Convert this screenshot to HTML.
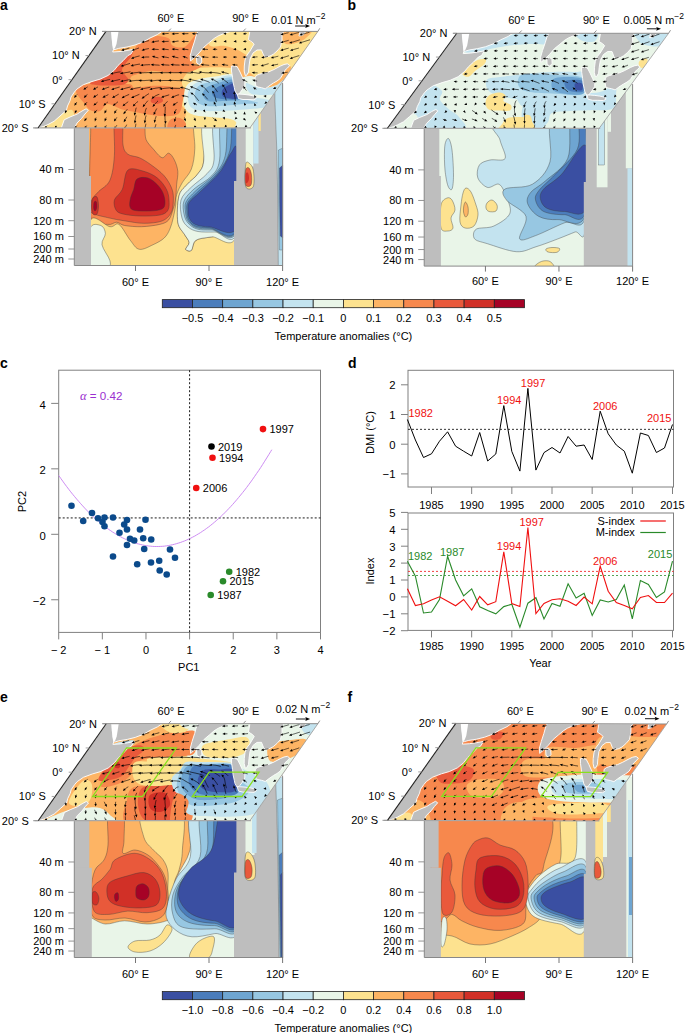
<!DOCTYPE html>
<html><head><meta charset="utf-8"><style>
html,body{margin:0;padding:0;background:#fff;}
svg{display:block;font-family:"Liberation Sans",sans-serif;}
</style></head><body>
<svg width="685" height="1033" viewBox="0 0 685 1033">
<rect width="685" height="1033" fill="#fff"/>
<text x="0.0" y="10.2" font-size="14" text-anchor="start" fill="#000" font-weight="bold" >a</text>
<text x="347.5" y="10.2" font-size="14" text-anchor="start" fill="#000" font-weight="bold" >b</text>
<text x="0.0" y="368.0" font-size="14" text-anchor="start" fill="#000" font-weight="bold" >c</text>
<text x="348.0" y="368.0" font-size="14" text-anchor="start" fill="#000" font-weight="bold" >d</text>
<text x="0.0" y="702.0" font-size="14" text-anchor="start" fill="#000" font-weight="bold" >e</text>
<text x="347.5" y="702.0" font-size="14" text-anchor="start" fill="#000" font-weight="bold" >f</text>
<rect x="162.30" y="299.60" width="30.18" height="8.1" fill="#3a4fa2" stroke="#222" stroke-width="0.8"/>
<rect x="192.48" y="299.60" width="30.18" height="8.1" fill="#4b7dbc" stroke="#222" stroke-width="0.8"/>
<rect x="222.67" y="299.60" width="30.18" height="8.1" fill="#6ea5d1" stroke="#222" stroke-width="0.8"/>
<rect x="252.85" y="299.60" width="30.18" height="8.1" fill="#97c7e2" stroke="#222" stroke-width="0.8"/>
<rect x="283.03" y="299.60" width="30.18" height="8.1" fill="#c3e3ef" stroke="#222" stroke-width="0.8"/>
<rect x="313.22" y="299.60" width="30.18" height="8.1" fill="#e9f5e8" stroke="#222" stroke-width="0.8"/>
<rect x="343.40" y="299.60" width="30.18" height="8.1" fill="#fde28f" stroke="#222" stroke-width="0.8"/>
<rect x="373.58" y="299.60" width="30.18" height="8.1" fill="#fdb464" stroke="#222" stroke-width="0.8"/>
<rect x="403.77" y="299.60" width="30.18" height="8.1" fill="#f7884d" stroke="#222" stroke-width="0.8"/>
<rect x="433.95" y="299.60" width="30.18" height="8.1" fill="#e9593b" stroke="#222" stroke-width="0.8"/>
<rect x="464.13" y="299.60" width="30.18" height="8.1" fill="#d13027" stroke="#222" stroke-width="0.8"/>
<rect x="494.32" y="299.60" width="30.18" height="8.1" fill="#a60226" stroke="#222" stroke-width="0.8"/>
<text x="192.5" y="321.9" font-size="11" text-anchor="middle" fill="#000" font-weight="normal" >−0.5</text>
<text x="222.7" y="321.9" font-size="11" text-anchor="middle" fill="#000" font-weight="normal" >−0.4</text>
<text x="252.9" y="321.9" font-size="11" text-anchor="middle" fill="#000" font-weight="normal" >−0.3</text>
<text x="283.0" y="321.9" font-size="11" text-anchor="middle" fill="#000" font-weight="normal" >−0.2</text>
<text x="313.2" y="321.9" font-size="11" text-anchor="middle" fill="#000" font-weight="normal" >−0.1</text>
<text x="343.4" y="321.9" font-size="11" text-anchor="middle" fill="#000" font-weight="normal" >0</text>
<text x="373.6" y="321.9" font-size="11" text-anchor="middle" fill="#000" font-weight="normal" >0.1</text>
<text x="403.8" y="321.9" font-size="11" text-anchor="middle" fill="#000" font-weight="normal" >0.2</text>
<text x="433.9" y="321.9" font-size="11" text-anchor="middle" fill="#000" font-weight="normal" >0.3</text>
<text x="464.1" y="321.9" font-size="11" text-anchor="middle" fill="#000" font-weight="normal" >0.4</text>
<text x="494.3" y="321.9" font-size="11" text-anchor="middle" fill="#000" font-weight="normal" >0.5</text>
<text x="343.4" y="339.7" font-size="11" text-anchor="middle" fill="#000" font-weight="normal" >Temperature anomalies (°C)</text>
<rect x="162.30" y="991.60" width="30.18" height="8.1" fill="#3a4fa2" stroke="#222" stroke-width="0.8"/>
<rect x="192.48" y="991.60" width="30.18" height="8.1" fill="#4b7dbc" stroke="#222" stroke-width="0.8"/>
<rect x="222.67" y="991.60" width="30.18" height="8.1" fill="#6ea5d1" stroke="#222" stroke-width="0.8"/>
<rect x="252.85" y="991.60" width="30.18" height="8.1" fill="#97c7e2" stroke="#222" stroke-width="0.8"/>
<rect x="283.03" y="991.60" width="30.18" height="8.1" fill="#c3e3ef" stroke="#222" stroke-width="0.8"/>
<rect x="313.22" y="991.60" width="30.18" height="8.1" fill="#e9f5e8" stroke="#222" stroke-width="0.8"/>
<rect x="343.40" y="991.60" width="30.18" height="8.1" fill="#fde28f" stroke="#222" stroke-width="0.8"/>
<rect x="373.58" y="991.60" width="30.18" height="8.1" fill="#fdb464" stroke="#222" stroke-width="0.8"/>
<rect x="403.77" y="991.60" width="30.18" height="8.1" fill="#f7884d" stroke="#222" stroke-width="0.8"/>
<rect x="433.95" y="991.60" width="30.18" height="8.1" fill="#e9593b" stroke="#222" stroke-width="0.8"/>
<rect x="464.13" y="991.60" width="30.18" height="8.1" fill="#d13027" stroke="#222" stroke-width="0.8"/>
<rect x="494.32" y="991.60" width="30.18" height="8.1" fill="#a60226" stroke="#222" stroke-width="0.8"/>
<text x="192.5" y="1013.9" font-size="11" text-anchor="middle" fill="#000" font-weight="normal" >−1.0</text>
<text x="222.7" y="1013.9" font-size="11" text-anchor="middle" fill="#000" font-weight="normal" >−0.8</text>
<text x="252.9" y="1013.9" font-size="11" text-anchor="middle" fill="#000" font-weight="normal" >−0.6</text>
<text x="283.0" y="1013.9" font-size="11" text-anchor="middle" fill="#000" font-weight="normal" >−0.4</text>
<text x="313.2" y="1013.9" font-size="11" text-anchor="middle" fill="#000" font-weight="normal" >−0.2</text>
<text x="343.4" y="1013.9" font-size="11" text-anchor="middle" fill="#000" font-weight="normal" >0</text>
<text x="373.6" y="1013.9" font-size="11" text-anchor="middle" fill="#000" font-weight="normal" >0.2</text>
<text x="403.8" y="1013.9" font-size="11" text-anchor="middle" fill="#000" font-weight="normal" >0.4</text>
<text x="433.9" y="1013.9" font-size="11" text-anchor="middle" fill="#000" font-weight="normal" >0.6</text>
<text x="464.1" y="1013.9" font-size="11" text-anchor="middle" fill="#000" font-weight="normal" >0.8</text>
<text x="494.3" y="1013.9" font-size="11" text-anchor="middle" fill="#000" font-weight="normal" >1.0</text>
<text x="343.4" y="1031.7" font-size="11" text-anchor="middle" fill="#000" font-weight="normal" >Temperature anomalies (°C)</text>
<rect x="58.7" y="370.2" width="261.8" height="262.2" fill="none" stroke="#808080" stroke-width="1"/>
<line x1="51.20" y1="403.38" x2="58.70" y2="403.38" stroke="#808080" stroke-width="1" />
<text x="45.7" y="408.7" font-size="11.3" text-anchor="end" fill="#000" font-weight="normal" >4</text>
<line x1="51.20" y1="468.84" x2="58.70" y2="468.84" stroke="#808080" stroke-width="1" />
<text x="45.7" y="474.1" font-size="11.3" text-anchor="end" fill="#000" font-weight="normal" >2</text>
<line x1="51.20" y1="534.30" x2="58.70" y2="534.30" stroke="#808080" stroke-width="1" />
<text x="45.7" y="539.6" font-size="11.3" text-anchor="end" fill="#000" font-weight="normal" >0</text>
<line x1="51.20" y1="599.76" x2="58.70" y2="599.76" stroke="#808080" stroke-width="1" />
<text x="45.7" y="605.1" font-size="11.3" text-anchor="end" fill="#000" font-weight="normal" >−2</text>
<line x1="58.70" y1="632.40" x2="58.70" y2="639.40" stroke="#808080" stroke-width="1" />
<text x="58.7" y="653.8" font-size="11" text-anchor="middle" fill="#000" font-weight="normal" >− 2</text>
<line x1="102.33" y1="632.40" x2="102.33" y2="639.40" stroke="#808080" stroke-width="1" />
<text x="102.3" y="653.8" font-size="11" text-anchor="middle" fill="#000" font-weight="normal" >− 1</text>
<line x1="145.97" y1="632.40" x2="145.97" y2="639.40" stroke="#808080" stroke-width="1" />
<text x="146.0" y="653.8" font-size="11" text-anchor="middle" fill="#000" font-weight="normal" >0</text>
<line x1="189.60" y1="632.40" x2="189.60" y2="639.40" stroke="#808080" stroke-width="1" />
<text x="189.6" y="653.8" font-size="11" text-anchor="middle" fill="#000" font-weight="normal" >1</text>
<line x1="233.23" y1="632.40" x2="233.23" y2="639.40" stroke="#808080" stroke-width="1" />
<text x="233.2" y="653.8" font-size="11" text-anchor="middle" fill="#000" font-weight="normal" >2</text>
<line x1="276.87" y1="632.40" x2="276.87" y2="639.40" stroke="#808080" stroke-width="1" />
<text x="276.9" y="653.8" font-size="11" text-anchor="middle" fill="#000" font-weight="normal" >3</text>
<line x1="320.50" y1="632.40" x2="320.50" y2="639.40" stroke="#808080" stroke-width="1" />
<text x="320.5" y="653.8" font-size="11" text-anchor="middle" fill="#000" font-weight="normal" >4</text>
<text x="188.8" y="670.5" font-size="11" text-anchor="middle" fill="#000" font-weight="normal" >PC1</text>
<text x="26.0" y="501.6" font-size="11" text-anchor="middle" fill="#000" font-weight="normal" transform="rotate(-90 26 501.6)">PC2</text>
<line x1="189.60" y1="370.20" x2="189.60" y2="632.40" stroke="#000" stroke-width="0.9" stroke-dasharray="2,2"/>
<line x1="58.70" y1="517.93" x2="320.50" y2="517.93" stroke="#000" stroke-width="0.9" stroke-dasharray="2,2"/>
<path d="M58.7,475.5 L60.7,478.3 L62.7,481.1 L64.7,483.9 L66.7,486.6 L68.7,489.2 L70.7,491.8 L72.7,494.3 L74.7,496.7 L76.7,499.1 L78.7,501.4 L80.7,503.7 L82.7,505.9 L84.7,508.1 L86.7,510.2 L88.7,512.2 L90.7,514.2 L92.7,516.1 L94.7,518.0 L96.7,519.8 L98.7,521.5 L100.7,523.2 L102.7,524.8 L104.7,526.4 L106.7,527.9 L108.7,529.4 L110.7,530.7 L112.7,532.1 L114.7,533.3 L116.7,534.6 L118.7,535.7 L120.7,536.8 L122.7,537.9 L124.7,538.8 L126.7,539.8 L128.7,540.6 L130.7,541.4 L132.7,542.2 L134.7,542.8 L136.7,543.5 L138.7,544.0 L140.7,544.5 L142.7,545.0 L144.7,545.4 L146.7,545.7 L148.7,546.0 L150.7,546.2 L152.7,546.4 L154.7,546.5 L156.7,546.5 L158.7,546.5 L160.7,546.4 L162.7,546.3 L164.7,546.1 L166.7,545.8 L168.7,545.5 L170.7,545.1 L172.7,544.7 L174.7,544.2 L176.7,543.6 L178.7,543.0 L180.7,542.4 L182.7,541.6 L184.7,540.9 L186.7,540.0 L188.7,539.1 L190.7,538.2 L192.7,537.1 L194.7,536.1 L196.7,534.9 L198.7,533.7 L200.7,532.5 L202.7,531.1 L204.7,529.8 L206.7,528.3 L208.7,526.9 L210.7,525.3 L212.7,523.7 L214.7,522.0 L216.7,520.3 L218.7,518.5 L220.7,516.7 L222.7,514.8 L224.7,512.8 L226.7,510.8 L228.7,508.7 L230.7,506.6 L232.7,504.4 L234.7,502.1 L236.7,499.8 L238.7,497.4 L240.7,495.0 L242.7,492.5 L244.7,490.0 L246.7,487.4 L248.7,484.7 L250.7,482.0 L252.7,479.2 L254.7,476.3 L256.7,473.4 L258.7,470.5 L260.7,467.5 L262.7,464.4 L264.7,461.2 L266.7,458.0 L268.7,454.8 L270.7,451.5 L271.8,449.7" fill="none" stroke="#c780f0" stroke-width="0.9" />
<text x="80" y="399.6" font-size="11.6" fill="#9a2fd0"><tspan font-style="italic" font-family="Liberation Serif" font-size="12.5">α</tspan> = 0.42</text>
<circle cx="71.5" cy="505.8" r="3.3" fill="#0b4a8b"/>
<circle cx="83.2" cy="521" r="3.3" fill="#0b4a8b"/>
<circle cx="92" cy="513" r="3.3" fill="#0b4a8b"/>
<circle cx="98" cy="518.2" r="3.3" fill="#0b4a8b"/>
<circle cx="104.5" cy="517.5" r="3.3" fill="#0b4a8b"/>
<circle cx="102.5" cy="522" r="3.3" fill="#0b4a8b"/>
<circle cx="104.5" cy="526.2" r="3.3" fill="#0b4a8b"/>
<circle cx="113" cy="517.5" r="3.3" fill="#0b4a8b"/>
<circle cx="113" cy="556.5" r="3.3" fill="#0b4a8b"/>
<circle cx="119.5" cy="532.7" r="3.3" fill="#0b4a8b"/>
<circle cx="124.2" cy="524.5" r="3.3" fill="#0b4a8b"/>
<circle cx="127" cy="520" r="3.3" fill="#0b4a8b"/>
<circle cx="127" cy="529.5" r="3.3" fill="#0b4a8b"/>
<circle cx="127" cy="545" r="3.3" fill="#0b4a8b"/>
<circle cx="130" cy="538.7" r="3.3" fill="#0b4a8b"/>
<circle cx="134.2" cy="540.5" r="3.3" fill="#0b4a8b"/>
<circle cx="137.2" cy="564.2" r="3.3" fill="#0b4a8b"/>
<circle cx="140" cy="529.5" r="3.3" fill="#0b4a8b"/>
<circle cx="143.2" cy="538.2" r="3.3" fill="#0b4a8b"/>
<circle cx="144.2" cy="549" r="3.3" fill="#0b4a8b"/>
<circle cx="145.5" cy="519.7" r="3.3" fill="#0b4a8b"/>
<circle cx="151.2" cy="539.5" r="3.3" fill="#0b4a8b"/>
<circle cx="151" cy="562.5" r="3.3" fill="#0b4a8b"/>
<circle cx="159.2" cy="560.7" r="3.3" fill="#0b4a8b"/>
<circle cx="159.7" cy="570.5" r="3.3" fill="#0b4a8b"/>
<circle cx="166.7" cy="574.5" r="3.3" fill="#0b4a8b"/>
<circle cx="170" cy="549.5" r="3.3" fill="#0b4a8b"/>
<circle cx="175" cy="557.7" r="3.3" fill="#0b4a8b"/>
<circle cx="263" cy="429.1" r="3.3" fill="#f01010"/>
<text x="269.5" y="433.1" font-size="11" text-anchor="start" fill="#000" font-weight="normal" >1997</text>
<circle cx="211.5" cy="446.5" r="3.3" fill="#000"/>
<text x="218.0" y="450.5" font-size="11" text-anchor="start" fill="#000" font-weight="normal" >2019</text>
<circle cx="212.5" cy="457.75" r="3.3" fill="#f01010"/>
<text x="219.0" y="461.8" font-size="11" text-anchor="start" fill="#000" font-weight="normal" >1994</text>
<circle cx="196.25" cy="488" r="3.3" fill="#f01010"/>
<text x="202.8" y="492.0" font-size="11" text-anchor="start" fill="#000" font-weight="normal" >2006</text>
<circle cx="229.2" cy="571.7" r="3.3" fill="#2a8a2a"/>
<text x="235.7" y="575.7" font-size="11" text-anchor="start" fill="#000" font-weight="normal" >1982</text>
<circle cx="223" cy="581.2" r="3.3" fill="#2a8a2a"/>
<text x="229.5" y="585.2" font-size="11" text-anchor="start" fill="#000" font-weight="normal" >2015</text>
<circle cx="210.7" cy="595" r="3.3" fill="#2a8a2a"/>
<text x="217.2" y="599.0" font-size="11" text-anchor="start" fill="#000" font-weight="normal" >1987</text>
<rect x="408" y="370.3" width="265.5" height="116.7" fill="none" stroke="#808080" stroke-width="1"/>
<line x1="401.00" y1="384.80" x2="408.00" y2="384.80" stroke="#808080" stroke-width="1" />
<text x="395.5" y="389.1" font-size="11.3" text-anchor="end" fill="#000" font-weight="normal" >2</text>
<line x1="401.00" y1="414.50" x2="408.00" y2="414.50" stroke="#808080" stroke-width="1" />
<text x="395.5" y="418.8" font-size="11.3" text-anchor="end" fill="#000" font-weight="normal" >1</text>
<line x1="401.00" y1="444.20" x2="408.00" y2="444.20" stroke="#808080" stroke-width="1" />
<text x="395.5" y="448.5" font-size="11.3" text-anchor="end" fill="#000" font-weight="normal" >0</text>
<line x1="401.00" y1="473.90" x2="408.00" y2="473.90" stroke="#808080" stroke-width="1" />
<text x="395.5" y="478.2" font-size="11.3" text-anchor="end" fill="#000" font-weight="normal" >−1</text>
<line x1="431.50" y1="487.00" x2="431.50" y2="494.00" stroke="#808080" stroke-width="1" />
<text x="431.5" y="508.8" font-size="11" text-anchor="middle" fill="#000" font-weight="normal" >1985</text>
<line x1="471.67" y1="487.00" x2="471.67" y2="494.00" stroke="#808080" stroke-width="1" />
<text x="471.7" y="508.8" font-size="11" text-anchor="middle" fill="#000" font-weight="normal" >1990</text>
<line x1="511.83" y1="487.00" x2="511.83" y2="494.00" stroke="#808080" stroke-width="1" />
<text x="511.8" y="508.8" font-size="11" text-anchor="middle" fill="#000" font-weight="normal" >1995</text>
<line x1="552.00" y1="487.00" x2="552.00" y2="494.00" stroke="#808080" stroke-width="1" />
<text x="552.0" y="508.8" font-size="11" text-anchor="middle" fill="#000" font-weight="normal" >2000</text>
<line x1="592.16" y1="487.00" x2="592.16" y2="494.00" stroke="#808080" stroke-width="1" />
<text x="592.2" y="508.8" font-size="11" text-anchor="middle" fill="#000" font-weight="normal" >2005</text>
<line x1="632.33" y1="487.00" x2="632.33" y2="494.00" stroke="#808080" stroke-width="1" />
<text x="632.3" y="508.8" font-size="11" text-anchor="middle" fill="#000" font-weight="normal" >2010</text>
<line x1="672.50" y1="487.00" x2="672.50" y2="494.00" stroke="#808080" stroke-width="1" />
<text x="672.5" y="508.8" font-size="11" text-anchor="middle" fill="#000" font-weight="normal" >2015</text>
<text x="373.5" y="432.5" font-size="11" text-anchor="middle" fill="#000" font-weight="normal" transform="rotate(-90 373.5 432.5)">DMI (°C)</text>
<line x1="408.00" y1="429.35" x2="673.50" y2="429.35" stroke="#000" stroke-width="0.8" stroke-dasharray="2,2"/>
<path d="M407.4,419.5 L415.4,440.0 L423.5,457.5 L431.5,453.8 L439.5,441.2 L447.6,431.8 L455.6,446.2 L463.6,451.2 L471.7,456.0 L479.7,432.5 L487.7,461.0 L495.8,454.0 L503.8,405.6 L511.8,451.4 L519.9,471.1 L527.9,388.4 L535.9,470.1 L544.0,452.6 L552.0,447.5 L560.0,453.0 L568.1,436.5 L576.1,446.2 L584.1,445.0 L592.2,459.5 L600.2,411.2 L608.2,433.8 L616.3,445.0 L624.3,451.2 L632.3,473.2 L640.4,433.0 L648.4,435.5 L656.4,452.5 L664.5,448.0 L672.5,424.5" fill="none" stroke="#000" stroke-width="1" />
<text x="408.5" y="417.3" font-size="11" text-anchor="start" fill="#f01010" font-weight="normal" >1982</text>
<text x="497.0" y="403.8" font-size="11" text-anchor="start" fill="#f01010" font-weight="normal" >1994</text>
<text x="520.8" y="387.3" font-size="11" text-anchor="start" fill="#f01010" font-weight="normal" >1997</text>
<text x="593.0" y="409.8" font-size="11" text-anchor="start" fill="#f01010" font-weight="normal" >2006</text>
<text x="647.0" y="421.5" font-size="11" text-anchor="start" fill="#f01010" font-weight="normal" >2015</text>
<rect x="408" y="513" width="265.5" height="117.4" fill="none" stroke="#808080" stroke-width="1"/>
<line x1="401.00" y1="512.40" x2="408.00" y2="512.40" stroke="#808080" stroke-width="1" />
<text x="395.5" y="516.7" font-size="11.3" text-anchor="end" fill="#000" font-weight="normal" >5</text>
<line x1="401.00" y1="529.30" x2="408.00" y2="529.30" stroke="#808080" stroke-width="1" />
<text x="395.5" y="533.6" font-size="11.3" text-anchor="end" fill="#000" font-weight="normal" >4</text>
<line x1="401.00" y1="546.20" x2="408.00" y2="546.20" stroke="#808080" stroke-width="1" />
<text x="395.5" y="550.5" font-size="11.3" text-anchor="end" fill="#000" font-weight="normal" >3</text>
<line x1="401.00" y1="563.10" x2="408.00" y2="563.10" stroke="#808080" stroke-width="1" />
<text x="395.5" y="567.4" font-size="11.3" text-anchor="end" fill="#000" font-weight="normal" >2</text>
<line x1="401.00" y1="580.00" x2="408.00" y2="580.00" stroke="#808080" stroke-width="1" />
<text x="395.5" y="584.3" font-size="11.3" text-anchor="end" fill="#000" font-weight="normal" >1</text>
<line x1="401.00" y1="596.90" x2="408.00" y2="596.90" stroke="#808080" stroke-width="1" />
<text x="395.5" y="601.2" font-size="11.3" text-anchor="end" fill="#000" font-weight="normal" >0</text>
<line x1="401.00" y1="613.80" x2="408.00" y2="613.80" stroke="#808080" stroke-width="1" />
<text x="395.5" y="618.1" font-size="11.3" text-anchor="end" fill="#000" font-weight="normal" >−1</text>
<line x1="401.00" y1="630.70" x2="408.00" y2="630.70" stroke="#808080" stroke-width="1" />
<text x="395.5" y="635.0" font-size="11.3" text-anchor="end" fill="#000" font-weight="normal" >−2</text>
<line x1="431.50" y1="630.40" x2="431.50" y2="637.40" stroke="#808080" stroke-width="1" />
<text x="431.5" y="650.3" font-size="11" text-anchor="middle" fill="#000" font-weight="normal" >1985</text>
<line x1="471.67" y1="630.40" x2="471.67" y2="637.40" stroke="#808080" stroke-width="1" />
<text x="471.7" y="650.3" font-size="11" text-anchor="middle" fill="#000" font-weight="normal" >1990</text>
<line x1="511.83" y1="630.40" x2="511.83" y2="637.40" stroke="#808080" stroke-width="1" />
<text x="511.8" y="650.3" font-size="11" text-anchor="middle" fill="#000" font-weight="normal" >1995</text>
<line x1="552.00" y1="630.40" x2="552.00" y2="637.40" stroke="#808080" stroke-width="1" />
<text x="552.0" y="650.3" font-size="11" text-anchor="middle" fill="#000" font-weight="normal" >2000</text>
<line x1="592.16" y1="630.40" x2="592.16" y2="637.40" stroke="#808080" stroke-width="1" />
<text x="592.2" y="650.3" font-size="11" text-anchor="middle" fill="#000" font-weight="normal" >2005</text>
<line x1="632.33" y1="630.40" x2="632.33" y2="637.40" stroke="#808080" stroke-width="1" />
<text x="632.3" y="650.3" font-size="11" text-anchor="middle" fill="#000" font-weight="normal" >2010</text>
<line x1="672.50" y1="630.40" x2="672.50" y2="637.40" stroke="#808080" stroke-width="1" />
<text x="672.5" y="650.3" font-size="11" text-anchor="middle" fill="#000" font-weight="normal" >2015</text>
<text x="540.3" y="666.8" font-size="11" text-anchor="middle" fill="#000" font-weight="normal" >Year</text>
<text x="374.0" y="571.0" font-size="11" text-anchor="middle" fill="#000" font-weight="normal" transform="rotate(-90 374 571)">Index</text>
<line x1="408.00" y1="571.40" x2="673.50" y2="571.40" stroke="#f01010" stroke-width="0.8" stroke-dasharray="2,2"/>
<line x1="408.00" y1="575.50" x2="673.50" y2="575.50" stroke="#2a8a2a" stroke-width="0.8" stroke-dasharray="2,2"/>
<path d="M407.4,561.2 L415.4,576.2 L423.5,613.0 L431.5,612.0 L439.5,599.5 L447.6,556.2 L455.6,580.0 L463.6,595.8 L471.7,588.8 L479.7,606.8 L487.7,610.5 L495.8,613.8 L503.8,606.6 L511.8,604.2 L519.9,627.2 L527.9,603.2 L535.9,597.7 L544.0,618.9 L552.0,603.4 L560.0,606.2 L568.1,583.8 L576.1,598.0 L584.1,593.2 L592.2,615.5 L600.2,600.0 L608.2,602.0 L616.3,599.5 L624.3,585.0 L632.3,618.8 L640.4,580.5 L648.4,584.5 L656.4,597.5 L664.5,592.0 L672.5,561.2" fill="none" stroke="#2a8a2a" stroke-width="1.1" />
<path d="M407.4,588.8 L415.4,605.5 L423.5,603.8 L431.5,600.0 L439.5,596.8 L447.6,601.2 L455.6,605.8 L463.6,599.5 L471.7,610.0 L479.7,596.5 L487.7,604.8 L495.8,601.7 L503.8,551.8 L511.8,603.5 L519.9,606.5 L527.9,527.5 L535.9,613.5 L544.0,603.4 L552.0,599.8 L560.0,598.8 L568.1,601.2 L576.1,605.5 L584.1,597.0 L592.2,603.8 L600.2,566.2 L608.2,591.2 L616.3,602.5 L624.3,605.5 L632.3,608.8 L640.4,597.5 L648.4,595.5 L656.4,602.5 L664.5,602.5 L672.5,593.2" fill="none" stroke="#f01010" stroke-width="1.1" />
<text x="408.0" y="560.0" font-size="11" text-anchor="start" fill="#2a8a2a" font-weight="normal" >1982</text>
<text x="440.0" y="556.3" font-size="11" text-anchor="start" fill="#2a8a2a" font-weight="normal" >1987</text>
<text x="496.8" y="550.0" font-size="11" text-anchor="start" fill="#f01010" font-weight="normal" >1994</text>
<text x="519.5" y="525.8" font-size="11" text-anchor="start" fill="#f01010" font-weight="normal" >1997</text>
<text x="593.0" y="565.0" font-size="11" text-anchor="start" fill="#f01010" font-weight="normal" >2006</text>
<text x="647.8" y="557.5" font-size="11" text-anchor="start" fill="#2a8a2a" font-weight="normal" >2015</text>
<text x="634.8" y="525.0" font-size="11" text-anchor="end" fill="#000" font-weight="normal" >S-index</text>
<text x="634.8" y="536.3" font-size="11" text-anchor="end" fill="#000" font-weight="normal" >M-index</text>
<line x1="640.30" y1="521.00" x2="665.80" y2="521.00" stroke="#f01010" stroke-width="1.2" />
<line x1="640.30" y1="532.50" x2="665.80" y2="532.50" stroke="#2a8a2a" stroke-width="1.2" />
<clipPath id="pga"><path d="M106,31.4 L317.9,31.4 L249.89999999999998,127.94999999999999 L38,127.95Z"/></clipPath>
<clipPath id="sca"><rect x="74.3" y="84.5" width="208.9" height="181.0"/></clipPath>
<g clip-path="url(#sca)">
<rect x="74.3" y="68.5" width="208.3" height="197.0" fill="#bebebe"/>
<rect x="89" y="68.5" width="148" height="197.0" fill="#fdb464"/>
<path d="M91.8,120.0 C100.8,118.3 136.1,118.5 145.0,120.0 C153.9,121.5 144.8,125.4 145.0,128.7 C145.2,132.0 144.8,136.3 146.1,139.6 C147.4,142.9 150.2,145.6 152.9,148.6 C155.6,151.6 159.4,156.9 162.0,157.7 C164.6,158.5 166.6,152.8 168.7,153.2 C170.8,153.6 172.9,157.0 174.4,160.0 C175.9,163.0 177.4,167.2 177.8,171.3 C178.2,175.4 177.0,180.0 176.6,184.8 C176.2,189.6 176.1,196.0 175.5,200.0 C174.9,204.0 174.4,205.3 173.3,208.6 C172.2,211.9 171.0,217.3 168.7,219.9 C166.4,222.5 164.2,223.3 159.7,224.4 C155.2,225.5 147.4,226.5 141.6,226.7 C135.8,226.9 128.8,226.2 124.6,225.5 C120.4,224.8 119.5,222.4 116.7,222.2 C113.9,222.0 111.9,225.3 107.6,224.4 C103.3,223.5 93.5,232.2 90.7,216.5 C87.9,200.8 90.5,146.1 90.7,130.0 C90.9,113.9 82.8,121.7 91.8,120.0Z" fill="#f7884d" stroke="#3a3a3a" stroke-width="0.4"/>
<path d="M193.6,120.0 C195.1,115.2 202.1,113.3 203.8,120.0 C205.5,126.7 204.8,151.1 203.8,160.0 C202.9,168.9 200.9,169.4 198.1,173.5 C195.3,177.6 190.0,181.0 186.8,184.8 C183.6,188.6 180.4,190.0 178.9,196.2 C177.4,202.4 176.9,215.8 177.8,222.2 C178.8,228.6 182.7,231.2 184.6,234.6 C186.5,238.0 188.9,240.1 189.1,242.5 C189.3,244.9 185.3,248.0 185.7,249.3 C186.1,250.6 189.7,251.9 191.4,250.4 C193.1,248.9 192.5,242.6 195.9,240.3 C199.3,238.1 204.8,238.0 211.7,236.9 C218.5,235.8 233.3,228.5 237.0,233.5 C240.7,238.5 258.5,261.4 234.0,267.0 C209.5,272.6 113.9,274.9 90.0,267.0 C66.1,259.1 87.4,226.6 90.7,219.9 C94.0,213.2 105.2,225.9 109.9,226.7 C114.6,227.4 115.6,222.1 119.0,224.4 C122.4,226.7 126.9,236.2 130.3,240.3 C133.7,244.5 135.5,248.6 139.3,249.3 C143.1,250.1 148.8,246.7 152.9,244.8 C157.1,242.9 161.4,240.6 164.2,238.0 C167.0,235.4 168.4,232.4 169.9,229.0 C171.4,225.6 172.4,221.4 173.3,217.6 C174.2,213.8 174.9,210.1 175.5,206.3 C176.1,202.5 175.5,198.9 176.6,195.0 C177.7,191.1 179.8,186.9 182.3,182.6 C184.8,178.3 189.3,174.7 191.4,169.0 C193.5,163.3 194.4,156.8 194.8,148.6 C195.2,140.4 192.1,124.8 193.6,120.0Z" fill="#fde28f" stroke="#3a3a3a" stroke-width="0.4"/>
<path d="M90.0,229.0 C91.8,222.1 98.2,224.8 100.8,225.5 C103.4,226.2 105.2,230.3 105.4,233.5 C105.6,236.7 101.2,240.3 102.0,244.8 C102.8,249.3 109.0,256.9 109.9,260.6 C110.8,264.3 110.9,265.9 107.6,267.0 C104.3,268.1 92.9,273.3 90.0,267.0 C87.1,260.7 88.2,235.9 90.0,229.0Z" fill="#e9f5e8" stroke="#3a3a3a" stroke-width="0.4"/>
<path d="M114.4,120.0 C115.7,114.1 120.9,115.8 122.3,120.0 C123.7,124.2 122.0,139.3 123.0,145.0 C124.0,150.7 125.3,152.2 128.0,154.3 C130.7,156.4 135.5,156.0 139.3,157.7 C143.1,159.4 146.4,161.5 150.6,164.5 C154.8,167.5 160.6,171.7 164.2,175.8 C167.8,180.0 170.6,185.1 172.1,189.4 C173.6,193.7 173.5,197.9 173.3,201.8 C173.1,205.8 172.9,209.9 171.0,213.1 C169.1,216.3 166.5,219.3 162.0,221.0 C157.5,222.7 149.9,223.3 143.8,223.3 C137.8,223.3 131.7,221.9 125.7,221.0 C119.7,220.1 113.4,219.1 107.6,217.6 C101.8,216.1 93.3,214.9 90.7,212.0 C88.1,209.1 90.5,203.4 91.8,200.0 C93.1,196.6 95.6,194.9 98.6,191.6 C101.6,188.3 107.3,186.3 109.9,180.3 C112.5,174.3 113.7,165.5 114.4,155.4 C115.2,145.3 113.1,125.9 114.4,120.0Z" fill="#e9593b" stroke="#3a3a3a" stroke-width="0.4"/>
<path d="M128.0,170.0 C131.6,167.0 138.9,170.0 143.8,171.3 C148.7,172.6 153.6,175.0 157.4,178.0 C161.2,181.0 164.6,185.7 166.5,189.4 C168.4,193.1 168.8,196.6 169.0,200.0 C169.2,203.4 169.5,207.5 168.0,210.0 C166.5,212.5 164.7,214.0 160.0,215.0 C155.3,216.0 146.2,216.2 140.0,216.0 C133.8,215.8 127.0,215.0 123.0,214.0 C119.0,213.0 117.4,212.3 116.0,210.0 C114.6,207.7 113.4,203.4 114.4,200.0 C115.5,196.6 120.0,194.4 122.3,189.4 C124.6,184.4 124.4,173.0 128.0,170.0Z" fill="#d13027" stroke="#3a3a3a" stroke-width="0.4"/>
<path d="M137.0,179.0 C139.4,177.1 144.6,177.0 148.0,178.0 C151.4,179.0 154.9,182.3 157.4,184.8 C159.9,187.3 161.7,190.0 163.0,193.0 C164.3,196.0 165.2,200.3 165.0,203.0 C164.8,205.7 164.5,207.7 162.0,209.0 C159.5,210.3 154.5,210.8 150.0,211.0 C145.5,211.2 138.3,211.2 135.0,210.5 C131.7,209.8 130.8,209.1 130.0,207.0 C129.2,204.9 129.9,200.9 130.5,198.0 C131.1,195.1 132.6,192.6 133.7,189.4 C134.8,186.2 134.6,180.9 137.0,179.0Z" fill="#a60226" stroke="#3a3a3a" stroke-width="0.4"/>
<path d="M93.0,198.0 C93.9,196.5 96.1,195.7 97.0,197.0 C97.9,198.3 98.5,203.2 98.5,206.0 C98.5,208.8 97.9,212.7 97.0,214.0 C96.1,215.3 93.9,215.3 93.0,214.0 C92.1,212.7 91.5,208.7 91.5,206.0 C91.5,203.3 92.1,199.5 93.0,198.0Z" fill="#d13027" stroke="#3a3a3a" stroke-width="0.4"/>
<path d="M94.2,202.0 C94.7,201.0 96.1,201.0 96.5,202.0 C96.9,203.0 97.0,206.5 96.8,208.0 C96.5,209.5 95.5,211.0 95.0,211.0 C94.5,211.0 93.7,209.5 93.6,208.0 C93.5,206.5 93.7,203.0 94.2,202.0Z" fill="#a60226" stroke="#3a3a3a" stroke-width="0.4"/>
<path d="M203.8,120.0 C209.3,113.3 231.5,101.1 237.0,120.0 C242.5,138.9 241.2,214.0 237.0,233.5 C232.8,253.0 218.5,235.8 211.7,236.9 C204.8,238.0 199.3,238.1 195.9,240.3 C192.5,242.6 193.1,248.9 191.4,250.4 C189.7,251.9 186.1,250.6 185.7,249.3 C185.3,248.0 189.3,244.9 189.1,242.5 C188.9,240.1 186.5,238.0 184.6,234.6 C182.7,231.2 178.8,228.6 177.8,222.2 C176.9,215.8 177.4,202.4 178.9,196.2 C180.4,190.0 183.6,188.6 186.8,184.8 C190.0,181.0 195.3,177.6 198.1,173.5 C200.9,169.4 202.9,168.9 203.8,160.0 C204.8,151.1 198.3,126.7 203.8,120.0Z" fill="#e9f5e8" stroke="#3a3a3a" stroke-width="0.4"/>
<path d="M214.0,120.0 C217.8,113.3 233.2,101.5 237.0,120.0 C240.8,138.5 240.7,212.3 237.0,231.0 C233.3,249.7 221.5,231.9 215.0,232.0 C208.5,232.1 202.5,232.3 198.0,231.5 C193.5,230.7 190.7,229.2 188.0,227.0 C185.3,224.8 183.2,222.5 182.0,218.0 C180.8,213.5 179.4,205.2 181.0,200.0 C182.6,194.8 187.0,191.5 191.4,187.1 C195.8,182.7 203.4,178.0 207.2,173.5 C211.0,169.0 212.9,168.9 214.0,160.0 C215.1,151.1 210.2,126.7 214.0,120.0Z" fill="#c3e3ef" stroke="#3a3a3a" stroke-width="0.4"/>
<path d="M220.8,120.0 C223.7,113.3 234.3,101.8 237.0,120.0 C239.7,138.2 241.2,211.2 237.0,229.5 C232.8,247.8 218.7,230.1 212.0,230.0 C205.3,229.9 201.0,230.2 197.0,229.0 C193.0,227.8 190.2,225.5 188.0,223.0 C185.8,220.5 184.7,217.7 184.0,214.0 C183.3,210.3 182.3,205.2 184.0,201.0 C185.7,196.8 189.4,193.2 194.0,189.0 C198.6,184.8 207.4,180.6 211.7,175.8 C216.0,171.0 218.1,169.3 219.6,160.0 C221.1,150.7 217.9,126.7 220.8,120.0Z" fill="#97c7e2" stroke="#3a3a3a" stroke-width="0.4"/>
<path d="M228.0,120.0 C229.9,114.1 235.5,101.9 237.0,120.0 C238.5,138.1 241.3,210.3 237.0,228.5 C232.7,246.7 217.8,229.2 211.0,229.0 C204.2,228.8 199.8,228.8 196.0,227.5 C192.2,226.2 189.8,223.6 188.0,221.0 C186.2,218.4 185.8,215.2 185.5,212.0 C185.2,208.8 184.2,205.6 186.0,202.0 C187.8,198.4 191.2,195.2 196.0,190.5 C200.8,185.8 210.1,179.8 215.0,174.0 C219.9,168.2 223.1,164.4 225.3,155.4 C227.5,146.4 226.1,125.9 228.0,120.0Z" fill="#6ea5d1" stroke="#3a3a3a" stroke-width="0.4"/>
<path d="M232.3,120.0 C233.5,114.8 236.2,102.0 237.0,120.0 C237.8,138.0 241.5,209.8 237.0,227.8 C232.5,245.8 217.0,228.3 210.0,228.0 C203.0,227.7 198.6,227.4 195.0,226.0 C191.4,224.6 189.9,222.0 188.5,219.5 C187.1,217.0 186.9,213.9 186.8,211.0 C186.7,208.1 186.1,205.2 188.0,202.0 C189.9,198.8 193.0,196.4 198.0,191.5 C203.0,186.6 212.7,179.3 218.0,172.5 C223.3,165.7 227.4,159.7 229.8,150.9 C232.2,142.2 231.1,125.2 232.3,120.0Z" fill="#4b7dbc" stroke="#3a3a3a" stroke-width="0.4"/>
<path d="M237.0,152.0 C238.0,164.3 241.5,214.5 237.0,227.0 C232.5,239.5 216.9,227.4 210.0,227.0 C203.1,226.6 198.9,225.9 195.5,224.5 C192.1,223.1 190.8,220.9 189.5,218.5 C188.2,216.1 188.0,212.8 188.0,210.0 C188.0,207.2 187.5,205.0 189.5,202.0 C191.5,199.0 194.9,197.0 200.0,192.0 C205.1,187.0 214.8,178.5 220.0,172.0 C225.2,165.5 228.2,156.3 231.0,153.0 C233.8,149.7 236.0,139.7 237.0,152.0Z" fill="#3a4fa2" stroke="#3a3a3a" stroke-width="0.4"/>
<rect x="74.3" y="68.5" width="14.700000000000003" height="107.5" fill="#bebebe"/>
<rect x="74.3" y="176" width="16.700000000000003" height="90.5" fill="#bebebe"/>
<rect x="236.3" y="68.5" width="46.30000000000001" height="198.0" fill="#bebebe"/>
<rect x="234" y="181" width="48.60000000000002" height="85.5" fill="#bebebe"/>
<rect x="245.7" y="68.5" width="7.6" height="98" fill="#e9f5e8"/>
<path d="M245.7,164.5 C246.2,160.6 247.7,162.1 249.0,163.0 C250.3,163.9 252.6,166.1 253.3,170.0 C254.0,173.9 254.6,183.8 253.3,186.6 C252.0,189.4 247.0,190.3 245.7,186.6 C244.4,182.9 245.1,168.4 245.7,164.5Z" fill="#fde28f" stroke="#3a3a3a" stroke-width="0.4"/>
<path d="M245.7,170.0 C246.2,167.2 248.0,167.2 249.0,168.0 C250.0,168.8 251.2,172.2 251.5,175.0 C251.8,177.8 252.0,183.3 251.0,185.0 C250.0,186.7 246.6,187.5 245.7,185.0 C244.8,182.5 245.1,172.8 245.7,170.0Z" fill="#e9593b" stroke="#3a3a3a" stroke-width="0.4"/>
<path d="M245.7,174.0 C246.1,172.5 247.4,172.2 248.0,173.0 C248.6,173.8 249.2,177.3 249.0,179.0 C248.8,180.7 247.6,182.5 247.0,183.0 C246.4,183.5 245.9,183.5 245.7,182.0 C245.5,180.5 245.3,175.5 245.7,174.0Z" fill="#d13027"/>
<rect x="253.3" y="68.5" width="5.2" height="95" fill="#c3e3ef"/>
<rect x="258.5" y="68.5" width="2.3" height="62.5" fill="#fde28f"/>
<path d="M274.9,80.0 L283.0,80.0 L283.0,266.0 L278.3,266.0 L277.8,200.0 L276.8,150.0 L274.9,100.0Z" fill="#c3e3ef" stroke="#3a3a3a" stroke-width="0.3"/>
<path d="M278.5,150.0 L283.0,148.0 L283.0,250.0 L279.5,250.0 L278.6,200.0Z" fill="#97c7e2" stroke="#3a3a3a" stroke-width="0.3"/>
<path d="M279.5,168.0 L283.0,165.0 L283.0,238.0 L280.3,236.0 L279.6,200.0Z" fill="#3a4fa2" stroke="#3a3a3a" stroke-width="0.3"/>
</g>
<g clip-path="url(#pga)">
<path d="M106.0,31.4 L317.9,31.4 L249.9,127.9 L38.0,128.0Z" fill="#fdb464" />
<path d="M231.0,28.0 C236.3,26.7 247.1,26.1 250.0,28.0 C252.9,29.9 247.7,37.0 248.4,39.7 C249.1,42.4 253.8,42.0 254.0,44.0 C254.2,46.0 251.0,49.6 249.8,51.4 C248.6,53.2 249.0,55.2 247.0,55.0 C245.0,54.8 241.7,51.5 238.0,50.0 C234.3,48.5 229.3,46.6 225.0,46.0 C220.7,45.4 214.6,47.1 212.0,46.5 C209.4,45.9 208.2,44.4 209.2,42.6 C210.2,40.9 214.4,38.4 218.0,36.0 C221.6,33.6 225.7,29.3 231.0,28.0Z" fill="#fde28f"/>
<path d="M282.0,28.0 C288.3,27.0 317.0,19.3 320.0,28.0 C323.0,36.7 305.1,73.8 300.0,80.0 C294.9,86.2 293.0,67.8 289.7,65.5 C286.4,63.2 283.9,65.0 280.4,66.1 C276.9,67.2 272.2,70.5 268.7,71.9 C265.2,73.3 261.6,73.5 259.4,74.3 C257.2,75.1 256.9,76.8 255.3,76.6 C253.7,76.4 251.4,73.4 250.0,73.0 C248.6,72.6 247.3,75.2 247.0,74.0 C246.7,72.8 247.5,68.7 248.0,66.0 C248.5,63.3 249.0,60.3 250.0,58.0 C251.0,55.7 252.7,53.4 254.0,52.0 C255.3,50.6 256.8,49.9 258.0,49.5 C259.2,49.1 260.4,48.6 261.5,49.9 C262.6,51.2 262.4,56.5 264.4,57.2 C266.3,57.9 270.5,56.0 273.2,54.3 C275.9,52.6 279.0,50.4 280.5,47.0 C282.0,43.6 281.8,37.0 282.0,33.8 C282.2,30.6 275.7,29.0 282.0,28.0Z" fill="#fde28f"/>
<path d="M285.0,28.0 C290.0,26.3 308.5,26.3 312.0,28.0 C315.5,29.7 308.7,35.5 306.0,38.0 C303.3,40.5 299.3,42.0 296.0,43.0 C292.7,44.0 288.3,44.8 286.0,44.0 C283.7,43.2 282.2,40.7 282.0,38.0 C281.8,35.3 280.0,29.7 285.0,28.0Z" fill="#fdb464"/>
<path d="M40.0,128.0 C37.0,126.7 45.3,123.8 48.0,122.0 C50.7,120.2 53.3,118.7 56.0,117.0 C58.7,115.3 61.3,113.2 64.0,112.0 C66.7,110.8 70.3,109.3 72.0,110.0 C73.7,110.7 74.3,114.0 74.0,116.0 C73.7,118.0 71.3,119.7 70.0,122.0 C68.7,124.3 71.0,129.0 66.0,130.0 C61.0,131.0 43.0,129.3 40.0,128.0Z" fill="#fde28f"/>
<path d="M195.0,68.0 C202.2,67.3 224.7,66.5 231.0,68.0 C237.3,69.5 235.7,75.1 233.0,77.0 C230.3,78.9 220.8,78.7 215.0,79.5 C209.2,80.3 202.8,80.6 198.0,82.0 C193.2,83.4 188.7,88.0 186.0,88.0 C183.3,88.0 181.7,84.7 182.0,82.0 C182.3,79.3 185.8,74.3 188.0,72.0 C190.2,69.7 187.8,68.7 195.0,68.0Z" fill="#fde28f"/>
<path d="M186.0,86.0 C185.3,86.0 183.7,91.8 183.0,95.0 C182.3,98.2 181.5,102.2 182.0,105.0 C182.5,107.8 185.2,107.8 186.0,112.0 C186.8,116.2 179.3,127.0 187.0,130.0 C194.7,133.0 224.2,133.0 232.0,130.0 C239.8,127.0 236.8,115.3 234.0,112.0 C231.2,108.7 221.5,110.7 215.0,110.0 C208.5,109.3 199.5,109.0 195.0,108.0 C190.5,107.0 189.3,106.2 188.0,104.0 C186.7,101.8 187.3,98.0 187.0,95.0 C186.7,92.0 186.7,86.0 186.0,86.0Z" fill="#fde28f"/>
<path d="M93.0,81.0 C88.7,80.9 97.5,80.3 100.0,79.5 C102.5,78.7 105.7,77.5 108.0,76.0 C110.3,74.5 112.3,72.0 114.0,70.3 C115.7,68.5 116.5,67.1 118.0,65.5 C119.5,63.9 121.3,62.5 123.0,60.8 C124.7,59.0 126.2,56.8 128.0,55.0 C129.8,53.2 132.5,51.7 134.0,50.0 C135.5,48.3 136.0,46.3 137.0,45.0 C138.0,43.7 137.8,43.1 140.0,42.0 C142.2,40.9 147.1,39.5 150.0,38.5 C152.9,37.5 154.3,35.9 157.5,35.9 C160.7,35.9 166.6,37.0 168.9,38.5 C171.2,40.0 170.2,43.1 171.5,44.6 C172.8,46.1 174.5,47.0 176.8,47.3 C179.1,47.6 182.9,47.9 185.5,46.4 C188.1,44.9 190.6,40.7 192.5,38.5 C194.4,36.3 196.7,32.6 197.0,33.0 C197.3,33.4 195.7,37.3 194.6,41.1 C193.5,44.9 190.8,52.4 190.2,55.7 C189.6,59.0 190.0,59.3 191.0,61.0 C192.0,62.7 194.2,65.2 196.0,66.0 C197.8,66.8 202.1,65.3 201.9,66.0 C201.7,66.7 197.4,69.0 194.9,70.1 C192.4,71.2 191.0,72.0 186.7,72.4 C182.4,72.8 175.0,72.7 169.2,72.4 C163.4,72.1 156.6,70.5 151.7,70.7 C146.8,70.9 143.3,72.7 140.0,73.6 C136.7,74.5 134.3,74.9 132.0,76.0 C129.7,77.1 132.5,79.2 126.0,80.0 C119.5,80.8 97.3,81.1 93.0,81.0Z" fill="#f7884d"/>
<path d="M79.0,86.0 C81.8,84.7 84.8,84.3 93.0,84.0 C101.2,83.7 121.1,83.4 128.0,84.0 C134.9,84.6 130.7,87.4 134.4,87.7 C138.1,88.0 144.9,86.3 150.0,86.0 C155.1,85.7 160.3,85.7 165.0,86.0 C169.7,86.3 174.8,87.4 178.0,88.0 C181.2,88.6 183.6,87.4 184.4,89.4 C185.2,91.4 184.0,95.9 183.0,100.0 C182.0,104.1 182.0,111.3 178.2,114.0 C174.4,116.7 166.4,116.2 160.0,116.0 C153.6,115.8 146.2,114.1 140.0,113.0 C133.8,111.9 127.9,111.1 122.6,109.6 C117.3,108.1 111.8,103.8 108.0,104.0 C104.2,104.2 102.9,110.0 100.0,111.0 C97.1,112.0 93.2,111.6 90.5,110.3 C87.8,109.0 86.4,106.0 84.0,103.0 C81.6,100.0 76.8,94.8 76.0,92.0 C75.2,89.2 76.2,87.3 79.0,86.0Z" fill="#f7884d"/>
<path d="M170.0,120.0 C172.0,118.0 177.3,117.3 180.0,118.0 C182.7,118.7 185.7,122.0 186.0,124.0 C186.3,126.0 185.0,129.0 182.0,130.0 C179.0,131.0 170.0,131.7 168.0,130.0 C166.0,128.3 168.0,122.0 170.0,120.0Z" fill="#f7884d"/>
<path d="M90.0,83.0 C90.7,81.9 97.0,79.8 100.0,78.5 C103.0,77.2 105.7,76.4 108.0,75.0 C110.3,73.6 112.3,71.6 114.0,70.0 C115.7,68.4 116.0,67.7 118.0,65.5 C120.0,63.3 123.5,59.4 126.0,57.0 C128.5,54.6 132.2,51.0 133.0,51.0 C133.8,51.0 132.2,55.0 131.0,57.0 C129.8,59.0 127.5,60.8 126.0,63.0 C124.5,65.2 122.0,67.8 122.0,70.0 C122.0,72.2 124.9,74.3 126.0,76.0 C127.1,77.7 128.7,78.6 128.4,80.0 C128.1,81.4 127.1,83.6 124.0,84.5 C120.9,85.4 114.7,85.4 110.0,85.5 C105.3,85.6 99.3,85.4 96.0,85.0 C92.7,84.6 89.3,84.1 90.0,83.0Z" fill="#e9593b"/>
<path d="M152.0,98.0 C153.5,97.2 158.2,96.5 160.0,97.0 C161.8,97.5 163.5,99.8 163.0,101.0 C162.5,102.2 159.0,103.8 157.0,104.0 C155.0,104.2 151.8,103.0 151.0,102.0 C150.2,101.0 150.5,98.8 152.0,98.0Z" fill="#e9593b"/>
<path d="M232.0,74.0 C227.8,73.4 220.3,75.7 215.0,76.5 C209.7,77.3 204.5,77.8 200.0,79.0 C195.5,80.2 190.7,81.3 188.0,84.0 C185.3,86.7 184.5,91.0 184.0,95.0 C183.5,99.0 183.3,104.7 185.0,108.0 C186.7,111.3 189.0,113.4 194.0,115.0 C199.0,116.6 209.3,116.9 215.0,117.5 C220.7,118.1 224.5,117.8 228.0,118.5 C231.5,119.2 234.0,119.8 236.0,122.0 C238.0,124.2 229.3,130.3 240.0,132.0 C250.7,133.7 290.0,138.2 300.0,132.0 C310.0,125.8 306.3,101.7 300.0,95.0 C293.7,88.3 271.2,92.8 262.0,92.0 C252.8,91.2 248.7,92.0 245.0,90.0 C241.3,88.0 242.2,82.7 240.0,80.0 C237.8,77.3 236.2,74.6 232.0,74.0Z" fill="#e9f5e8"/>
<path d="M232.0,76.0 C228.2,73.2 220.7,78.0 215.0,79.0 C209.3,80.0 202.3,80.2 198.0,82.0 C193.7,83.8 190.7,87.0 189.0,90.0 C187.3,93.0 187.5,97.0 188.0,100.0 C188.5,103.0 189.2,106.2 192.0,108.0 C194.8,109.8 198.7,110.6 205.0,111.0 C211.3,111.4 222.5,110.8 230.0,110.5 C237.5,110.2 244.0,109.6 250.0,109.0 C256.0,108.4 262.3,108.3 266.0,107.0 C269.7,105.7 274.7,102.7 272.0,101.0 C269.3,99.3 255.7,97.8 250.0,97.0 C244.3,96.2 241.0,99.5 238.0,96.0 C235.0,92.5 235.8,78.8 232.0,76.0Z" fill="#c3e3ef"/>
<path d="M233.0,78.0 C229.7,75.3 221.5,79.8 216.0,81.0 C210.5,82.2 203.5,83.0 200.0,85.0 C196.5,87.0 195.5,90.2 195.0,93.0 C194.5,95.8 195.0,99.8 197.0,102.0 C199.0,104.2 202.3,105.4 207.0,106.0 C211.7,106.6 218.7,105.8 225.0,105.5 C231.3,105.2 239.5,104.4 245.0,104.0 C250.5,103.6 258.0,103.8 258.0,103.0 C258.0,102.2 248.7,100.5 245.0,99.5 C241.3,98.5 238.0,100.6 236.0,97.0 C234.0,93.4 236.3,80.7 233.0,78.0Z" fill="#97c7e2"/>
<path d="M234.0,80.0 C231.0,78.0 222.7,81.7 218.0,83.0 C213.3,84.3 208.5,86.0 206.0,88.0 C203.5,90.0 202.7,92.8 203.0,95.0 C203.3,97.2 204.8,100.0 208.0,101.0 C211.2,102.0 216.7,101.2 222.0,101.0 C227.3,100.8 237.7,101.0 240.0,100.0 C242.3,99.0 237.0,98.3 236.0,95.0 C235.0,91.7 237.0,82.0 234.0,80.0Z" fill="#6ea5d1"/>
<path d="M235.0,82.0 C232.7,80.8 225.5,83.7 222.0,85.0 C218.5,86.3 215.5,88.2 214.0,90.0 C212.5,91.8 211.7,94.5 213.0,96.0 C214.3,97.5 217.8,98.5 222.0,99.0 C226.2,99.5 235.7,100.2 238.0,99.0 C240.3,97.8 236.5,94.8 236.0,92.0 C235.5,89.2 237.3,83.2 235.0,82.0Z" fill="#4b7dbc"/>
<path d="M236.0,83.0 C234.5,82.3 229.3,84.7 227.0,86.0 C224.7,87.3 222.5,89.2 222.0,91.0 C221.5,92.8 221.5,95.8 224.0,97.0 C226.5,98.2 235.0,99.7 237.0,98.5 C239.0,97.3 236.2,92.6 236.0,90.0 C235.8,87.4 237.5,83.7 236.0,83.0Z" fill="#3a4fa2"/>
<path d="M242.0,78.0 C244.5,75.5 251.7,75.3 255.0,77.0 C258.3,78.7 257.8,86.8 262.0,88.0 C266.2,89.2 275.7,85.3 280.0,84.0 C284.3,82.7 286.0,82.3 288.0,80.0 C290.0,77.7 290.3,72.3 292.0,70.0 C293.7,67.7 296.7,64.3 298.0,66.0 C299.3,67.7 301.0,75.2 300.0,80.0 C299.0,84.8 297.0,92.3 292.0,95.0 C287.0,97.7 276.2,96.2 270.0,96.0 C263.8,95.8 260.0,94.7 255.0,94.0 C250.0,93.3 242.2,94.7 240.0,92.0 C237.8,89.3 239.5,80.5 242.0,78.0Z" fill="#e9f5e8"/>
<path d="M246.0,83.0 C247.7,82.2 255.2,87.5 260.0,88.0 C264.8,88.5 271.0,87.3 275.0,86.0 C279.0,84.7 281.5,80.2 284.0,80.0 C286.5,79.8 290.3,82.8 290.0,85.0 C289.7,87.2 286.7,91.3 282.0,93.0 C277.3,94.7 267.3,95.0 262.0,95.0 C256.7,95.0 252.7,95.0 250.0,93.0 C247.3,91.0 244.3,83.8 246.0,83.0Z" fill="#c3e3ef"/>
<path d="M106.0,31.4 L112.5,31.4 L113.0,38.0 L113.0,45.0 L113.5,49.5 L112.7,52.0 L120.0,51.5 L127.0,50.5 L133.9,49.2 L131.0,54.0 L128.0,55.5 L123.0,60.8 L118.0,65.5 L114.2,70.3 L108.0,75.5 L100.0,79.2 L92.0,81.5 L83.2,84.8 L77.0,89.0 L74.4,92.0 L71.0,97.0 L70.0,100.8 L67.5,106.0 L66.4,110.3 L60.0,116.0 L54.0,121.3 L48.0,124.5 L43.8,126.4 L38.0,128.0Z" fill="#bebebe" stroke="#ffffff" stroke-width="0.9" stroke-linejoin="round"/>
<path d="M112.5,31.4 L161.9,31.4 L157.5,34.5 L150.0,38.0 L143.4,41.9 L135.0,45.0 L127.0,47.0 L118.6,48.4 L115.0,49.5 L113.5,49.5 L113.0,45.0 L113.0,38.0Z" fill="#bebebe" stroke="#ffffff" stroke-width="0.9" stroke-linejoin="round"/>
<path d="M61.3,128.0 L64.2,119.8 L70.0,117.0 L77.3,114.0 L82.0,111.0 L86.1,108.8 L88.3,110.3 L85.0,114.0 L81.7,118.3 L77.0,123.0 L74.4,128.0Z" fill="#bebebe" stroke="#ffffff" stroke-width="0.9" stroke-linejoin="round"/>
<path d="M197.8,31.4 L196.0,36.0 L194.6,41.1 L192.0,49.0 L190.2,55.7 L190.5,61.0 L191.5,60.2 L195.0,57.0 L199.0,53.0 L204.0,47.0 L209.2,42.6 L214.0,38.5 L218.0,36.0 L225.0,33.0 L231.0,31.4Z" fill="#bebebe" stroke="#ffffff" stroke-width="0.9" stroke-linejoin="round"/>
<path d="M196.5,57.0 L199.0,55.5 L201.5,58.0 L201.8,62.0 L199.5,64.8 L196.8,63.0Z" fill="#bebebe" stroke="#ffffff" stroke-width="0.9" stroke-linejoin="round"/>
<path d="M249.8,31.4 L248.4,39.7 L252.0,42.0 L254.2,44.0 L249.8,51.4 L247.0,55.0 L245.0,60.0 L244.3,66.0 L244.2,71.0 L245.2,75.4 L246.5,75.4 L248.5,72.0 L249.0,66.0 L250.0,59.0 L253.0,53.0 L257.0,50.0 L261.5,49.9 L263.5,55.0 L265.0,57.2 L270.0,56.0 L273.2,54.3 L277.0,51.0 L280.5,47.0 L282.0,40.0 L282.0,33.8 L284.0,31.4Z" fill="#bebebe" stroke="#ffffff" stroke-width="0.9" stroke-linejoin="round"/>
<path d="M231.4,66.1 L234.5,66.0 L237.2,66.7 L240.0,72.0 L242.4,77.2 L244.8,82.0 L244.8,85.4 L242.0,90.0 L239.0,94.0 L237.2,94.7 L235.0,91.0 L234.3,87.7 L233.0,82.0 L232.5,77.2 L231.5,71.0Z" fill="#bebebe" stroke="#ffffff" stroke-width="0.9" stroke-linejoin="round"/>
<path d="M237.2,94.1 L241.0,94.2 L245.0,94.5 L250.0,95.2 L253.5,96.0 L256.5,98.0 L254.0,99.8 L248.0,99.5 L243.0,99.5 L238.5,98.5Z" fill="#bebebe" stroke="#ffffff" stroke-width="0.9" stroke-linejoin="round"/>
<path d="M255.3,76.6 L257.5,75.0 L259.4,74.3 L264.0,73.0 L268.7,71.9 L274.0,69.5 L280.4,66.1 L284.0,64.5 L287.4,63.8 L289.7,65.5 L287.5,68.0 L285.0,70.2 L283.0,74.0 L280.4,78.4 L277.0,81.0 L273.4,83.0 L269.0,86.0 L265.2,88.9 L261.7,87.7 L258.0,87.0 L255.9,86.0 L255.0,81.0Z" fill="#bebebe" stroke="#ffffff" stroke-width="0.9" stroke-linejoin="round"/>
<path d="M300.0,31.4 L306.0,31.4 L303.0,35.0 L299.0,36.0Z" fill="#bebebe" stroke="#ffffff" stroke-width="0.9" stroke-linejoin="round"/>
<path d="M111.0,31.4 L118.5,31.4 L117.5,38.0 L116.5,44.0 L114.8,48.5 L113.5,48.8 L112.3,44.0 L111.5,38.0Z" fill="#ffffff" />
<path d="M47.1,125.8L46.4,126.6L45.7,127.3M56.5,125.8L56.2,126.4L55.8,127.1M76.9,125.7L76.9,125.8L76.2,126.5L75.5,127.3L75.5,127.4M86.8,125.6L86.7,125.7L86.1,126.5L85.5,127.3L85.4,127.5M96.2,125.4L96.2,125.5L95.9,126.4L95.4,127.3L95.4,127.4M106.3,125.4L106.3,125.5L105.8,126.4L105.4,127.3L105.3,127.5M116.9,125.2L116.5,125.7L115.9,126.5L115.3,127.3L115.0,127.8M126.7,124.7L126.3,125.6L125.8,126.4L125.3,127.3L124.8,128.2M135.9,123.7L135.8,124.4L135.7,125.3L135.5,126.3L135.2,127.3L135.0,128.3L134.8,128.9M145.9,123.7L145.8,124.4L145.6,125.3L145.4,126.3L145.2,127.3L145.0,128.3L144.8,128.9M156.0,124.2L155.9,124.4L155.7,125.4L155.4,126.3L155.2,127.3L154.9,128.3L154.8,128.5M165.0,123.7L165.1,124.3L165.1,125.3L165.2,126.3L165.1,127.3L165.0,128.3L164.9,128.9M175.7,124.9L175.6,125.4L175.3,126.3L175.0,127.3L174.9,127.8M185.3,125.6L185.2,126.3L185.0,127.1M195.1,126.0L195.0,126.7M86.8,117.8L86.7,117.9L86.1,118.7L85.5,119.5L85.4,119.7M96.1,117.6L96.1,117.6L95.7,118.5L95.4,119.5L95.4,119.5M106.2,117.6L106.2,117.6L105.8,118.6L105.4,119.5L105.4,119.6M116.8,117.4L116.5,117.9L115.9,118.7L115.3,119.5L115.0,120.0M126.8,116.8L126.8,116.9L126.3,117.8L125.8,118.6L125.3,119.5L124.8,120.4L124.7,120.5M136.0,115.5L136.0,115.6L135.8,116.5L135.6,117.5L135.4,118.5L135.2,119.5L135.1,120.5L135.0,121.5L135.0,121.6M146.0,115.5L146.0,115.6L145.8,116.6L145.5,117.5L145.4,118.5L145.2,119.5L145.0,120.5L144.9,121.5L144.9,121.6M156.2,116.2L156.0,116.6L155.7,117.6L155.4,118.5L155.1,119.5L154.9,120.5L154.7,121.0M165.3,115.0L165.2,115.5L165.0,116.5L165.0,117.5L165.0,118.5L165.1,119.5L165.2,120.5L165.4,121.5L165.5,122.0M175.8,116.9L175.6,117.6L175.3,118.5L175.0,119.5L174.9,120.2M184.4,117.4L184.5,117.6L184.7,118.5L185.0,119.5L185.1,119.7M194.2,117.7L194.5,118.6L194.9,119.5M212.7,117.7L213.3,118.3L214.1,118.9L214.9,119.5L215.5,120.0M243.3,118.4L243.9,118.9L244.6,119.4M66.3,110.0L66.0,110.8L65.6,111.6M76.5,110.0L76.0,110.8L75.6,111.7M97.0,109.9L96.8,110.2L96.1,110.9L95.4,111.7L95.2,112.0M106.4,109.8L106.3,109.9L105.8,110.8L105.4,111.7L105.3,111.9M116.7,109.7L116.4,110.0L115.9,110.8L115.3,111.7L115.2,112.1M127.3,109.2L127.2,109.4L126.6,110.1L125.9,110.9L125.3,111.7L124.7,112.5L124.5,112.7M136.3,107.7L136.3,107.8L135.9,108.8L135.7,109.7L135.5,110.7L135.2,111.7L135.0,112.7L134.8,113.7L134.8,113.8M146.5,107.9L146.5,107.9L146.1,108.8L145.7,109.8L145.4,110.7L145.2,111.7L145.0,112.7L144.8,113.7L144.7,113.8M156.8,108.5L156.5,109.0L156.0,109.9L155.6,110.8L155.1,111.7L154.7,112.6L154.5,113.2M165.3,106.7L165.3,106.7L165.2,107.7L165.2,108.7L165.2,109.7L165.1,110.7L165.1,111.7L165.1,112.7L164.9,113.7L164.8,114.7L164.8,114.8M176.3,109.2L175.9,109.9L175.5,110.8L175.0,111.7L174.7,112.5M184.9,109.1L185.0,109.7L185.0,110.7L185.0,111.7L184.9,112.3M76.8,102.1L76.7,102.3L76.1,103.1L75.5,103.9L75.4,104.1M87.0,102.1L86.8,102.4L86.2,103.1L85.5,103.9L85.2,104.2M97.5,102.2L97.0,102.6L96.2,103.3L95.4,103.9L94.9,104.4M107.6,102.1L106.9,102.6L106.2,103.3L105.4,103.9L104.7,104.5M118.0,101.8L117.7,102.0L116.9,102.7L116.1,103.3L115.3,103.9L114.6,104.5L114.3,104.8M128.2,101.7L127.7,102.1L126.9,102.7L126.1,103.3L125.3,103.9L124.5,104.5L124.0,104.9M138.0,101.4L137.4,101.8L136.7,102.5L136.0,103.2L135.2,103.9L134.5,104.6L134.1,105.2M147.9,100.7L147.8,100.8L147.1,101.6L146.5,102.4L145.8,103.1L145.2,103.9L144.6,104.7L143.9,105.4L143.8,105.6M158.0,101.0L157.9,101.0L157.2,101.7L156.5,102.4L155.8,103.2L155.1,103.9L154.5,104.6L153.8,105.4L153.8,105.5M167.6,101.5L167.2,101.8L166.4,102.4L165.7,103.1L165.1,103.9L164.5,104.7L164.2,105.2M177.6,102.3L177.6,102.3L176.7,102.8L175.9,103.3L175.0,103.9L174.2,104.5L174.2,104.5M186.4,102.5L186.4,102.5L185.5,103.1L185.0,103.9L185.0,103.9M197.0,105.0L196.7,104.8L195.8,104.4L194.9,103.9L194.6,103.7M216.0,106.3L215.7,105.7L215.3,104.8L214.9,103.9L214.6,103.3M235.5,106.4L235.3,105.8L235.0,104.9L234.8,103.9L234.6,103.3M245.1,105.3L244.8,104.4M77.1,94.4L76.9,94.6L76.2,95.3L75.5,96.1L75.3,96.4M87.4,94.5L87.0,94.8L86.2,95.4L85.5,96.1L85.2,96.5M97.9,94.6L97.1,95.0L96.3,95.6L95.4,96.1L94.7,96.6M108.4,94.5L108.1,94.7L107.2,95.2L106.3,95.6L105.4,96.1L104.5,96.6L104.1,96.8M118.7,94.2L117.9,94.6L117.1,95.1L116.2,95.6L115.3,96.1L114.5,96.6L113.8,97.1M129.2,94.4L129.0,94.5L128.0,94.9L127.1,95.3L126.2,95.7L125.3,96.1L124.4,96.5L123.5,97.0L123.3,97.2M139.4,94.3L138.9,94.5L138.0,94.9L137.1,95.3L136.2,95.7L135.2,96.1L134.3,96.5L133.4,96.9L132.9,97.1M149.0,93.7L148.5,93.9L147.7,94.4L146.8,95.0L146.0,95.5L145.2,96.1L144.4,96.7L143.6,97.3L143.2,97.6M159.3,94.3L158.8,94.4L157.8,94.8L156.9,95.2L156.0,95.6L155.1,96.1L154.3,96.6L153.5,97.2L153.1,97.6M169.2,94.8L168.9,94.9L168.0,95.2L167.0,95.5L166.0,95.8L165.1,96.1L164.2,96.4L163.2,96.7L162.9,96.9M179.1,94.7L178.8,94.8L177.9,95.0L176.9,95.3L176.0,95.7L175.0,96.1L174.1,96.5L173.2,96.9L172.9,97.0M188.5,97.1L187.9,96.9L187.0,96.5L186.0,96.3L185.0,96.1L184.0,95.9L183.3,95.9M198.7,100.7L198.1,100.0L197.4,99.2L196.8,98.4L196.2,97.7L195.6,96.9L194.9,96.1L194.3,95.3L193.6,94.6L192.8,94.0L192.0,93.5M207.6,99.3L207.5,99.2L206.9,98.4L206.2,97.6L205.6,96.8L204.9,96.1L204.2,95.4L203.5,94.7L203.4,94.5M216.4,102.1L216.4,101.9L216.1,101.0L215.8,100.0L215.6,99.0L215.4,98.0L215.1,97.1L214.8,96.1L214.6,95.1L214.2,94.2L213.8,93.3L213.3,92.4L213.2,92.3M226.2,100.4L226.0,99.9L225.8,98.9L225.5,98.0L225.1,97.0L224.8,96.1L224.5,95.2L224.1,94.2L223.9,93.7M235.5,101.1L235.5,101.0L235.3,100.1L235.2,99.1L235.1,98.1L234.9,97.1L234.7,96.1L234.6,95.1L234.4,94.1L234.3,93.1L234.3,93.1M87.7,86.8L87.2,87.2L86.3,87.7L85.5,88.3L84.9,88.7M98.0,86.9L97.2,87.3L96.3,87.8L95.4,88.3L94.6,88.8M109.2,87.0L108.2,87.3L107.3,87.6L106.3,88.0L105.4,88.3L104.5,88.6L103.5,89.0M119.6,87.0L119.2,87.1L118.2,87.4L117.3,87.7L116.3,88.0L115.3,88.3L114.4,88.6L113.4,88.9L113.0,89.1M130.5,87.0L130.1,87.0L129.2,87.3L128.2,87.5L127.2,87.8L126.3,88.0L125.3,88.3L124.3,88.6L123.4,88.8L122.4,89.1L122.0,89.2M140.7,87.2L140.1,87.3L139.2,87.5L138.2,87.7L137.2,87.9L136.2,88.1L135.2,88.3L134.3,88.5L133.3,88.8L132.3,89.0L131.7,89.2M150.4,87.2L150.1,87.3L149.1,87.5L148.1,87.7L147.2,87.9L146.2,88.1L145.2,88.3L144.2,88.5L143.2,88.7L142.3,88.9L141.9,89.0M161.0,87.4L160.1,87.5L159.1,87.7L158.1,87.8L157.1,88.0L156.1,88.1L155.1,88.3L154.2,88.5L153.2,88.6L152.2,88.8L151.2,89.1M171.0,87.7L170.1,87.8L169.1,87.9L168.1,88.0L167.1,88.1L166.1,88.2L165.1,88.3L164.1,88.4L163.1,88.6L162.1,88.7L161.1,88.8M180.1,88.4L180.0,88.4L179.0,88.3L178.0,88.3L177.0,88.3L176.0,88.3L175.0,88.3L174.1,88.3L173.1,88.3L172.1,88.4L172.0,88.4M190.0,90.1L189.7,89.9L188.8,89.6L187.9,89.2L186.9,88.9L186.0,88.6L185.0,88.3L184.0,88.0L183.1,87.8L182.1,87.6L181.7,87.5M199.8,90.7L199.5,90.5L198.6,90.0L197.7,89.5L196.8,89.1L195.9,88.7L194.9,88.3L194.0,87.9L193.1,87.6L192.2,87.2L191.7,87.0M208.5,92.6L208.1,92.1L207.5,91.3L206.9,90.6L206.2,89.8L205.6,89.0L204.9,88.3L204.2,87.6L203.5,86.9L202.7,86.3L202.1,86.0M217.5,92.1L217.2,91.5L216.7,90.7L216.1,89.9L215.5,89.1L214.9,88.3L214.2,87.5L213.5,86.8L213.0,86.4M226.7,92.8L226.4,92.0L226.0,91.0L225.7,90.1L225.3,89.2L224.8,88.3L224.3,87.4L223.8,86.5L223.2,85.8M246.4,90.5L245.9,89.9L245.3,89.1L244.7,88.3L244.2,87.7M256.4,89.2L255.5,88.8L254.7,88.3M276.2,87.7L275.5,87.9L274.7,88.2M110.1,79.5L109.3,79.6L108.3,79.8L107.3,80.0L106.4,80.3L105.4,80.5L104.4,80.7L103.5,81.0L102.7,81.2M120.2,79.4L119.3,79.6L118.3,79.8L117.3,80.1L116.3,80.3L115.3,80.5L114.4,80.7L113.4,80.9L112.5,81.1M130.4,79.6L130.2,79.6L129.2,79.8L128.2,79.9L127.3,80.1L126.3,80.3L125.3,80.5L124.3,80.7L123.3,80.9L122.4,81.1L122.1,81.2M142.1,80.3L141.2,80.3L140.2,80.3L139.2,80.3L138.2,80.4L137.2,80.4L136.2,80.4L135.3,80.5L134.3,80.6L133.3,80.7L132.3,80.8L131.3,80.9L130.4,81.0M152.0,80.0L151.2,80.1L150.2,80.2L149.2,80.2L148.2,80.3L147.2,80.4L146.2,80.4L145.2,80.5L144.2,80.6L143.2,80.6L142.2,80.6L141.2,80.6L140.3,80.6M160.9,80.1L160.1,80.1L159.1,80.2L158.1,80.3L157.1,80.3L156.1,80.4L155.1,80.5L154.2,80.6L153.2,80.7L152.2,80.7L151.4,80.8M172.1,80.6L172.1,80.6L171.1,80.6L170.1,80.6L169.1,80.5L168.1,80.5L167.1,80.5L166.1,80.5L165.1,80.5L164.1,80.5L163.1,80.5L162.1,80.6L161.1,80.6L160.1,80.6L160.1,80.6M182.0,80.9L181.0,80.8L180.0,80.7L179.0,80.6L178.0,80.6L177.0,80.6L176.0,80.5L175.0,80.5L174.1,80.5L173.1,80.4L172.1,80.4L171.1,80.4L170.1,80.4M190.5,81.5L189.9,81.4L188.9,81.2L188.0,81.0L187.0,80.8L186.0,80.6L185.0,80.5L184.0,80.4L183.0,80.2L182.0,80.1L181.4,80.1M201.5,82.1L200.8,81.9L199.8,81.6L198.9,81.4L197.9,81.2L196.9,80.9L195.9,80.7L194.9,80.5L194.0,80.3L193.0,80.1L192.0,79.9L191.0,79.6L190.2,79.5M209.6,82.4L209.5,82.4L208.6,81.9L207.7,81.5L206.8,81.2L205.8,80.8L204.9,80.5L204.0,80.2L203.0,79.9L202.0,79.6L202.0,79.6M218.7,83.1L218.2,82.7L217.4,82.1L216.6,81.5L215.7,81.0L214.9,80.5L214.0,80.0L213.1,79.6L212.4,79.3M228.2,83.1L228.0,82.9L227.2,82.3L226.4,81.7L225.6,81.1L224.8,80.5L224.0,79.9L223.2,79.4L222.9,79.2M247.3,81.8L246.5,81.4L245.6,80.9L244.7,80.5L243.8,80.1M257.1,81.2L256.6,81.0L255.6,80.8L254.7,80.5L254.1,80.3M120.6,71.9L120.3,71.9L119.3,72.0L118.3,72.1L117.3,72.3L116.3,72.5L115.3,72.7L114.4,72.9L113.4,73.2L112.4,73.4L112.1,73.5M130.6,71.8L130.2,71.9L129.2,72.0L128.3,72.2L127.3,72.4L126.3,72.5L125.3,72.7L124.3,72.9L123.3,73.0L122.3,73.1L121.9,73.2M140.7,72.1L140.2,72.2L139.2,72.2L138.2,72.3L137.2,72.5L136.2,72.6L135.2,72.7L134.3,72.8L133.3,73.0L132.3,73.1L131.7,73.2M151.9,72.6L151.2,72.6L150.2,72.6L149.2,72.6L148.2,72.6L147.2,72.6L146.2,72.7L145.2,72.7L144.2,72.7L143.2,72.8L142.2,72.8L141.2,72.9L140.5,72.9M161.5,72.6L161.1,72.6L160.1,72.6L159.1,72.6L158.1,72.7L157.1,72.7L156.1,72.7L155.1,72.7L154.2,72.7L153.2,72.7L152.2,72.7L151.2,72.7L150.8,72.7M170.5,72.8L170.1,72.8L169.1,72.7L168.1,72.7L167.1,72.7L166.1,72.7L165.1,72.7L164.1,72.7L163.1,72.7L162.1,72.7L161.7,72.7M181.8,72.7L181.0,72.7L180.0,72.7L179.0,72.7L178.0,72.7L177.0,72.7L176.0,72.7L175.0,72.7L174.1,72.7L173.1,72.7L172.1,72.6L171.1,72.6L170.2,72.6M191.5,73.2L191.0,73.1L190.0,73.0L189.0,72.9L188.0,72.9L187.0,72.8L186.0,72.7L185.0,72.7L184.0,72.7L183.0,72.6L182.0,72.6L181.0,72.6L180.5,72.6M199.9,73.5L199.9,73.5L198.9,73.3L197.9,73.2L196.9,73.0L195.9,72.8L194.9,72.7L194.0,72.6L193.0,72.4L192.0,72.3L191.9,72.3M211.3,72.9L210.9,72.9L209.9,72.9L208.9,72.9L207.9,72.9L206.9,72.8L205.9,72.8L204.9,72.7L203.9,72.6L202.9,72.5L201.9,72.4L200.9,72.3L200.5,72.2M220.9,73.8L220.7,73.8L219.8,73.5L218.8,73.3L217.8,73.1L216.8,72.9L215.8,72.8L214.9,72.7L213.9,72.6L212.9,72.5L211.9,72.5L210.9,72.5L210.6,72.5M228.6,73.7L227.7,73.5L226.7,73.2L225.8,73.0L224.8,72.7L223.8,72.4L222.9,72.2M257.6,72.9L256.6,72.8L255.6,72.8L254.6,72.7L253.7,72.6M267.7,72.4L267.6,72.4L266.6,72.5L265.6,72.6L264.6,72.7L263.6,72.8L263.4,72.8M287.7,72.2L287.5,72.2L286.5,72.4L285.5,72.5L284.5,72.7L283.5,72.9L283.2,72.9M130.0,63.4L129.1,63.7L128.2,64.0L127.2,64.3L126.3,64.6L125.3,64.9L124.3,65.2L123.4,65.5L122.5,65.8M140.0,64.1L139.2,64.2L138.2,64.3L137.2,64.5L136.2,64.7L135.2,64.9L134.3,65.1L133.3,65.3L132.5,65.5M150.1,64.7L149.2,64.7L148.2,64.7L147.2,64.8L146.2,64.8L145.2,64.9L144.2,65.0L143.2,65.0L142.2,65.1M159.6,65.3L159.1,65.2L158.1,65.1L157.1,65.0L156.1,65.0L155.1,64.9L154.2,64.8L153.2,64.8L152.7,64.8M169.4,65.2L169.1,65.2L168.1,65.1L167.1,65.0L166.1,65.0L165.1,64.9L164.1,64.8L163.1,64.7L162.8,64.7M179.6,65.1L179.0,65.1L178.0,65.0L177.0,65.0L176.0,65.0L175.0,64.9L174.1,64.8L173.1,64.8L172.5,64.8M189.2,65.1L189.0,65.1L188.0,65.1L187.0,65.0L186.0,64.9L185.0,64.9L184.0,64.9L183.0,64.8L182.8,64.8M199.2,65.4L198.9,65.4L197.9,65.3L196.9,65.1L195.9,65.0L194.9,64.9L194.0,64.8L193.0,64.7L192.7,64.6M209.2,65.3L208.9,65.3L207.9,65.2L206.9,65.1L205.9,65.0L204.9,64.9L203.9,64.8L202.9,64.7L202.6,64.6M217.9,65.0L217.8,65.0L216.8,64.9L215.8,64.9L214.9,64.9L213.9,64.9L213.8,64.9M228.1,65.3L227.8,65.3L226.8,65.2L225.8,65.0L224.8,64.9L223.8,64.8L223.5,64.7M237.5,65.1L236.7,65.0L235.7,65.0L234.8,64.9L234.0,64.8M257.8,64.6L257.6,64.6L256.6,64.7L255.6,64.8L254.6,64.9L253.7,65.0L253.5,65.0M268.6,63.7L268.4,63.7L267.5,64.0L266.5,64.3L265.6,64.6L264.6,64.9L263.6,65.2L262.7,65.5L262.5,65.5M278.1,64.1L277.5,64.3L276.5,64.5L275.5,64.7L274.5,64.9L273.6,65.1L272.9,65.3M139.6,55.9L139.1,56.0L138.1,56.3L137.2,56.5L136.2,56.8L135.2,57.1L134.3,57.4L133.4,57.7L132.8,57.9M149.2,57.0L149.2,57.0L148.2,57.0L147.2,57.0L146.2,57.0L145.2,57.1L144.2,57.2L143.2,57.3L143.1,57.3M158.4,57.9L158.1,57.8L157.1,57.6L156.1,57.4L155.1,57.1L154.2,56.8L153.8,56.7M168.8,57.7L168.1,57.6L167.1,57.4L166.1,57.2L165.1,57.1L164.1,57.0L163.3,56.8M178.4,57.8L178.0,57.7L177.0,57.6L176.0,57.3L175.0,57.1L174.1,56.9L173.6,56.7M187.6,58.1L186.9,57.8L185.9,57.5L185.0,57.1L184.3,56.8M198.5,57.6L197.9,57.5L196.9,57.4L195.9,57.2L194.9,57.1L194.0,57.0L193.4,56.9M208.4,57.4L207.9,57.4L206.9,57.3L205.9,57.2L204.9,57.1L203.9,57.0L203.4,56.9M217.8,57.3L216.8,57.2L215.8,57.2L214.9,57.1L213.8,57.0M227.0,57.2L226.8,57.2L225.8,57.1L224.8,57.1L224.6,57.1M236.9,57.2L236.7,57.2L235.7,57.1L234.8,57.1L234.5,57.1M247.0,57.1L246.7,57.1L245.7,57.1L244.7,57.1L244.4,57.1M257.5,56.9L256.6,56.9L255.6,57.0L254.6,57.1L253.7,57.2M268.0,56.5L267.5,56.5L266.6,56.7L265.6,56.9L264.6,57.1L263.6,57.3L263.1,57.4M278.3,56.1L277.5,56.4L276.5,56.6L275.5,56.9L274.5,57.1L273.6,57.3L272.7,57.5M288.9,55.7L288.3,55.9L287.4,56.2L286.4,56.5L285.5,56.8L284.5,57.1L283.5,57.4L282.6,57.7L281.9,57.9M299.2,55.5L299.2,55.6L298.3,55.9L297.3,56.2L296.3,56.5L295.4,56.8L294.4,57.1L293.5,57.4L292.6,57.7L291.6,58.0L291.5,58.1M129.4,48.1L129.1,48.1L128.2,48.4L127.2,48.7L126.3,49.0L125.3,49.3L124.3,49.6L123.4,49.9L123.1,50.0M139.0,47.9L138.1,48.3L137.1,48.7L136.2,49.0L135.2,49.3L134.3,49.6L133.4,49.9M148.9,48.6L148.1,48.7L147.2,48.9L146.2,49.1L145.2,49.3L144.2,49.5L143.4,49.8M158.7,49.5L158.1,49.5L157.1,49.4L156.1,49.4L155.1,49.3L154.2,49.2L153.5,49.2M168.7,49.7L168.1,49.6L167.1,49.5L166.1,49.4L165.1,49.3L164.1,49.2L163.4,49.2M178.5,49.7L178.0,49.7L177.0,49.5L176.0,49.4L175.0,49.3L174.1,49.2L173.5,49.1M188.4,49.7L188.0,49.7L187.0,49.5L186.0,49.4L185.0,49.3L184.0,49.2L183.6,49.1M207.9,49.5L207.9,49.5L206.9,49.4L205.9,49.4L204.9,49.3L203.9,49.2L203.8,49.2M217.2,49.4L216.8,49.4L215.8,49.3L214.9,49.3L214.5,49.3M226.2,49.1L225.4,49.2M236.3,49.3L235.2,49.3M246.3,49.3L245.1,49.3M288.7,48.1L288.3,48.2L287.4,48.5L286.4,48.7L285.5,49.0L284.5,49.3L283.5,49.6L282.6,49.9L282.1,50.0M298.9,48.0L298.3,48.2L297.3,48.5L296.4,48.7L295.4,49.0L294.4,49.3L293.5,49.6L292.5,49.9L291.9,50.1M149.1,40.6L148.1,40.8L147.2,41.1L146.2,41.3L145.2,41.5L144.2,41.7L143.2,42.0M159.0,40.9L158.1,41.0L157.1,41.2L156.1,41.3L155.1,41.5L154.2,41.7L153.2,41.9M168.7,41.3L168.1,41.3L167.1,41.4L166.1,41.4L165.1,41.5L164.1,41.6L163.4,41.6M178.6,41.1L178.0,41.1L177.0,41.2L176.0,41.4L175.1,41.5L174.1,41.6L173.5,41.7M188.5,41.5L188.0,41.5L187.0,41.5L186.0,41.5L185.0,41.5L184.0,41.5L183.5,41.5M216.3,41.4L215.3,41.5M226.1,41.3L225.4,41.4M246.6,41.4L245.7,41.4L244.8,41.5M288.7,40.3L288.4,40.4L287.4,40.7L286.4,41.0L285.5,41.2L284.5,41.5L283.5,41.8L282.6,42.0L282.2,42.1M299.8,39.8L299.2,40.0L298.3,40.3L297.3,40.6L296.4,40.9L295.4,41.2L294.4,41.5L293.5,41.8L292.5,42.1L291.6,42.4L291.0,42.6M310.0,39.8L309.2,40.0L308.2,40.3L307.3,40.6L306.3,40.9L305.4,41.2L304.4,41.5L303.4,41.8L302.5,42.1L301.5,42.4L300.7,42.7M168.7,33.4L168.1,33.5L167.1,33.5L166.1,33.6L165.1,33.7L164.1,33.8L163.4,33.8M178.6,33.5L178.0,33.5L177.0,33.6L176.0,33.6L175.0,33.7L174.1,33.8L173.5,33.8M188.4,33.6L188.0,33.6L187.0,33.7L186.0,33.7L185.0,33.7L184.0,33.7L183.6,33.7M198.1,33.7L197.9,33.7L196.9,33.7L195.9,33.7L194.9,33.7L194.0,33.7L193.8,33.7M226.4,33.6L225.1,33.7M236.1,33.5L235.4,33.6M246.7,33.5L246.7,33.5L245.7,33.6L244.7,33.7L244.6,33.7M288.6,32.7L288.4,32.7L287.4,33.0L286.4,33.2L285.5,33.5L284.5,33.7L283.5,33.9L282.6,34.2L282.3,34.3M299.3,32.3L299.3,32.3L298.3,32.6L297.3,32.9L296.4,33.1L295.4,33.4L294.4,33.7L293.5,34.0L292.5,34.2L291.6,34.5L291.5,34.5M309.5,32.3L309.2,32.3L308.2,32.6L307.3,32.9L306.3,33.1L305.4,33.4L304.4,33.7L303.4,34.0L302.5,34.3L301.5,34.6L301.2,34.6" fill="none" stroke="#000" stroke-width="0.65"/>
<path d="M44.3,128.7L45.4,125.9L47.1,127.6ZM54.7,128.8L55.2,125.8L57.2,127.0ZM74.2,128.9L75.1,126.0L76.9,127.5ZM84.1,129.0L85.0,126.1L86.8,127.6ZM94.6,129.1L94.7,126.1L96.9,127.1ZM104.4,129.2L104.6,126.2L106.8,127.3ZM113.8,129.4L114.5,126.4L116.5,127.8ZM123.7,129.8L124.2,126.8L126.2,128.1ZM134.2,130.8L133.9,127.7L136.2,128.5ZM144.2,130.8L143.9,127.8L146.2,128.5ZM154.1,130.4L153.9,127.3L156.2,128.1ZM164.6,130.9L163.9,127.9L166.3,128.3ZM174.3,129.7L174.0,126.7L176.3,127.4ZM184.6,129.0L184.0,126.0L186.4,126.5ZM194.8,128.6L194.0,125.7L196.4,126.0ZM204.6,128.1L204.5,125.0L206.7,125.9ZM215.1,128.0L213.1,125.7L215.4,125.0ZM224.5,127.6L225.4,124.7L227.2,126.2ZM234.3,127.4L236.8,125.6L237.3,127.9ZM244.5,127.5L245.8,124.8L247.4,126.6ZM84.2,121.2L84.9,118.3L86.8,119.7ZM94.9,121.4L94.5,118.4L96.8,119.1ZM104.7,121.5L104.5,118.4L106.8,119.2ZM113.9,121.6L114.5,118.6L116.5,120.0ZM123.7,122.2L124.1,119.1L126.2,120.4ZM134.8,123.6L133.9,120.6L136.3,120.9ZM144.7,123.5L143.8,120.6L146.2,120.8ZM154.3,122.9L153.8,119.9L156.1,120.5ZM165.8,123.9L164.1,121.4L166.5,120.9ZM174.4,122.1L173.9,119.1L176.2,119.7ZM185.7,121.6L183.7,119.3L185.9,118.5ZM195.7,121.3L193.5,119.2L195.7,118.3ZM204.9,120.2L203.6,117.5L206.0,117.4ZM217.1,121.2L214.1,120.5L215.6,118.6ZM224.9,119.8L222.6,117.8L224.8,116.7ZM234.7,119.6L235.8,116.7L237.5,118.4ZM246.0,120.6L243.1,119.7L244.7,117.9ZM64.9,113.4L64.9,110.4L67.1,111.3ZM74.7,113.4L74.9,110.4L77.0,111.5ZM93.9,113.5L94.8,110.6L96.7,112.1ZM104.4,113.6L104.6,110.6L106.8,111.7ZM114.2,113.8L114.5,110.7L116.6,111.9ZM123.3,114.2L124.1,111.3L126.0,112.7ZM134.3,115.7L133.8,112.7L136.2,113.3ZM144.3,115.7L143.7,112.7L146.1,113.2ZM153.6,115.0L153.7,111.9L155.9,112.9ZM164.4,116.7L163.7,113.7L166.1,114.2ZM174.0,114.3L174.0,111.2L176.2,112.2ZM184.8,114.3L183.8,111.4L186.2,111.6ZM194.4,112.6L194.9,109.6L196.9,110.9ZM205.4,112.4L202.8,110.7L204.8,109.4ZM214.8,111.6L217.6,112.8L215.8,114.4ZM225.3,112.1L222.4,111.3L223.8,109.4ZM234.5,111.2L236.8,113.2L234.6,114.2ZM244.7,111.5L245.7,114.4L243.3,114.2ZM254.3,111.5L257.3,112.2L255.9,114.1ZM74.3,105.7L74.9,102.7L76.9,104.1ZM84.0,105.7L84.9,102.8L86.7,104.3ZM93.4,105.6L94.8,102.9L96.3,104.7ZM103.3,105.8L104.6,103.0L106.2,104.8ZM112.8,106.1L114.1,103.3L115.7,105.1ZM122.5,106.2L123.9,103.5L125.4,105.3ZM132.8,106.6L133.7,103.7L135.5,105.3ZM142.7,107.3L143.3,104.3L145.3,105.6ZM152.5,107.0L153.4,104.1L155.2,105.6ZM163.4,106.9L163.5,103.9L165.7,104.9ZM172.7,105.8L174.0,103.1L175.6,104.9ZM184.2,105.7L184.2,102.7L186.4,103.6ZM192.9,102.8L195.9,103.1L194.8,105.2ZM204.4,103.4L207.2,104.6L205.5,106.3ZM213.8,101.5L216.0,103.6L213.8,104.5ZM224.7,102.8L226.2,105.4L223.8,105.7ZM234.1,101.4L236.0,103.8L233.6,104.4ZM244.3,102.5L246.2,104.8L244.0,105.5ZM254.3,103.1L256.4,105.3L254.2,106.1ZM264.4,104.1L265.8,101.3L267.3,103.1ZM74.1,97.9L74.9,95.0L76.8,96.5ZM83.8,97.9L84.9,95.0L86.6,96.7ZM93.1,97.7L94.7,95.1L96.1,97.1ZM102.4,97.8L104.3,95.3L105.5,97.4ZM112.1,98.1L113.8,95.6L115.1,97.6ZM121.6,98.3L123.3,95.7L124.6,97.7ZM131.1,98.0L133.2,95.7L134.2,97.9ZM141.6,98.7L143.1,96.1L144.6,98.0ZM151.7,99.0L152.8,96.1L154.5,97.8ZM161.1,97.6L163.2,95.5L164.1,97.7ZM171.1,97.8L173.2,95.6L174.2,97.8ZM181.4,95.8L184.2,94.7L184.1,97.1ZM190.3,92.5L193.3,92.9L192.1,95.0ZM201.9,93.2L204.8,94.2L203.1,96.0ZM212.0,90.7L214.6,92.3L212.7,93.6ZM223.2,91.9L225.3,94.1L223.1,94.9ZM234.1,91.1L235.6,93.8L233.2,94.0ZM254.1,95.1L256.5,96.9L254.4,98.1ZM263.4,96.0L266.2,95.0L266.1,97.4ZM83.3,89.8L84.9,87.2L86.3,89.2ZM93.0,89.8L94.7,87.3L96.0,89.4ZM101.7,89.7L103.8,87.6L104.7,89.8ZM111.2,89.7L113.4,87.7L114.2,89.9ZM120.1,89.8L122.5,87.8L123.2,90.1ZM129.8,89.6L132.2,87.8L132.8,90.1ZM140.0,89.4L142.5,87.7L143.0,90.0ZM149.3,89.5L151.8,87.7L152.3,90.0ZM159.2,89.1L161.8,87.5L162.1,89.9ZM170.0,88.5L172.7,87.1L172.9,89.5ZM179.8,87.2L182.7,86.5L182.4,88.8ZM189.9,86.3L192.9,86.2L192.0,88.5ZM200.4,85.1L203.4,85.4L202.2,87.5ZM211.6,85.1L214.4,86.0L212.8,87.8ZM221.9,84.3L224.7,85.7L222.8,87.2ZM242.9,86.1L245.6,87.6L243.8,89.1ZM252.9,87.3L256.0,87.7L254.8,89.8ZM272.9,89.0L275.0,86.8L276.0,89.0ZM100.8,81.7L103.2,79.8L103.8,82.1ZM110.5,81.5L113.0,79.8L113.5,82.1ZM120.2,81.6L122.7,79.8L123.2,82.1ZM128.4,81.3L131.0,79.7L131.4,82.1ZM138.4,80.6L141.2,79.4L141.2,81.8ZM149.4,81.0L152.1,79.5L152.3,81.9ZM158.1,80.8L160.8,79.4L161.0,81.8ZM168.1,80.3L170.9,79.2L170.9,81.6ZM179.4,79.9L182.3,78.9L182.1,81.3ZM188.3,79.1L191.3,78.5L190.8,80.8ZM200.1,79.1L203.1,78.6L202.5,80.9ZM210.6,78.7L213.6,78.5L212.8,80.8ZM221.2,78.1L224.2,78.6L222.9,80.6ZM242.0,79.3L245.1,79.4L244.1,81.5ZM252.2,79.8L255.3,79.4L254.6,81.7ZM110.2,74.0L112.6,72.1L113.2,74.5ZM119.9,73.4L122.6,71.9L122.8,74.3ZM129.8,73.5L132.4,71.9L132.8,74.2ZM138.5,73.1L141.2,71.7L141.4,74.1ZM148.8,72.7L151.6,71.5L151.6,73.9ZM159.7,72.7L162.5,71.5L162.5,73.9ZM168.3,72.6L171.1,71.4L171.1,73.8ZM178.5,72.6L181.3,71.4L181.3,73.8ZM190.0,72.0L192.9,71.2L192.6,73.6ZM198.5,71.9L201.5,71.1L201.1,73.5ZM208.7,72.5L211.5,71.3L211.5,73.7ZM221.0,71.7L224.0,71.2L223.4,73.6ZM251.7,72.4L254.6,71.5L254.4,73.9ZM261.5,73.0L264.2,71.6L264.3,73.9ZM281.3,73.2L283.8,71.6L284.2,74.0ZM120.6,66.3L122.9,64.4L123.7,66.7ZM130.6,65.9L133.0,64.1L133.5,66.5ZM140.3,65.3L142.9,63.9L143.2,66.2ZM150.7,64.8L153.5,63.6L153.5,66.0ZM160.8,64.5L163.7,63.6L163.5,66.0ZM170.5,64.6L173.4,63.6L173.2,66.0ZM180.8,64.8L183.6,63.6L183.6,66.0ZM190.7,64.4L193.6,63.5L193.4,65.9ZM200.6,64.4L203.5,63.5L203.3,65.9ZM211.8,64.8L214.6,63.7L214.6,66.1ZM221.5,64.5L224.5,63.6L224.2,66.0ZM232.0,64.7L234.9,63.7L234.7,66.1ZM251.5,65.0L254.3,63.7L254.4,66.1ZM260.6,66.1L263.0,64.2L263.6,66.5ZM271.0,65.7L273.4,63.9L274.0,66.3ZM131.0,58.7L133.2,56.5L134.1,58.7ZM141.2,57.5L143.8,56.0L144.1,58.4ZM151.9,56.1L154.9,55.8L154.2,58.1ZM161.4,56.6L164.3,55.8L164.0,58.2ZM171.7,56.1L174.8,55.8L174.0,58.1ZM182.4,56.2L185.5,56.0L184.7,58.3ZM191.5,56.5L194.4,55.8L194.0,58.2ZM201.4,56.7L204.3,55.8L204.1,58.2ZM211.9,56.9L214.8,55.9L214.6,58.3ZM222.6,57.0L225.5,55.9L225.4,58.3ZM232.6,57.0L235.4,55.9L235.3,58.3ZM242.4,57.0L245.2,55.9L245.2,58.3ZM251.8,57.3L254.5,55.9L254.6,58.3ZM261.2,57.7L263.7,56.0L264.1,58.4ZM270.7,58.0L273.2,56.2L273.7,58.5ZM280.1,58.5L282.4,56.5L283.1,58.8ZM289.7,58.7L292.0,56.7L292.7,58.9ZM121.2,50.6L123.5,48.6L124.2,50.9ZM131.5,50.5L133.8,48.5L134.5,50.8ZM141.5,50.4L143.9,48.4L144.6,50.7ZM151.5,49.2L154.4,48.1L154.3,50.5ZM161.5,49.0L164.4,48.0L164.2,50.4ZM171.6,48.9L174.5,48.0L174.2,50.4ZM181.6,48.9L184.5,48.0L184.3,50.4ZM201.9,49.1L204.8,48.1L204.6,50.5ZM212.5,49.2L215.4,48.1L215.3,50.5ZM223.4,49.5L226.1,47.9L226.4,50.3ZM233.2,49.3L236.0,48.1L236.0,50.5ZM243.1,49.3L245.9,48.1L246.0,50.5ZM280.3,50.5L282.6,48.6L283.3,50.9ZM290.0,50.6L292.3,48.7L293.0,51.0ZM141.3,42.4L143.8,40.6L144.3,42.9ZM151.3,42.2L153.8,40.5L154.3,42.9ZM161.5,41.7L164.2,40.3L164.3,42.7ZM171.5,41.9L174.2,40.4L174.5,42.8ZM181.5,41.6L184.3,40.3L184.4,42.7ZM213.4,41.6L216.1,40.2L216.3,42.6ZM223.5,41.7L226.1,40.1L226.4,42.5ZM233.5,41.7L236.1,40.1L236.5,42.5ZM242.8,41.6L245.5,40.2L245.7,42.6ZM280.3,42.7L282.7,40.8L283.3,43.1ZM289.1,43.1L291.4,41.2L292.1,43.5ZM298.8,43.3L301.1,41.3L301.8,43.6ZM161.5,34.0L164.2,32.6L164.4,35.0ZM171.5,34.0L174.2,32.6L174.4,34.9ZM181.6,33.8L184.3,32.5L184.4,34.9ZM191.8,33.7L194.6,32.5L194.6,34.9ZM223.2,33.8L225.9,32.4L226.0,34.8ZM233.4,33.9L236.0,32.3L236.4,34.7ZM242.7,33.9L245.4,32.4L245.6,34.8ZM280.4,34.7L282.8,32.9L283.4,35.2ZM289.6,35.1L292.0,33.2L292.6,35.5ZM299.4,35.2L301.7,33.3L302.4,35.5Z" fill="#000"/>
</g>
<line x1="102.00" y1="31.40" x2="317.90" y2="31.40" stroke="#8a8a8a" stroke-width="1" />
<line x1="33.00" y1="127.95" x2="250.90" y2="127.95" stroke="#a8a8a8" stroke-width="1.2" />
<line x1="106.00" y1="31.40" x2="38.00" y2="127.95" stroke="#222" stroke-width="1.1" />
<line x1="317.90" y1="31.40" x2="249.90" y2="127.95" stroke="#999" stroke-width="0.8" />
<line x1="317.90" y1="31.40" x2="319.80" y2="28.30" stroke="#777" stroke-width="0.8" />
<path d="M74.3,128.4 L74.3,265.5 L282.6,265.5 L282.6,83.0" fill="none" stroke="#888" stroke-width="1" />
<line x1="102.50" y1="31.40" x2="106.00" y2="31.40" stroke="#999" stroke-width="0.9" />
<text x="96.7" y="35.3" font-size="11" text-anchor="end" fill="#000" font-weight="normal" >20° N</text>
<line x1="85.50" y1="55.54" x2="89.00" y2="55.54" stroke="#999" stroke-width="0.9" />
<text x="79.7" y="59.4" font-size="11" text-anchor="end" fill="#000" font-weight="normal" >10° N</text>
<line x1="68.50" y1="79.68" x2="72.00" y2="79.68" stroke="#999" stroke-width="0.9" />
<text x="62.7" y="83.6" font-size="11" text-anchor="end" fill="#000" font-weight="normal" >0°</text>
<line x1="51.50" y1="103.81" x2="55.00" y2="103.81" stroke="#999" stroke-width="0.9" />
<text x="45.7" y="107.7" font-size="11" text-anchor="end" fill="#000" font-weight="normal" >10° S</text>
<line x1="34.50" y1="127.95" x2="38.00" y2="127.95" stroke="#999" stroke-width="0.9" />
<text x="28.7" y="131.9" font-size="11" text-anchor="end" fill="#000" font-weight="normal" >20° S</text>
<line x1="168.32" y1="31.40" x2="170.92" y2="28.60" stroke="#777" stroke-width="0.8" />
<text x="170.9" y="22.4" font-size="11" text-anchor="middle" fill="#000" font-weight="normal" >60° E</text>
<line x1="243.11" y1="31.40" x2="245.71" y2="28.60" stroke="#777" stroke-width="0.8" />
<text x="245.7" y="22.4" font-size="11" text-anchor="middle" fill="#000" font-weight="normal" >90° E</text>
<line x1="135.50" y1="265.50" x2="135.50" y2="271.00" stroke="#666" stroke-width="0.9" />
<text x="135.5" y="285.6" font-size="11" text-anchor="middle" fill="#000" font-weight="normal" >60° E</text>
<line x1="209.00" y1="265.50" x2="209.00" y2="271.00" stroke="#666" stroke-width="0.9" />
<text x="209.0" y="285.6" font-size="11" text-anchor="middle" fill="#000" font-weight="normal" >90° E</text>
<line x1="282.60" y1="265.50" x2="282.60" y2="271.00" stroke="#666" stroke-width="0.9" />
<text x="282.6" y="285.6" font-size="11" text-anchor="middle" fill="#000" font-weight="normal" >120° E</text>
<line x1="68.30" y1="169.50" x2="74.30" y2="169.50" stroke="#888" stroke-width="0.9" />
<text x="63.8" y="173.4" font-size="11" text-anchor="end" fill="#000" font-weight="normal" >40 m</text>
<line x1="68.30" y1="200.00" x2="74.30" y2="200.00" stroke="#888" stroke-width="0.9" />
<text x="63.8" y="203.9" font-size="11" text-anchor="end" fill="#000" font-weight="normal" >80 m</text>
<line x1="68.30" y1="220.70" x2="74.30" y2="220.70" stroke="#888" stroke-width="0.9" />
<text x="63.8" y="224.6" font-size="11" text-anchor="end" fill="#000" font-weight="normal" >120 m</text>
<line x1="68.30" y1="236.50" x2="74.30" y2="236.50" stroke="#888" stroke-width="0.9" />
<text x="63.8" y="240.4" font-size="11" text-anchor="end" fill="#000" font-weight="normal" >160 m</text>
<line x1="68.30" y1="249.00" x2="74.30" y2="249.00" stroke="#888" stroke-width="0.9" />
<text x="63.8" y="252.9" font-size="11" text-anchor="end" fill="#000" font-weight="normal" >200 m</text>
<line x1="68.30" y1="259.00" x2="74.30" y2="259.00" stroke="#888" stroke-width="0.9" />
<text x="63.8" y="262.9" font-size="11" text-anchor="end" fill="#000" font-weight="normal" >240 m</text>
<text x="271.1" y="23.6" font-size="11" text-anchor="start" fill="#000" font-weight="normal" >0.01 N m<tspan dy="-5" font-size="8.5">−2</tspan></text>
<line x1="295.10" y1="26.00" x2="307.00" y2="26.00" stroke="#000" stroke-width="0.9" />
<path d="M310,26 l-4.8,-1.9 l0.9,1.9 l-0.9,1.9z" fill="#000"/>
<clipPath id="pgb"><path d="M456.8,33.3 L668.6,33.3 L599.2,128.3 L387.4,128.3Z"/></clipPath>
<clipPath id="scb"><rect x="424.2" y="84.80000000000001" width="209.00000000000003" height="181.3"/></clipPath>
<g clip-path="url(#scb)">
<rect x="424.2" y="68.80000000000001" width="208.40000000000003" height="197.3" fill="#bebebe"/>
<rect x="439" y="68.80000000000001" width="147" height="197.3" fill="#e9f5e8"/>
<path d="M497.0,120.0 C511.2,116.7 570.7,102.0 585.4,120.0 C600.1,138.0 587.1,209.3 585.4,228.0 C583.7,246.7 579.5,230.2 575.0,232.0 C570.5,233.8 564.7,236.3 558.1,238.8 C551.5,241.3 542.6,244.8 535.6,246.9 C528.6,249.1 524.4,252.2 516.4,251.7 C508.4,251.2 494.4,245.8 487.4,243.7 C480.4,241.5 476.5,241.2 474.6,238.8 C472.7,236.4 473.0,231.3 476.2,229.2 C479.4,227.1 488.3,228.7 493.9,226.0 C499.5,223.3 508.1,218.4 510.0,213.1 C511.9,207.8 507.0,198.7 505.1,193.9 C503.2,189.1 501.6,185.3 498.7,184.2 C495.8,183.1 490.9,188.5 487.4,187.4 C483.9,186.3 479.1,181.5 477.8,177.8 C476.5,174.1 477.4,168.0 479.4,165.0 C481.4,162.0 485.7,161.1 490.0,160.0 C494.3,158.9 503.4,161.8 505.1,158.5 C506.8,155.2 501.4,146.4 500.0,140.0 C498.6,133.6 482.8,123.3 497.0,120.0Z" fill="#c3e3ef" stroke="#3a3a3a" stroke-width="0.4"/>
<path d="M446.0,141.0 C446.8,139.2 448.0,137.5 449.0,139.0 C450.0,140.5 451.2,144.0 452.0,150.0 C452.8,156.0 453.5,168.5 453.5,175.0 C453.5,181.5 452.9,187.2 452.0,189.0 C451.1,190.8 449.2,189.2 448.0,186.0 C446.8,182.8 445.6,176.0 445.0,170.0 C444.4,164.0 444.3,154.8 444.5,150.0 C444.7,145.2 445.2,142.8 446.0,141.0Z" fill="#c3e3ef" stroke="#3a3a3a" stroke-width="0.4"/>
<path d="M551.7,120.0 C557.6,113.0 579.8,103.9 585.4,120.0 C591.0,136.1 588.9,199.3 585.4,216.4 C581.9,233.5 572.8,219.6 564.5,222.8 C556.2,226.0 543.1,232.9 535.6,235.6 C528.1,238.3 521.2,242.0 519.6,238.8 C518.0,235.6 528.1,222.8 526.0,216.4 C523.9,210.0 510.2,204.9 506.7,200.3 C503.2,195.7 500.8,191.7 505.1,189.0 C509.4,186.3 524.9,188.7 532.4,184.2 C539.9,179.7 546.8,172.5 550.0,161.8 C553.2,151.1 545.8,127.0 551.7,120.0Z" fill="#97c7e2" stroke="#3a3a3a" stroke-width="0.4"/>
<path d="M571.0,120.0 C574.0,113.6 583.0,104.2 585.4,120.0 C587.8,135.8 589.9,198.1 585.4,214.7 C580.9,231.3 565.9,219.3 558.1,219.6 C550.3,219.9 543.9,219.1 538.8,216.4 C533.7,213.7 528.9,207.5 527.6,203.5 C526.3,199.5 527.8,196.1 530.8,192.3 C533.8,188.6 539.1,186.6 545.3,181.0 C551.4,175.4 563.4,168.7 567.7,158.5 C572.0,148.3 568.0,126.4 571.0,120.0Z" fill="#6ea5d1" stroke="#3a3a3a" stroke-width="0.4"/>
<path d="M579.0,120.0 C580.3,115.2 584.3,104.8 585.4,120.0 C586.5,135.2 588.9,195.7 585.4,211.5 C581.9,227.3 571.5,214.7 564.5,214.7 C557.5,214.7 548.5,213.9 543.7,211.5 C538.9,209.1 536.4,203.8 535.6,200.3 C534.8,196.8 535.6,195.0 538.8,190.7 C542.0,186.4 548.5,181.5 554.9,174.6 C561.3,167.7 573.4,158.1 577.4,149.0 C581.4,139.9 577.7,124.8 579.0,120.0Z" fill="#4b7dbc" stroke="#3a3a3a" stroke-width="0.4"/>
<path d="M586.0,145.7 C590.1,151.3 589.6,197.3 586.0,208.3 C582.4,219.3 571.0,211.5 564.5,211.5 C558.0,211.5 550.9,210.4 546.9,208.3 C542.9,206.2 540.9,201.9 540.4,198.7 C539.9,195.5 540.2,193.0 543.7,189.0 C547.2,185.0 554.2,181.8 561.3,174.6 C568.3,167.4 581.9,140.1 586.0,145.7Z" fill="#3a4fa2" stroke="#3a3a3a" stroke-width="0.4"/>
<path d="M441.0,205.0 C442.0,200.0 445.2,198.8 447.0,198.0 C448.8,197.2 450.7,198.0 452.0,200.0 C453.3,202.0 455.2,207.0 455.0,210.0 C454.8,213.0 451.3,215.0 451.0,218.0 C450.7,221.0 453.5,225.8 453.0,228.0 C452.5,230.2 450.0,231.0 448.0,231.0 C446.0,231.0 442.2,232.3 441.0,228.0 C439.8,223.7 440.0,210.0 441.0,205.0Z" fill="#fde28f" stroke="#3a3a3a" stroke-width="0.4"/>
<path d="M466.0,188.0 C467.3,187.8 469.3,189.2 471.0,192.0 C472.7,194.8 474.8,201.2 476.0,205.0 C477.2,208.8 478.3,211.5 478.0,215.0 C477.7,218.5 476.2,223.8 474.0,226.0 C471.8,228.2 467.3,228.7 465.0,228.0 C462.7,227.3 460.7,225.8 460.0,222.0 C459.3,218.2 460.5,209.8 461.0,205.0 C461.5,200.2 462.2,195.8 463.0,193.0 C463.8,190.2 464.7,188.2 466.0,188.0Z" fill="#fde28f" stroke="#3a3a3a" stroke-width="0.4"/>
<path d="M465.5,202.0 C466.2,202.2 467.6,205.0 468.0,207.0 C468.4,209.0 468.4,212.3 468.0,214.0 C467.6,215.7 466.2,217.3 465.5,217.0 C464.8,216.7 463.8,213.8 463.5,212.0 C463.2,210.2 463.5,207.7 463.8,206.0 C464.1,204.3 464.8,201.8 465.5,202.0Z" fill="#fdb464" stroke="#3a3a3a" stroke-width="0.4"/>
<path d="M487.0,203.0 C488.0,201.7 490.3,199.7 492.0,200.0 C493.7,200.3 496.3,203.2 497.0,205.0 C497.7,206.8 497.3,209.9 496.0,211.0 C494.7,212.1 490.7,212.0 489.0,211.5 C487.3,211.0 486.3,209.4 486.0,208.0 C485.7,206.6 486.0,204.3 487.0,203.0Z" fill="#fde28f" stroke="#3a3a3a" stroke-width="0.4"/>
<path d="M546.0,249.0 C546.7,248.2 549.8,247.6 552.0,247.5 C554.2,247.4 558.7,247.7 559.5,248.5 C560.3,249.3 558.9,251.7 557.0,252.3 C555.1,252.9 549.8,252.6 548.0,252.0 C546.2,251.4 545.3,249.8 546.0,249.0Z" fill="#fde28f" stroke="#3a3a3a" stroke-width="0.4"/>
<path d="M537.0,264.0 C538.2,263.0 540.8,261.4 543.0,261.0 C545.2,260.6 548.3,260.5 550.0,261.5 C551.7,262.5 555.3,266.1 553.0,267.0 C550.7,267.9 538.7,267.5 536.0,267.0 C533.3,266.5 535.8,265.0 537.0,264.0Z" fill="#fde28f" stroke="#3a3a3a" stroke-width="0.4"/>
<rect x="424.2" y="68.80000000000001" width="15.100000000000023" height="107.19999999999999" fill="#bebebe"/>
<rect x="424.2" y="176" width="16.69999999999999" height="91.10000000000002" fill="#bebebe"/>
<rect x="585.8" y="68.80000000000001" width="46.80000000000007" height="198.3" fill="#bebebe"/>
<rect x="583.8" y="182" width="48.80000000000007" height="85.10000000000002" fill="#bebebe"/>
<rect x="585.6" y="68.80000000000001" width="0.1" height="1" fill="#bebebe"/>
<rect x="596.7" y="110" width="10.8" height="77.30000000000001" fill="#e9f5e8"/>
<rect x="598.5" y="110" width="6" height="55" fill="#c3e3ef" stroke="#3a3a3a" stroke-width="0.3"/>
<rect x="607.5" y="110" width="3.5" height="21.80000000000001" fill="#e9f5e8"/>
<rect x="625.8" y="80" width="6.800000000000068" height="88.30000000000001" fill="#e9f5e8"/>
<rect x="627.5" y="168.3" width="5.100000000000023" height="97.80000000000001" fill="#c3e3ef"/>
</g>
<g clip-path="url(#pgb)">
<path d="M456.8,33.3 L668.6,33.3 L599.2,128.3 L387.4,128.3Z" fill="#e9f5e8" />
<path d="M463.0,48.0 C463.7,46.9 467.2,47.0 470.0,46.0 C472.8,45.0 475.8,43.3 480.0,42.0 C484.2,40.7 490.0,39.2 495.0,38.0 C500.0,36.8 504.2,36.2 510.0,35.0 C515.8,33.8 523.0,31.7 530.0,31.0 C537.0,30.3 548.8,28.9 552.0,31.0 C555.2,33.0 552.7,41.1 549.0,43.3 C545.3,45.5 536.5,43.6 530.0,44.0 C523.5,44.4 515.8,44.8 510.0,45.5 C504.2,46.2 500.0,47.0 495.0,48.0 C490.0,49.0 484.8,50.8 480.0,51.5 C475.2,52.2 468.8,53.1 466.0,52.5 C463.2,51.9 462.3,49.1 463.0,48.0Z" fill="#c3e3ef"/>
<path d="M425.0,86.0 C427.3,84.9 430.8,84.3 433.7,85.2 C436.6,86.1 441.1,89.0 442.2,91.5 C443.2,94.0 438.6,96.8 440.0,100.0 C441.4,103.2 447.4,107.8 450.6,110.6 C453.8,113.4 456.9,113.8 459.0,117.0 C461.1,120.2 470.6,127.8 463.3,130.0 C456.0,132.2 422.6,132.0 415.0,130.0 C407.4,128.0 418.5,121.3 418.0,118.0 C417.5,114.7 412.5,113.0 412.0,110.0 C411.5,107.0 413.7,103.0 415.0,100.0 C416.3,97.0 418.3,94.3 420.0,92.0 C421.7,89.7 422.7,87.1 425.0,86.0Z" fill="#c3e3ef"/>
<path d="M488.0,79.0 C490.3,77.7 493.8,77.8 500.0,77.0 C506.2,76.2 516.7,74.8 525.0,74.0 C533.3,73.2 541.7,72.3 550.0,72.0 C558.3,71.7 569.5,71.7 575.0,72.0 C580.5,72.3 581.7,69.7 583.0,74.0 C584.3,78.3 585.2,93.7 583.0,98.0 C580.8,102.3 573.8,99.0 570.0,100.0 C566.2,101.0 564.2,103.5 560.0,104.0 C555.8,104.5 550.0,103.5 545.0,103.0 C540.0,102.5 535.0,101.7 530.0,101.0 C525.0,100.3 520.0,99.8 515.0,99.0 C510.0,98.2 504.2,97.2 500.0,96.0 C495.8,94.8 492.3,93.8 490.0,92.0 C487.7,90.2 486.3,87.2 486.0,85.0 C485.7,82.8 485.7,80.3 488.0,79.0Z" fill="#c3e3ef"/>
<path d="M524.0,104.0 C527.5,99.7 539.0,103.0 545.0,103.0 C551.0,103.0 555.0,103.5 560.0,104.0 C565.0,104.5 570.3,105.3 575.0,106.0 C579.7,106.7 585.2,107.3 588.0,108.0 C590.8,108.7 595.0,109.5 592.0,110.0 C589.0,110.5 576.7,110.5 570.0,111.0 C563.3,111.5 555.7,111.2 552.0,113.0 C548.3,114.8 550.0,119.3 548.0,122.0 C546.0,124.7 544.0,127.8 540.0,129.0 C536.0,130.2 526.7,133.2 524.0,129.0 C521.3,124.8 520.5,108.3 524.0,104.0Z" fill="#c3e3ef"/>
<path d="M520.0,93.7 C526.3,91.7 546.7,94.3 560.0,94.0 C573.3,93.7 590.8,94.0 600.0,92.0 C609.2,90.0 612.3,81.7 615.0,82.0 C617.7,82.3 616.5,89.5 616.0,94.0 C615.5,98.5 618.0,106.4 612.0,109.0 C606.0,111.6 592.0,109.5 580.0,109.5 C568.0,109.5 549.7,109.6 540.0,109.0 C530.3,108.4 525.3,108.5 522.0,106.0 C518.7,103.5 513.7,95.7 520.0,93.7Z" fill="#c3e3ef"/>
<path d="M636.0,31.0 C641.0,29.5 663.7,28.6 668.0,31.0 C672.3,33.4 665.8,43.2 662.0,45.5 C658.2,47.8 649.0,45.9 645.0,45.0 C641.0,44.1 639.5,42.3 638.0,40.0 C636.5,37.7 631.0,32.5 636.0,31.0Z" fill="#c3e3ef"/>
<path d="M575.0,31.0 C578.2,29.8 593.7,29.3 597.0,31.0 C600.3,32.7 597.0,39.2 595.0,41.0 C593.0,42.8 587.8,42.0 585.0,41.5 C582.2,41.0 579.7,39.8 578.0,38.0 C576.3,36.2 571.8,32.2 575.0,31.0Z" fill="#c3e3ef"/>
<path d="M525.0,74.0 C531.2,73.2 545.3,74.3 555.0,75.0 C564.7,75.7 578.3,74.8 583.0,78.0 C587.7,81.2 587.7,91.4 583.0,94.0 C578.3,96.6 563.8,94.0 555.0,93.7 C546.2,93.4 535.8,93.0 530.0,92.0 C524.2,91.0 522.0,90.0 520.0,88.0 C518.0,86.0 517.2,82.3 518.0,80.0 C518.8,77.7 518.8,74.8 525.0,74.0Z" fill="#97c7e2"/>
<path d="M555.6,78.0 C560.8,76.5 578.4,76.4 583.0,79.0 C587.6,81.6 586.8,91.4 583.0,93.7 C579.2,96.0 565.2,94.0 560.0,93.0 C554.8,92.0 552.7,90.5 552.0,88.0 C551.3,85.5 550.4,79.5 555.6,78.0Z" fill="#6ea5d1"/>
<path d="M566.6,80.5 C569.6,79.7 580.3,79.2 583.0,81.0 C585.7,82.8 585.2,89.7 583.0,91.4 C580.8,93.1 573.0,91.9 570.0,91.0 C567.0,90.1 565.6,87.8 565.0,86.0 C564.4,84.2 563.6,81.3 566.6,80.5Z" fill="#4b7dbc"/>
<path d="M575.0,83.5 C576.0,82.5 580.8,82.4 582.0,83.5 C583.2,84.6 583.0,89.0 582.0,90.0 C581.0,91.0 577.2,90.6 576.0,89.5 C574.8,88.4 574.0,84.5 575.0,83.5Z" fill="#3a4fa2"/>
<path d="M462.3,73.5 C462.5,71.5 467.1,67.3 469.7,65.0 C472.3,62.7 475.5,60.8 478.1,59.8 C480.7,58.8 484.4,58.6 485.5,59.3 C486.6,60.0 486.1,62.2 484.5,64.0 C482.9,65.8 478.6,68.2 476.0,70.3 C473.4,72.4 470.9,76.2 468.6,76.7 C466.3,77.2 462.1,75.5 462.3,73.5Z" fill="#fde28f"/>
<path d="M488.7,95.7 C491.0,94.0 496.5,92.6 499.3,92.6 C502.1,92.6 505.0,94.3 505.7,95.7 C506.4,97.1 502.6,99.4 503.5,101.0 C504.4,102.6 509.9,103.7 511.0,105.3 C512.1,106.9 511.8,109.7 509.9,110.6 C507.9,111.5 502.8,110.8 499.3,110.6 C495.8,110.4 491.0,110.8 488.7,109.5 C486.4,108.2 485.5,105.4 485.5,103.1 C485.5,100.8 486.4,97.5 488.7,95.7Z" fill="#fde28f"/>
<path d="M502.5,123.5 C503.8,121.3 504.8,119.1 507.8,118.0 C510.8,116.9 516.8,116.8 520.5,117.0 C524.2,117.2 527.9,116.7 530.0,119.0 C532.1,121.3 538.0,129.0 533.0,131.0 C528.0,133.0 505.1,132.2 500.0,131.0 C494.9,129.8 501.2,125.7 502.5,123.5Z" fill="#fde28f"/>
<path d="M638.9,62.0 C639.6,60.6 642.5,58.9 644.0,58.6 C645.5,58.3 647.4,58.5 647.6,60.0 C647.8,61.5 646.3,66.2 645.0,67.4 C643.7,68.6 641.0,67.9 640.0,67.0 C639.0,66.1 638.2,63.4 638.9,62.0Z" fill="#fde28f"/>
<path d="M524.0,116.0 C525.0,113.9 528.7,114.6 530.0,115.6 C531.3,116.6 532.0,119.9 532.0,122.0 C532.0,124.1 531.3,127.0 530.0,128.0 C528.7,129.0 525.0,130.0 524.0,128.0 C523.0,126.0 523.0,118.1 524.0,116.0Z" fill="#fde28f"/>
<path d="M456.8,33.3 L463.3,33.3 L463.7,39.8 L463.6,46.7 L464.0,51.1 L463.2,53.6 L470.5,53.1 L477.5,52.1 L484.4,50.8 L481.5,55.5 L478.4,57.0 L473.4,62.2 L468.3,66.9 L464.4,71.6 L458.1,76.7 L450.1,80.3 L442.1,82.6 L433.2,85.8 L427.0,90.0 L424.3,92.9 L420.8,97.8 L419.8,101.6 L417.2,106.7 L416.0,110.9 L409.6,116.5 L403.5,121.8 L397.4,124.9 L393.2,126.8 L387.4,128.3Z" fill="#bebebe" stroke="#ffffff" stroke-width="0.9" stroke-linejoin="round"/>
<path d="M463.3,33.3 L512.7,33.3 L508.2,36.4 L500.7,39.8 L494.0,43.6 L485.6,46.7 L477.6,48.6 L469.1,50.0 L465.5,51.1 L464.0,51.1 L463.6,46.7 L463.7,39.8Z" fill="#bebebe" stroke="#ffffff" stroke-width="0.9" stroke-linejoin="round"/>
<path d="M410.7,128.3 L413.7,120.3 L419.5,117.5 L426.9,114.6 L431.6,111.6 L435.8,109.5 L437.9,110.9 L434.6,114.6 L431.2,118.8 L426.5,123.4 L423.8,128.3Z" fill="#bebebe" stroke="#ffffff" stroke-width="0.9" stroke-linejoin="round"/>
<path d="M548.6,33.3 L546.7,37.8 L545.2,42.8 L542.5,50.6 L540.6,57.2 L540.8,62.4 L541.8,61.6 L545.4,58.5 L549.4,54.6 L554.5,48.6 L559.8,44.3 L564.6,40.3 L568.7,37.8 L575.7,34.9 L581.7,33.3Z" fill="#bebebe" stroke="#ffffff" stroke-width="0.9" stroke-linejoin="round"/>
<path d="M546.9,58.5 L549.4,57.0 L551.9,59.5 L552.1,63.4 L549.8,66.2 L547.1,64.4Z" fill="#bebebe" stroke="#ffffff" stroke-width="0.9" stroke-linejoin="round"/>
<path d="M600.5,33.3 L599.0,41.5 L602.6,43.7 L604.7,45.7 L600.2,53.0 L597.4,56.5 L595.3,61.4 L594.5,67.3 L594.3,72.3 L595.3,76.6 L596.6,76.6 L598.6,73.2 L599.2,67.3 L600.3,60.5 L603.4,54.6 L607.5,51.6 L612.0,51.5 L613.9,56.5 L615.3,58.7 L620.4,57.5 L623.6,55.8 L627.4,52.6 L631.0,48.6 L632.6,41.8 L632.7,35.7 L634.7,33.3Z" fill="#bebebe" stroke="#ffffff" stroke-width="0.9" stroke-linejoin="round"/>
<path d="M581.6,67.4 L584.7,67.3 L587.4,68.0 L590.1,73.2 L592.5,78.4 L594.8,83.1 L594.7,86.4 L591.9,91.0 L588.8,94.9 L587.0,95.6 L584.9,91.9 L584.2,88.7 L583.0,83.1 L582.6,78.4 L581.7,72.3Z" fill="#bebebe" stroke="#ffffff" stroke-width="0.9" stroke-linejoin="round"/>
<path d="M587.0,95.0 L590.8,95.1 L594.8,95.4 L599.8,96.1 L603.3,96.9 L606.2,98.8 L603.7,100.6 L597.7,100.3 L592.7,100.3 L588.2,99.3Z" fill="#bebebe" stroke="#ffffff" stroke-width="0.9" stroke-linejoin="round"/>
<path d="M605.4,77.8 L607.6,76.2 L609.5,75.5 L614.1,74.2 L618.8,73.1 L624.2,70.8 L630.6,67.4 L634.2,65.9 L637.6,65.2 L639.9,66.9 L637.7,69.3 L635.1,71.5 L633.1,75.2 L630.4,79.5 L627.0,82.1 L623.4,84.1 L618.9,87.0 L615.1,89.9 L611.6,88.7 L607.9,88.0 L605.8,87.0 L605.0,82.1Z" fill="#bebebe" stroke="#ffffff" stroke-width="0.9" stroke-linejoin="round"/>
<path d="M650.7,33.3 L656.7,33.3 L653.7,36.8 L649.6,37.8Z" fill="#bebebe" stroke="#ffffff" stroke-width="0.9" stroke-linejoin="round"/>
<path d="M461.8,33.3 L469.3,33.3 L468.2,39.8 L467.1,45.7 L465.3,50.1 L464.0,50.4 L462.9,45.7 L462.2,39.8Z" fill="#ffffff" />
<path d="M396.3,126.9L395.6,127.4M406.3,126.9L405.5,127.4M426.0,126.8L425.4,127.3M453.6,126.9L454.3,127.4M463.3,126.7L463.9,127.1L464.5,127.5M473.1,126.5L473.9,127.1L474.6,127.7M483.0,126.3L483.1,126.4L483.9,127.0L484.6,127.7L484.8,127.8M492.9,126.0L493.2,126.2L493.9,126.9L494.6,127.7L494.8,127.9M503.8,125.3L504.0,125.7L504.2,126.7L504.5,127.7L504.6,128.1M514.0,124.5L514.1,124.7L514.2,125.7L514.3,126.7L514.4,127.7L514.6,128.7L514.6,128.9M524.5,124.4L524.5,124.7L524.5,125.7L524.4,126.7L524.4,127.7L524.4,128.7L524.3,129.0M534.8,124.5L534.7,124.7L534.6,125.7L534.5,126.7L534.3,127.7L534.2,128.6L534.2,128.8M545.1,125.3L545.0,125.8L544.6,126.7L544.3,127.7L544.1,128.1M555.2,125.9L555.2,125.9L554.7,126.8L554.2,127.7L554.2,127.7M565.2,126.2L564.8,126.8L564.3,127.5M575.0,126.4L574.4,127.3M442.9,119.3L443.0,119.4L444.0,119.7L444.9,120.0L445.2,120.0M452.4,119.4L452.9,119.5L453.9,119.7L454.9,120.0L455.4,120.1M462.2,118.9L463.0,119.3L463.9,119.6L464.8,120.0L465.7,120.3M471.9,119.0L472.0,119.0L472.9,119.3L473.9,119.6L474.8,120.0L475.7,120.4L475.8,120.4M482.2,118.4L482.2,118.4L483.0,119.0L483.9,119.5L484.7,120.0L485.6,120.5L485.6,120.5M491.8,118.4L492.1,118.5L493.0,119.0L493.8,119.5L494.7,120.0L495.5,120.5L495.8,120.7M503.4,117.4L503.8,118.2L504.2,119.1L504.6,120.0L505.0,120.9M513.2,115.3L513.5,116.1L513.9,117.1L514.2,118.0L514.4,119.0L514.6,120.0L514.8,121.0L515.0,121.9L515.1,122.9M524.6,116.0L524.6,117.0L524.5,118.0L524.5,119.0L524.5,120.0L524.5,121.0L524.5,122.0M534.9,115.9L534.9,116.0L534.7,117.0L534.6,118.0L534.5,119.0L534.5,120.0L534.4,121.0L534.3,122.0L534.3,122.1M545.3,117.4L545.0,118.1L544.7,119.0L544.4,120.0L544.2,120.7M555.4,118.1L555.3,118.2L554.8,119.1L554.3,120.0L554.3,120.2M565.2,118.5L564.8,119.1L564.4,119.8M575.0,118.6L574.4,119.6M416.6,111.4L415.5,112.2M426.5,111.5L425.5,112.1M472.0,110.3L472.4,110.6L473.2,111.2L474.1,111.8L474.9,112.3L475.7,112.9L476.2,113.2M483.7,110.9L484.2,111.5L484.8,112.2M491.2,109.5L491.6,109.9L492.3,110.6L493.1,111.2L493.9,111.8L494.8,112.3L495.6,112.8L496.5,113.4L497.0,113.7M503.8,109.6L504.0,110.5L504.3,111.4L504.7,112.3L505.1,113.1M514.4,108.3L514.4,108.3L514.4,109.3L514.5,110.3L514.5,111.3L514.7,112.3L514.8,113.3L515.1,114.3L515.1,114.3M525.1,108.4L525.0,109.3L524.8,110.3L524.7,111.3L524.6,112.3L524.5,113.3L524.4,114.3M535.2,108.4L535.0,109.3L534.9,110.3L534.7,111.3L534.6,112.3L534.4,113.3L534.2,114.3M544.9,108.5L544.9,109.3L544.8,110.3L544.7,111.3L544.5,112.3L544.4,113.3L544.1,114.2M555.5,110.2L555.3,110.5L554.9,111.4L554.5,112.3L554.3,112.6M565.0,110.6L564.8,111.4L564.4,112.2M574.8,110.5L574.6,111.3L574.4,112.2M584.4,110.5L584.4,111.3L584.3,112.1M426.7,103.8L425.6,104.5M436.6,104.0L435.6,104.5M446.7,104.2L445.6,104.5M495.4,103.5L495.2,104.0M505.9,102.9L505.9,102.9L505.3,103.8L504.9,104.6L504.8,104.7M516.3,100.5L516.0,100.9L515.5,101.7L515.2,102.7L514.9,103.6L514.8,104.6L514.7,105.6L514.6,106.6L514.6,107.1M526.3,101.6L526.0,101.9L525.5,102.8L525.1,103.7L524.7,104.6L524.4,105.6L524.3,106.0M536.3,101.7L536.0,102.0L535.5,102.8L535.0,103.7L534.7,104.6L534.4,105.6L534.3,106.0M546.2,101.3L545.7,101.8L545.2,102.7L544.8,103.7L544.6,104.6L544.4,105.6L544.4,106.4M555.6,103.4L554.8,104.3M565.3,103.6L565.0,104.1M575.4,103.5L574.8,104.2M585.1,103.4L584.7,104.1M426.9,96.2L425.7,96.8M436.9,96.4L436.3,96.6L435.6,96.9M447.7,96.8L447.3,96.8L446.3,96.9L445.3,97.0L444.9,97.0M457.7,96.8L457.2,96.8L456.2,96.9L455.2,97.0L454.7,97.0M467.1,96.6L466.2,96.8L465.2,97.0M478.0,96.9L477.1,96.9L476.1,96.9L475.1,97.0L474.2,97.0M487.1,96.5L487.0,96.5L486.1,96.7L485.1,97.0L484.9,97.0M497.5,96.6L497.0,96.7L496.0,96.8L495.0,97.0L494.5,97.1M507.8,96.6L506.9,96.7L506.0,96.8L505.0,97.0L504.0,97.1M517.4,96.2L516.8,96.4L515.9,96.7L514.9,97.0L514.3,97.2M527.4,96.7L526.8,96.7L525.9,96.8L524.9,97.0L524.3,97.0M537.1,96.6L536.8,96.7L535.8,96.8L534.8,97.0L534.4,97.0M547.2,97.0L546.7,97.0L545.7,97.0L544.7,97.0L544.3,97.0M566.1,97.1L565.1,97.0M576.4,97.1L575.6,97.1L574.7,97.0M586.0,96.8L585.0,96.9M437.1,88.9L436.4,89.0L435.7,89.2M447.5,89.2L447.4,89.2L446.4,89.2L445.4,89.3L445.3,89.3M458.9,89.2L458.4,89.3L457.4,89.3L456.4,89.3L455.4,89.3L454.4,89.3L453.7,89.3M467.7,89.1L467.3,89.1L466.3,89.2L465.3,89.3L464.8,89.3M478.6,89.2L478.2,89.2L477.2,89.2L476.2,89.3L475.2,89.3L474.2,89.3L473.9,89.3M488.5,89.1L488.2,89.2L487.2,89.2L486.2,89.3L485.2,89.3L484.2,89.3L483.8,89.3M498.2,89.2L498.1,89.2L497.1,89.2L496.1,89.2L495.1,89.3L494.1,89.3L494.0,89.3M510.1,89.7L510.1,89.7L509.1,89.6L508.1,89.5L507.1,89.5L506.1,89.4L505.1,89.3L504.1,89.2L503.1,89.1L502.1,89.1L502.0,89.1M518.8,89.7L518.0,89.6L517.0,89.5L516.0,89.4L515.0,89.3L514.0,89.2L513.2,89.1M529.6,90.8L528.8,90.6L527.8,90.3L526.9,89.9L525.9,89.6L525.0,89.3L524.0,89.0L523.1,88.7L522.2,88.5M538.5,90.2L537.8,90.0L536.9,89.8L535.9,89.5L534.9,89.3L533.9,89.1L533.2,88.9M549.0,91.3L548.5,91.1L547.5,90.6L546.7,90.2L545.8,89.7L544.9,89.3L544.0,88.8L543.1,88.4L542.4,88.2M557.9,90.4L557.6,90.3L556.7,89.9L555.8,89.6L554.8,89.3L553.9,89.0L553.5,88.8M568.0,91.8L567.9,91.8L567.1,91.2L566.3,90.5L565.6,89.9L564.8,89.3L564.0,88.7L563.1,88.1L563.0,88.0M577.0,91.1L576.2,90.6L575.5,89.9L574.7,89.3L574.0,88.6M596.3,89.2L595.6,89.2L594.8,89.3M606.0,88.9L605.0,89.2M626.2,88.7L625.4,89.0L624.5,89.3M457.4,81.6L456.5,81.6L455.5,81.6M467.6,81.4L467.4,81.4L466.4,81.5L465.4,81.6L465.2,81.6M478.1,81.7L477.4,81.7L476.4,81.6L475.4,81.6L474.6,81.6M488.2,81.6L487.3,81.6L486.3,81.6L485.3,81.6L484.4,81.6M498.9,81.6L498.3,81.6L497.3,81.6L496.3,81.6L495.3,81.6L494.3,81.6L493.6,81.6M509.4,82.5L509.1,82.4L508.1,82.2L507.2,81.9L506.2,81.8L505.2,81.6L504.2,81.5L503.2,81.4L502.8,81.3M519.4,82.2L519.1,82.2L518.1,82.0L517.1,81.9L516.1,81.8L515.1,81.6L514.2,81.4L513.2,81.3L512.9,81.2M529.5,82.2L529.1,82.1L528.1,81.9L527.1,81.8L526.1,81.7L525.1,81.6L524.1,81.5L523.1,81.4L522.6,81.4M539.5,83.4L538.8,83.1L537.8,82.7L536.9,82.3L536.0,82.0L535.0,81.6L534.1,81.3L533.2,80.9L532.3,80.7M548.9,82.5L548.9,82.5L547.9,82.2L546.9,82.0L546.0,81.8L545.0,81.6L544.0,81.4L543.0,81.2L542.9,81.2M559.0,83.5L558.6,83.3L557.7,82.8L556.8,82.4L555.8,82.0L554.9,81.6L554.0,81.2L553.1,80.9L552.5,80.7M568.1,82.7L567.7,82.6L566.8,82.2L565.8,81.9L564.9,81.6L563.9,81.3L563.5,81.2M577.4,83.2L577.4,83.2L576.6,82.6L575.7,82.1L574.8,81.6L573.9,81.1L573.9,81.1M596.9,81.6L596.7,81.6L595.7,81.6L594.7,81.6L594.5,81.6M606.7,81.3L606.6,81.3L605.6,81.5L604.7,81.6L604.5,81.6M467.4,73.7L466.5,73.8L465.6,73.9M477.6,73.7L477.5,73.8L476.5,73.8L475.5,73.9L475.3,74.0M488.1,73.8L487.4,73.8L486.4,73.9L485.4,73.9L484.7,74.0M498.9,73.9L498.4,73.9L497.4,73.9L496.4,73.9L495.4,73.9L494.4,73.9L493.8,74.0M509.0,74.0L508.3,74.0L507.3,74.0L506.3,73.9L505.3,73.9L504.3,73.9L503.6,73.9M518.9,74.1L518.3,74.0L517.3,74.0L516.3,74.0L515.3,73.9L514.3,73.9L513.6,73.9M530.0,74.1L529.2,74.0L528.2,74.0L527.2,74.0L526.2,74.0L525.2,73.9L524.2,73.9L523.2,73.9L522.4,73.9M538.6,74.3L538.1,74.2L537.1,74.1L536.1,74.0L535.2,73.9L534.2,73.9L533.6,73.8M549.1,74.4L549.1,74.3L548.1,74.3L547.1,74.1L546.1,74.0L545.1,73.9L544.1,73.8L543.1,73.7L543.0,73.7M558.6,74.3L558.0,74.3L557.0,74.1L556.0,74.0L555.0,73.9L554.0,73.8L553.5,73.8M568.1,74.5L567.9,74.5L567.0,74.3L566.0,74.1L565.0,73.9L564.0,73.8L563.8,73.7M577.2,74.1L576.9,74.1L575.9,74.0L574.9,73.9L574.6,73.9M607.2,73.6L606.7,73.7L605.8,73.8L604.8,73.9L604.2,74.0M617.4,73.3L616.7,73.5L615.7,73.7L614.7,73.9L614.0,74.1M637.5,73.0L637.5,73.0L636.5,73.3L635.6,73.6L634.6,73.9L633.6,74.2L633.5,74.3M477.5,66.0L476.6,66.1L475.6,66.3M487.8,66.1L487.5,66.1L486.5,66.2L485.5,66.3L485.2,66.3M498.0,66.2L497.5,66.2L496.5,66.2L495.5,66.3L494.9,66.3M508.2,66.2L507.4,66.2L506.4,66.2L505.4,66.3L504.6,66.3M518.1,66.3L517.4,66.3L516.4,66.3L515.4,66.3L514.6,66.3M528.1,66.3L527.3,66.3L526.3,66.3L525.3,66.3L524.5,66.3M538.2,66.4L537.3,66.3L536.3,66.3L535.3,66.3L534.3,66.2M548.3,66.4L548.2,66.4L547.2,66.4L546.2,66.3L545.2,66.3L544.2,66.2L544.1,66.2M557.9,66.4L557.2,66.4L556.2,66.3L555.2,66.3L554.3,66.2M567.8,66.5L567.1,66.4L566.1,66.3L565.1,66.3L564.3,66.2M577.5,66.4L577.0,66.4L576.0,66.3L575.0,66.3L574.5,66.2M587.7,66.3L587.0,66.3L586.0,66.3L585.0,66.3L584.3,66.2M607.6,65.8L606.9,66.0L605.9,66.1L604.9,66.3L604.1,66.4M618.0,65.3L617.7,65.4L616.8,65.7L615.8,66.0L614.8,66.3L613.9,66.5L613.5,66.6M628.0,65.2L627.6,65.3L626.7,65.7L625.7,66.0L624.8,66.3L623.8,66.6L623.4,66.7M487.8,58.4L487.6,58.4L486.6,58.5L485.7,58.6L485.5,58.6M497.9,58.4L497.6,58.4L496.6,58.5L495.6,58.6L495.3,58.6M508.0,58.5L507.5,58.5L506.5,58.5L505.5,58.6L505.0,58.6M517.8,58.5L517.5,58.6L516.5,58.6L515.5,58.6L515.1,58.6M527.8,58.6L527.4,58.6L526.4,58.6L525.4,58.6L525.0,58.6M537.9,58.6L537.4,58.6L536.4,58.6L535.4,58.6L534.8,58.6M548.0,58.7L547.3,58.6L546.3,58.6L545.3,58.6L544.6,58.6M557.9,58.7L557.3,58.7L556.3,58.6L555.3,58.6L554.6,58.6M567.8,58.7L567.2,58.6L566.2,58.6L565.2,58.6L564.6,58.6M577.7,58.6L577.2,58.6L576.2,58.6L575.2,58.6L574.6,58.6M587.8,58.6L587.1,58.6L586.1,58.6L585.1,58.6L584.4,58.6M597.8,58.5L597.1,58.5L596.1,58.5L595.1,58.6L594.2,58.6M607.8,58.1L607.0,58.2L606.0,58.4L605.0,58.6L604.1,58.7M618.5,57.4L617.8,57.6L616.8,58.0L615.9,58.3L614.9,58.6L614.0,58.9L613.2,59.1M628.6,57.3L627.7,57.6L626.8,57.9L625.8,58.3L624.9,58.6L623.9,58.9L623.0,59.2M638.7,57.3L638.6,57.4L637.7,57.7L636.7,58.0L635.8,58.3L634.8,58.6L633.9,58.9L632.9,59.2L632.8,59.2M648.8,57.3L648.6,57.4L647.6,57.7L646.7,58.0L645.7,58.3L644.8,58.6L643.8,58.9L642.9,59.2L642.6,59.3M477.7,50.7L476.8,50.8L475.9,50.9M487.9,50.7L487.8,50.7L486.8,50.8L485.8,50.9L485.6,50.9M497.8,50.7L497.7,50.7L496.7,50.8L495.7,50.9L495.6,50.9M507.8,50.7L507.7,50.7L506.7,50.8L505.7,50.9L505.4,50.9M517.9,50.8L517.6,50.8L516.6,50.9L515.6,50.9L515.3,50.9M527.4,50.9L526.6,50.9L525.7,50.9M537.4,50.9L536.5,50.9L535.5,50.9M557.8,50.9L557.4,50.9L556.4,50.9L555.4,50.9L554.9,50.9M567.5,50.9L567.3,50.9L566.3,50.9L565.3,50.9L565.1,50.9M577.6,50.9L577.3,50.9L576.3,50.9L575.3,50.9L574.9,50.9M587.7,50.8L587.2,50.9L586.2,50.9L585.2,50.9L584.7,50.9M597.7,50.7L597.2,50.7L596.2,50.8L595.2,50.9L594.6,51.0M639.1,49.6L638.8,49.7L637.8,50.0L636.9,50.3L635.9,50.6L635.0,50.9L634.0,51.2L633.0,51.5L632.7,51.6M649.0,49.6L648.7,49.7L647.7,50.0L646.8,50.3L645.8,50.6L644.9,50.9L643.9,51.2L643.0,51.5L642.6,51.7M498.0,43.0L497.8,43.0L496.8,43.1L495.8,43.2L495.6,43.3M508.0,43.0L507.8,43.1L506.8,43.1L505.8,43.2L505.5,43.3M518.0,43.1L517.7,43.1L516.7,43.2L515.7,43.2L515.4,43.3M527.8,43.2L527.7,43.2L526.7,43.2L525.7,43.2L525.5,43.2M537.7,43.2L537.6,43.2L536.6,43.2L535.6,43.2L535.4,43.2M567.2,43.2L566.4,43.2L565.6,43.2M577.3,43.2L576.4,43.2L575.5,43.2M587.6,43.1L587.3,43.1L586.3,43.2L585.3,43.2L585.1,43.3M597.2,43.1L596.3,43.2L595.3,43.2M639.3,41.9L638.9,42.0L637.9,42.3L637.0,42.6L636.0,42.9L635.1,43.2L634.1,43.5L633.2,43.9L632.7,44.0M649.5,41.7L648.8,41.9L647.9,42.3L646.9,42.6L646.0,42.9L645.0,43.2L644.1,43.6L643.1,43.9L642.4,44.1M659.5,41.7L658.7,42.0L657.8,42.3L656.9,42.6L655.9,42.9L655.0,43.2L654.0,43.6L653.1,43.9L652.3,44.1M518.1,35.4L517.8,35.4L516.8,35.5L515.8,35.6L515.5,35.6M528.0,35.4L527.8,35.4L526.8,35.5L525.8,35.6L525.5,35.6M538.0,35.4L537.7,35.4L536.7,35.5L535.7,35.6L535.4,35.6M548.0,35.4L547.7,35.5L546.7,35.5L545.7,35.6L545.3,35.6M577.7,35.4L577.5,35.4L576.5,35.5L575.5,35.6L575.3,35.6M587.7,35.4L587.4,35.4L586.5,35.5L585.5,35.6L585.2,35.6M597.3,35.4L596.4,35.5L595.4,35.6M639.0,34.4L639.0,34.4L638.0,34.7L637.1,35.0L636.1,35.3L635.2,35.6L634.2,35.9L633.3,36.1L633.2,36.2M649.5,34.1L648.9,34.3L648.0,34.6L647.0,34.9L646.1,35.2L645.1,35.6L644.2,35.9L643.2,36.2L642.6,36.4M659.5,34.1L658.9,34.3L657.9,34.6L657.0,34.9L656.0,35.2L655.1,35.6L654.1,35.9L653.2,36.2L652.5,36.4" fill="none" stroke="#000" stroke-width="0.65"/>
<path d="M393.9,128.4L395.6,125.9L396.9,127.9ZM403.9,128.5L405.5,125.9L406.8,127.9ZM423.9,128.5L425.3,125.8L426.8,127.7ZM434.5,128.4L434.6,125.4L436.8,126.4ZM445.6,128.4L442.7,127.4L444.3,125.6ZM456.0,128.4L453.0,127.9L454.3,125.9ZM466.1,128.7L463.1,128.0L464.5,126.1ZM476.2,128.9L473.2,128.1L474.7,126.2ZM486.2,129.1L483.3,128.1L485.0,126.4ZM496.0,129.5L493.3,128.0L495.2,126.5ZM505.1,130.1L503.3,127.6L505.6,127.0ZM514.7,130.9L513.3,128.2L515.7,128.0ZM524.2,130.9L523.2,128.0L525.6,128.2ZM533.8,130.8L533.1,127.8L535.5,128.2ZM543.4,130.0L543.3,126.9L545.5,127.8ZM553.2,129.4L553.6,126.4L555.6,127.6ZM563.2,129.1L563.8,126.1L565.8,127.5ZM573.2,128.9L573.9,125.9L575.8,127.3ZM583.5,128.8L583.7,125.7L585.8,126.8ZM593.6,128.7L593.6,125.6L595.8,126.6ZM434.5,120.7L435.1,117.7L437.1,119.0ZM447.1,120.5L444.1,121.0L444.6,118.7ZM457.3,120.7L454.3,121.0L455.0,118.8ZM467.5,120.9L464.5,121.1L465.2,118.9ZM477.6,121.3L474.5,121.1L475.6,119.0ZM487.4,121.3L484.4,121.2L485.4,119.1ZM497.3,121.9L494.4,121.2L495.9,119.2ZM505.7,122.7L503.5,120.5L505.8,119.6ZM515.5,124.8L513.8,122.3L516.2,121.8ZM524.5,123.9L523.3,121.1L525.7,121.2ZM534.2,124.1L533.2,121.2L535.6,121.3ZM543.6,122.6L543.3,119.6L545.6,120.3ZM553.3,121.9L553.6,118.9L555.7,120.0ZM563.3,121.5L563.8,118.5L565.8,119.8ZM573.5,121.3L573.8,118.3L575.9,119.4ZM584.1,121.1L583.1,118.2L585.5,118.4ZM594.3,121.0L592.6,118.4L595.0,118.0ZM413.8,113.2L415.5,110.7L416.8,112.7ZM423.8,113.2L425.5,110.6L426.8,112.7ZM444.4,112.9L445.8,110.1L447.3,112.0ZM455.1,112.9L453.6,110.2L456.0,110.0ZM465.6,113.2L463.0,111.6L464.9,110.2ZM477.8,114.4L474.9,113.7L476.2,111.8ZM486.0,113.7L483.3,112.3L485.1,110.8ZM498.6,114.9L495.6,114.2L497.0,112.3ZM506.0,114.9L503.7,112.9L505.8,111.8ZM515.6,116.2L513.7,113.9L516.0,113.2ZM524.3,116.2L523.3,113.4L525.7,113.5ZM533.9,116.2L533.2,113.3L535.6,113.7ZM543.7,116.1L543.2,113.1L545.5,113.7ZM553.5,114.4L553.6,111.4L555.8,112.4ZM563.7,114.0L563.6,111.0L565.9,111.9ZM573.9,114.1L573.4,111.1L575.7,111.7ZM584.1,114.1L583.2,111.2L585.6,111.4ZM593.9,113.4L593.5,110.4L595.8,111.1ZM603.8,113.2L603.9,110.1L606.1,111.2ZM423.9,105.4L425.7,103.0L426.9,105.1ZM433.8,105.3L435.9,103.0L436.9,105.2ZM443.7,105.1L446.0,103.1L446.7,105.4ZM453.9,104.9L456.4,103.1L456.9,105.5ZM464.2,105.0L466.3,102.8L467.2,105.1ZM474.4,105.4L475.1,102.5L477.1,103.9ZM485.4,105.6L483.1,103.6L485.3,102.6ZM494.4,105.8L494.4,102.8L496.6,103.8ZM504.0,106.5L504.0,103.5L506.3,104.4ZM514.6,109.0L513.4,106.2L515.8,106.3ZM523.9,107.9L523.3,105.0L525.7,105.5ZM533.9,107.9L533.3,105.0L535.6,105.4ZM544.3,108.4L543.2,105.5L545.6,105.6ZM553.6,105.9L554.4,102.9L556.3,104.5ZM563.7,105.6L564.6,102.7L566.4,104.2ZM573.6,105.8L574.4,102.8L576.3,104.3ZM583.8,105.8L584.0,102.8L586.2,103.9ZM594.2,105.6L593.5,102.6L595.9,103.1ZM604.4,105.5L603.0,102.8L605.4,102.6ZM613.8,105.3L614.5,102.3L616.4,103.8ZM423.9,97.7L425.9,95.4L426.9,97.5ZM433.8,97.6L435.9,95.4L436.8,97.7ZM442.9,97.2L445.6,95.7L445.8,98.1ZM452.8,97.1L455.5,95.7L455.7,98.1ZM463.2,97.3L465.8,95.6L466.2,98.0ZM472.2,97.0L475.0,95.8L475.0,98.2ZM483.0,97.4L485.5,95.6L486.0,98.0ZM492.6,97.4L495.1,95.7L495.6,98.1ZM502.1,97.3L504.7,95.8L505.0,98.2ZM512.4,97.8L514.7,95.8L515.5,98.0ZM522.3,97.3L524.9,95.7L525.3,98.1ZM532.5,97.3L535.1,95.7L535.4,98.1ZM542.3,97.0L545.1,95.8L545.1,98.2ZM553.6,97.0L556.4,95.7L556.5,98.1ZM563.2,96.8L566.1,95.9L565.8,98.3ZM572.8,96.7L575.7,95.9L575.4,98.3ZM583.0,97.2L585.7,95.6L586.0,98.0ZM603.9,97.5L604.9,94.7L606.7,96.3ZM613.9,97.5L614.9,94.6L616.6,96.2ZM433.8,89.7L436.2,87.8L436.8,90.2ZM443.3,89.4L446.0,88.0L446.2,90.4ZM451.8,89.3L454.6,88.1L454.6,90.5ZM462.9,89.5L465.6,88.1L465.8,90.4ZM471.9,89.4L474.6,88.1L474.7,90.5ZM481.8,89.4L484.6,88.1L484.7,90.5ZM492.0,89.5L494.8,88.1L494.9,90.5ZM500.1,89.0L502.9,87.9L502.8,90.3ZM511.3,88.9L514.2,88.0L514.0,90.4ZM520.3,88.0L523.3,87.5L522.7,89.8ZM531.3,88.4L534.3,87.9L533.7,90.2ZM540.6,87.5L543.6,87.4L542.8,89.6ZM551.7,88.2L554.7,88.0L553.9,90.3ZM561.3,87.1L564.3,87.4L563.2,89.5ZM572.6,87.2L575.4,88.3L573.8,90.0ZM592.9,89.4L595.6,88.0L595.7,90.4ZM603.1,89.7L605.5,87.8L606.1,90.1ZM622.6,89.9L624.9,87.9L625.7,90.1ZM453.6,81.6L456.4,80.4L456.3,82.8ZM463.2,81.8L465.9,80.4L466.1,82.8ZM472.7,81.6L475.5,80.4L475.4,82.8ZM482.4,81.5L485.3,80.4L485.2,82.8ZM491.7,81.7L494.4,80.4L494.5,82.8ZM500.9,81.2L503.8,80.2L503.6,82.6ZM510.9,80.8L513.9,80.2L513.4,82.5ZM520.6,81.3L523.5,80.3L523.3,82.7ZM530.4,80.2L533.4,79.8L532.8,82.1ZM541.0,80.8L544.0,80.2L543.5,82.5ZM550.6,80.2L553.6,79.8L553.0,82.1ZM561.7,80.6L564.7,80.3L564.0,82.6ZM572.0,80.4L575.1,80.3L574.2,82.5ZM592.5,81.5L595.4,80.4L595.3,82.8ZM602.6,81.9L605.2,80.3L605.5,82.7ZM463.7,74.2L466.3,72.6L466.6,75.0ZM473.4,74.1L476.0,72.7L476.3,75.1ZM482.8,74.1L485.5,72.7L485.6,75.1ZM491.8,74.0L494.6,72.7L494.7,75.1ZM501.7,73.9L504.5,72.7L504.5,75.1ZM511.6,73.8L514.5,72.7L514.4,75.1ZM520.4,73.8L523.3,72.7L523.2,75.1ZM531.7,73.7L534.6,72.7L534.4,75.1ZM541.0,73.5L544.0,72.6L543.7,75.0ZM551.5,73.6L554.4,72.7L554.2,75.1ZM561.9,73.4L564.8,72.7L564.5,75.1ZM572.7,73.8L575.6,72.8L575.4,75.2ZM602.3,74.2L604.9,72.7L605.2,75.1ZM612.1,74.5L614.5,72.8L615.0,75.1ZM631.7,74.9L634.0,72.9L634.7,75.2ZM473.6,66.5L476.3,65.0L476.6,67.3ZM483.3,66.5L485.9,65.0L486.1,67.4ZM492.9,66.4L495.7,65.1L495.8,67.4ZM502.6,66.3L505.4,65.1L505.5,67.5ZM512.7,66.3L515.5,65.1L515.5,67.5ZM522.5,66.2L525.4,65.1L525.3,67.5ZM532.4,66.2L535.2,65.1L535.1,67.5ZM542.2,66.1L545.0,65.0L544.9,67.4ZM552.4,66.1L555.2,65.1L555.1,67.5ZM562.4,66.1L565.3,65.1L565.1,67.5ZM572.6,66.1L575.4,65.1L575.3,67.5ZM582.3,66.2L585.2,65.1L585.1,67.5ZM602.1,66.6L604.7,65.1L605.1,67.4ZM611.6,67.1L614.1,65.2L614.7,67.6ZM621.6,67.3L623.9,65.3L624.6,67.6ZM483.5,58.8L486.2,57.3L486.4,59.7ZM493.3,58.8L496.0,57.3L496.2,59.7ZM503.1,58.7L505.8,57.4L505.9,59.8ZM513.1,58.6L515.9,57.4L516.0,59.8ZM523.1,58.6L525.9,57.4L525.9,59.8ZM532.8,58.6L535.6,57.4L535.6,59.8ZM542.6,58.5L545.5,57.4L545.4,59.8ZM552.6,58.5L555.4,57.4L555.4,59.8ZM562.7,58.5L565.5,57.4L565.4,59.8ZM572.7,58.6L575.5,57.4L575.4,59.8ZM582.4,58.6L585.2,57.4L585.3,59.8ZM592.3,58.7L595.0,57.4L595.1,59.8ZM602.1,59.0L604.7,57.4L605.1,59.8ZM611.3,59.7L613.6,57.8L614.3,60.0ZM621.2,59.9L623.4,57.8L624.2,60.1ZM630.9,59.8L633.2,57.8L634.0,60.1ZM640.7,59.9L643.0,57.9L643.8,60.2ZM474.0,51.2L476.6,49.6L476.9,52.0ZM483.6,51.2L486.3,49.6L486.6,52.0ZM493.6,51.1L496.3,49.6L496.5,52.0ZM503.5,51.1L506.2,49.7L506.4,52.0ZM513.3,51.0L516.0,49.7L516.2,52.1ZM523.7,50.9L526.5,49.7L526.5,52.1ZM533.6,50.9L536.4,49.7L536.4,52.1ZM553.0,50.9L555.8,49.7L555.8,52.1ZM563.2,50.9L565.9,49.7L566.0,52.1ZM573.0,50.9L575.8,49.7L575.8,52.1ZM582.8,51.0L585.5,49.7L585.6,52.1ZM592.7,51.1L595.4,49.7L595.6,52.1ZM630.8,52.2L633.1,50.2L633.9,52.5ZM640.8,52.3L643.0,50.3L643.8,52.5ZM493.7,43.5L496.3,42.0L496.6,44.4ZM503.6,43.4L506.2,42.0L506.5,44.4ZM513.5,43.4L516.2,42.0L516.3,44.4ZM523.6,43.3L526.3,42.0L526.4,44.4ZM533.5,43.3L536.2,42.0L536.3,44.4ZM563.7,43.3L566.4,42.0L566.5,44.4ZM573.5,43.3L576.3,42.0L576.4,44.4ZM583.1,43.4L585.8,42.0L586.0,44.4ZM593.4,43.4L596.1,42.0L596.2,44.4ZM630.8,44.6L633.1,42.6L633.9,44.9ZM640.5,44.7L642.8,42.7L643.6,45.0ZM650.4,44.8L652.7,42.7L653.5,45.0ZM513.6,35.7L516.3,34.3L516.5,36.7ZM523.5,35.7L526.3,34.3L526.4,36.7ZM533.5,35.7L536.2,34.3L536.3,36.7ZM543.4,35.7L546.1,34.3L546.2,36.7ZM573.4,35.7L576.1,34.3L576.2,36.7ZM583.3,35.7L585.9,34.3L586.1,36.7ZM593.5,35.7L596.2,34.3L596.4,36.7ZM631.3,36.7L633.7,34.8L634.4,37.1ZM640.7,37.0L643.0,35.0L643.7,37.3ZM650.6,37.1L652.9,35.0L653.7,37.3Z" fill="#000"/>
</g>
<line x1="452.80" y1="33.30" x2="668.60" y2="33.30" stroke="#8a8a8a" stroke-width="1" />
<line x1="382.40" y1="128.30" x2="600.20" y2="128.30" stroke="#a8a8a8" stroke-width="1.2" />
<line x1="456.80" y1="33.30" x2="387.40" y2="128.30" stroke="#222" stroke-width="1.1" />
<line x1="668.60" y1="33.30" x2="599.20" y2="128.30" stroke="#999" stroke-width="0.8" />
<line x1="668.60" y1="33.30" x2="670.50" y2="30.20" stroke="#777" stroke-width="0.8" />
<path d="M424.2,128.8 L424.2,266.1 L632.6,266.1 L632.6,84.1" fill="none" stroke="#888" stroke-width="1" />
<line x1="453.30" y1="33.30" x2="456.80" y2="33.30" stroke="#999" stroke-width="0.9" />
<text x="447.5" y="37.2" font-size="11" text-anchor="end" fill="#000" font-weight="normal" >20° N</text>
<line x1="435.95" y1="57.05" x2="439.45" y2="57.05" stroke="#999" stroke-width="0.9" />
<text x="430.1" y="60.9" font-size="11" text-anchor="end" fill="#000" font-weight="normal" >10° N</text>
<line x1="418.60" y1="80.80" x2="422.10" y2="80.80" stroke="#999" stroke-width="0.9" />
<text x="412.8" y="84.7" font-size="11" text-anchor="end" fill="#000" font-weight="normal" >0°</text>
<line x1="401.25" y1="104.55" x2="404.75" y2="104.55" stroke="#999" stroke-width="0.9" />
<text x="395.4" y="108.5" font-size="11" text-anchor="end" fill="#000" font-weight="normal" >10° S</text>
<line x1="383.90" y1="128.30" x2="387.40" y2="128.30" stroke="#999" stroke-width="0.9" />
<text x="378.1" y="132.2" font-size="11" text-anchor="end" fill="#000" font-weight="normal" >20° S</text>
<line x1="519.09" y1="33.30" x2="521.69" y2="30.50" stroke="#777" stroke-width="0.8" />
<text x="521.7" y="24.3" font-size="11" text-anchor="middle" fill="#000" font-weight="normal" >60° E</text>
<line x1="593.85" y1="33.30" x2="596.45" y2="30.50" stroke="#777" stroke-width="0.8" />
<text x="596.4" y="24.3" font-size="11" text-anchor="middle" fill="#000" font-weight="normal" >90° E</text>
<line x1="485.43" y1="266.10" x2="485.43" y2="271.60" stroke="#666" stroke-width="0.9" />
<text x="485.4" y="284.5" font-size="11" text-anchor="middle" fill="#000" font-weight="normal" >60° E</text>
<line x1="558.96" y1="266.10" x2="558.96" y2="271.60" stroke="#666" stroke-width="0.9" />
<text x="559.0" y="284.5" font-size="11" text-anchor="middle" fill="#000" font-weight="normal" >90° E</text>
<line x1="632.60" y1="266.10" x2="632.60" y2="271.60" stroke="#666" stroke-width="0.9" />
<text x="632.6" y="284.5" font-size="11" text-anchor="middle" fill="#000" font-weight="normal" >120° E</text>
<line x1="418.20" y1="169.89" x2="424.20" y2="169.89" stroke="#888" stroke-width="0.9" />
<text x="413.7" y="173.8" font-size="11" text-anchor="end" fill="#000" font-weight="normal" >40 m</text>
<line x1="418.20" y1="200.46" x2="424.20" y2="200.46" stroke="#888" stroke-width="0.9" />
<text x="413.7" y="204.4" font-size="11" text-anchor="end" fill="#000" font-weight="normal" >80 m</text>
<line x1="418.20" y1="221.20" x2="424.20" y2="221.20" stroke="#888" stroke-width="0.9" />
<text x="413.7" y="225.1" font-size="11" text-anchor="end" fill="#000" font-weight="normal" >120 m</text>
<line x1="418.20" y1="237.04" x2="424.20" y2="237.04" stroke="#888" stroke-width="0.9" />
<text x="413.7" y="240.9" font-size="11" text-anchor="end" fill="#000" font-weight="normal" >160 m</text>
<line x1="418.20" y1="249.56" x2="424.20" y2="249.56" stroke="#888" stroke-width="0.9" />
<text x="413.7" y="253.5" font-size="11" text-anchor="end" fill="#000" font-weight="normal" >200 m</text>
<line x1="418.20" y1="259.59" x2="424.20" y2="259.59" stroke="#888" stroke-width="0.9" />
<text x="413.7" y="263.5" font-size="11" text-anchor="end" fill="#000" font-weight="normal" >240 m</text>
<text x="623.6" y="23.6" font-size="11" text-anchor="start" fill="#000" font-weight="normal" >0.005 N m<tspan dy="-5" font-size="8.5">−2</tspan></text>
<line x1="646.90" y1="28.80" x2="658.00" y2="28.80" stroke="#000" stroke-width="0.9" />
<path d="M661,28.8 l-4.8,-1.9 l0.9,1.9 l-0.9,1.9z" fill="#000"/>
<clipPath id="pge"><path d="M106.2,723.7 L317.9,723.7 L249.89999999999998,820.7 L38.2,820.7Z"/></clipPath>
<clipPath id="sce"><rect x="74.3" y="777.2" width="208.9" height="180.29999999999995"/></clipPath>
<g clip-path="url(#sce)">
<rect x="74.3" y="761.2" width="208.3" height="196.29999999999995" fill="#bebebe"/>
<rect x="89" y="761.2" width="148" height="196.29999999999995" fill="#fdb464"/>
<path d="M142.3,810.0 C148.5,805.5 174.3,803.3 181.0,810.0 C187.7,816.7 182.7,840.2 182.4,850.1 C182.1,860.0 180.5,864.0 179.2,869.4 C177.9,874.8 175.5,876.9 174.4,882.2 C173.3,887.6 173.1,895.1 172.8,901.5 C172.5,907.9 173.6,921.9 172.8,920.8 C172.0,919.7 168.8,903.0 168.0,895.0 C167.2,887.0 168.8,878.5 168.0,872.6 C167.2,866.7 165.5,863.5 163.1,859.8 C160.7,856.0 156.7,853.9 153.5,850.1 C150.3,846.4 145.8,844.0 143.9,837.3 C142.0,830.6 136.1,814.5 142.3,810.0Z" fill="#fde28f" stroke="#3a3a3a" stroke-width="0.4"/>
<path d="M89.0,917.6 C89.3,910.5 88.2,916.5 90.9,917.6 C93.6,918.7 99.7,923.5 105.3,924.0 C110.9,924.5 117.6,920.8 124.6,920.8 C131.6,920.8 140.1,924.0 147.1,924.0 C154.1,924.0 162.1,922.4 166.4,920.8 C170.7,919.2 171.2,921.2 172.8,914.4 C174.4,907.6 173.1,890.7 176.0,880.0 C178.9,869.3 187.3,861.7 190.0,850.0 C192.7,838.3 183.7,816.7 192.0,810.0 C200.3,803.3 232.0,785.0 240.0,810.0 C248.0,835.0 265.2,935.0 240.0,960.0 C214.8,985.0 114.2,967.1 89.0,960.0 C63.8,952.9 88.7,924.7 89.0,917.6Z" fill="#e9f5e8" stroke="#3a3a3a" stroke-width="0.4"/>
<path d="M167.0,925.0 C165.0,925.8 162.8,932.5 160.0,935.0 C157.2,937.5 154.2,939.0 150.0,940.0 C145.8,941.0 138.7,939.8 135.0,941.0 C131.3,942.2 128.0,945.2 128.0,947.0 C128.0,948.8 131.3,951.3 135.0,952.0 C138.7,952.7 145.3,952.5 150.0,951.0 C154.7,949.5 159.3,946.5 163.0,943.0 C166.7,939.5 171.3,933.0 172.0,930.0 C172.7,927.0 169.0,924.2 167.0,925.0Z" fill="#fde28f" stroke="#3a3a3a" stroke-width="0.4"/>
<path d="M190.0,958.0 C187.8,955.8 192.5,948.3 195.0,945.0 C197.5,941.7 201.8,939.3 205.0,938.0 C208.2,936.7 212.7,935.3 214.0,937.0 C215.3,938.7 214.0,944.5 213.0,948.0 C212.0,951.5 211.8,956.3 208.0,958.0 C204.2,959.7 192.2,960.2 190.0,958.0Z" fill="#fde28f" stroke="#3a3a3a" stroke-width="0.4"/>
<path d="M192.0,810.0 C200.3,802.2 232.0,790.5 240.0,810.0 C248.0,829.5 244.2,906.6 240.0,927.2 C235.8,947.8 222.5,932.0 214.5,933.6 C206.5,935.2 198.4,937.3 192.0,936.8 C185.6,936.3 180.3,933.6 176.0,930.4 C171.7,927.2 167.7,922.4 166.4,917.6 C165.1,912.8 166.4,907.9 168.0,901.5 C169.6,895.1 172.3,886.5 176.0,879.0 C179.7,871.5 187.7,868.0 190.4,856.5 C193.1,845.0 183.7,817.8 192.0,810.0Z" fill="#c3e3ef" stroke="#3a3a3a" stroke-width="0.4"/>
<path d="M201.7,810.0 C208.3,802.2 233.6,791.0 240.0,810.0 C246.4,829.0 244.2,904.2 240.0,924.0 C235.8,943.8 224.1,928.3 214.5,928.8 C204.9,929.3 189.3,929.6 182.4,927.2 C175.5,924.8 174.4,919.8 172.8,914.4 C171.2,909.0 171.2,901.3 172.8,895.1 C174.4,888.9 177.9,883.8 182.4,877.4 C186.9,871.0 196.9,867.7 200.1,856.5 C203.3,845.3 195.0,817.8 201.7,810.0Z" fill="#97c7e2" stroke="#3a3a3a" stroke-width="0.4"/>
<path d="M209.7,810.0 C215.3,802.8 234.9,791.3 240.0,810.0 C245.1,828.7 244.2,903.1 240.0,922.4 C235.8,941.7 223.0,925.6 214.5,925.6 C206.0,925.6 195.2,924.8 188.8,922.4 C182.4,920.0 178.1,916.2 176.0,911.1 C173.9,906.0 174.4,897.8 176.0,891.9 C177.6,886.0 180.5,882.2 185.6,875.8 C190.7,869.4 202.5,864.3 206.5,853.3 C210.5,842.3 204.1,817.2 209.7,810.0Z" fill="#6ea5d1" stroke="#3a3a3a" stroke-width="0.4"/>
<path d="M216.1,810.0 C220.9,803.0 236.0,791.5 240.0,810.0 C244.0,828.5 244.2,901.9 240.0,920.8 C235.8,939.7 222.5,923.6 214.5,923.3 C206.5,923.0 198.0,922.0 192.0,919.2 C186.0,916.4 180.8,911.4 178.6,906.3 C176.4,901.2 176.9,894.3 178.6,888.7 C180.3,883.1 183.4,878.8 188.8,872.6 C194.2,866.4 206.8,862.1 211.3,851.7 C215.9,841.3 211.3,817.0 216.1,810.0Z" fill="#4b7dbc" stroke="#3a3a3a" stroke-width="0.4"/>
<path d="M221.0,810.0 C225.8,803.3 236.8,791.8 240.0,810.0 C243.2,828.2 244.2,900.7 240.0,919.2 C235.8,937.7 222.5,921.6 214.5,920.8 C206.5,920.0 197.7,917.6 192.0,914.4 C186.3,911.2 182.3,906.1 180.2,901.5 C178.1,896.9 178.0,892.4 179.6,887.0 C181.2,881.6 184.5,875.5 189.8,869.4 C195.1,863.2 206.1,860.0 211.3,850.1 C216.5,840.2 216.2,816.7 221.0,810.0Z" fill="#3a4fa2" stroke="#3a3a3a" stroke-width="0.4"/>
<path d="M108.5,810.0 C111.0,804.2 120.4,805.0 123.0,810.0 C125.6,815.0 124.0,832.8 124.0,840.0 C124.0,847.2 121.2,851.6 123.0,853.3 C124.8,855.0 130.8,849.7 135.0,850.0 C139.2,850.3 144.2,852.5 148.0,855.0 C151.8,857.5 155.2,861.3 158.0,865.0 C160.8,868.7 163.3,872.0 165.0,877.0 C166.7,882.0 167.8,889.5 168.0,895.0 C168.2,900.5 167.3,906.2 166.0,910.0 C164.7,913.8 163.5,916.0 160.0,918.0 C156.5,920.0 150.8,922.0 145.0,922.0 C139.2,922.0 131.7,918.3 125.0,918.0 C118.3,917.7 110.5,920.5 105.0,920.0 C99.5,919.5 94.3,920.0 92.0,915.0 C89.7,910.0 90.5,897.5 91.0,890.0 C91.5,882.5 92.8,875.0 95.0,870.0 C97.2,865.0 101.8,864.2 104.0,860.0 C106.2,855.8 107.2,853.3 108.0,845.0 C108.8,836.7 106.0,815.8 108.5,810.0Z" fill="#f7884d" stroke="#3a3a3a" stroke-width="0.4"/>
<path d="M115.0,859.8 C119.0,857.1 128.3,853.3 134.2,853.3 C140.1,853.3 145.8,856.6 150.3,859.8 C154.9,863.0 158.8,867.2 161.5,872.6 C164.2,878.0 166.1,886.0 166.4,891.9 C166.7,897.8 166.3,904.4 163.1,907.9 C159.9,911.4 153.0,912.2 147.1,912.7 C141.2,913.2 134.2,910.8 127.8,911.1 C121.4,911.4 114.1,914.4 108.5,914.4 C102.9,914.4 96.8,915.4 94.1,911.1 C91.4,906.8 91.2,894.1 92.5,888.7 C93.8,883.4 99.2,882.2 102.1,879.0 C105.0,875.8 107.9,872.6 110.1,869.4 C112.2,866.2 111.0,862.5 115.0,859.8Z" fill="#e9593b" stroke="#3a3a3a" stroke-width="0.4"/>
<path d="M110.1,882.2 C113.6,879.5 122.2,877.4 127.8,875.8 C133.4,874.2 139.3,872.1 143.9,872.6 C148.5,873.1 152.4,875.8 155.1,879.0 C157.8,882.2 159.6,887.6 159.9,891.9 C160.2,896.2 159.9,902.0 156.7,904.7 C153.5,907.4 146.6,907.6 140.7,907.9 C134.8,908.2 126.5,907.4 121.4,906.3 C116.3,905.2 112.5,903.9 110.1,901.5 C107.7,899.1 106.9,895.1 106.9,891.9 C106.9,888.7 106.6,884.9 110.1,882.2Z" fill="#d13027" stroke="#3a3a3a" stroke-width="0.4"/>
<path d="M115.0,894.0 C115.6,893.2 117.4,892.2 118.0,893.0 C118.6,893.8 118.8,897.6 118.5,899.0 C118.2,900.4 116.7,901.7 116.0,901.5 C115.3,901.3 114.7,899.2 114.5,898.0 C114.3,896.8 114.4,894.8 115.0,894.0Z" fill="#a60226" stroke="#3a3a3a" stroke-width="0.4"/>
<path d="M137.0,886.0 C138.2,884.6 141.1,883.5 143.0,883.8 C144.9,884.1 147.6,886.0 148.5,888.0 C149.4,890.0 149.4,894.0 148.7,896.0 C147.9,898.0 145.9,899.7 144.0,900.0 C142.1,900.3 138.4,899.3 137.0,898.0 C135.6,896.7 135.8,894.0 135.8,892.0 C135.8,890.0 135.8,887.4 137.0,886.0Z" fill="#a60226" stroke="#3a3a3a" stroke-width="0.4"/>
<path d="M92.5,893.0 C93.1,891.1 94.9,891.1 96.0,891.9 C97.1,892.7 98.7,895.9 98.9,898.0 C99.1,900.1 98.1,903.9 97.0,904.7 C95.9,905.5 93.2,905.0 92.5,903.0 C91.8,901.0 91.9,894.9 92.5,893.0Z" fill="#d13027" stroke="#3a3a3a" stroke-width="0.4"/>
<rect x="74.3" y="761.2" width="15.0" height="106.59999999999991" fill="#bebebe"/>
<rect x="74.3" y="867.8" width="17.5" height="90.70000000000005" fill="#bebebe"/>
<rect x="236.4" y="761.2" width="46.20000000000002" height="197.29999999999995" fill="#bebebe"/>
<rect x="234" y="872.5" width="48.60000000000002" height="86.0" fill="#bebebe"/>
<rect x="245.5" y="761.2" width="9" height="93.79999999999995" fill="#e9f5e8"/>
<rect x="252" y="761.2" width="4.5" height="91.79999999999995" fill="#c3e3ef"/>
<path d="M245.5,855.0 C246.2,850.8 248.5,851.8 250.0,853.0 C251.5,854.2 253.9,857.8 254.7,862.0 C255.5,866.2 256.2,875.3 254.7,878.0 C253.2,880.7 247.0,881.8 245.5,878.0 C244.0,874.2 244.8,859.2 245.5,855.0Z" fill="#fde28f" stroke="#3a3a3a" stroke-width="0.4"/>
<path d="M245.5,862.0 C246.1,859.2 247.9,859.0 249.0,860.0 C250.1,861.0 251.7,865.2 252.0,868.0 C252.3,870.8 252.1,875.5 251.0,877.0 C249.9,878.5 246.4,879.5 245.5,877.0 C244.6,874.5 244.9,864.8 245.5,862.0Z" fill="#e9593b" stroke="#3a3a3a" stroke-width="0.4"/>
<path d="M275.5,775.0 L283.0,775.0 L283.0,958.0 L279.0,958.0 L278.5,900.0 L277.5,840.0 L276.0,790.0Z" fill="#c3e3ef" stroke="#3a3a3a" stroke-width="0.3"/>
<path d="M277.5,800.0 L283.0,798.0 L283.0,958.0 L280.0,958.0 L279.0,900.0 L278.2,840.0Z" fill="#97c7e2" stroke="#3a3a3a" stroke-width="0.3"/>
<path d="M279.3,855.0 L283.0,852.0 L283.0,958.0 L280.6,958.0 L279.8,900.0Z" fill="#4b7dbc" stroke="#3a3a3a" stroke-width="0.3"/>
<path d="M280.5,875.0 L283.0,872.0 L283.0,958.0 L281.5,958.0 L280.8,910.0Z" fill="#3a4fa2" stroke="#3a3a3a" stroke-width="0.3"/>
</g>
<g clip-path="url(#pge)">
<path d="M106.2,723.7 L317.9,723.7 L249.9,820.7 L38.2,820.7Z" fill="#fdb464" />
<path d="M195.0,720.0 C218.0,716.7 312.5,706.7 330.0,720.0 C347.5,733.3 315.0,782.7 300.0,800.0 C285.0,817.3 260.8,820.0 240.0,824.0 C219.2,828.0 186.7,829.7 175.0,824.0 C163.3,818.3 168.3,800.7 170.0,790.0 C171.7,779.3 181.3,768.3 185.0,760.0 C188.7,751.7 190.3,746.7 192.0,740.0 C193.7,733.3 172.0,723.3 195.0,720.0Z" fill="#e9f5e8"/>
<path d="M203.5,745.0 C207.0,742.5 217.8,741.2 225.0,740.0 C232.2,738.8 243.2,735.8 247.0,737.5 C250.8,739.2 250.0,746.8 248.0,750.0 C246.0,753.2 240.5,755.7 235.0,757.0 C229.5,758.3 220.2,758.3 215.0,758.0 C209.8,757.7 205.9,757.2 204.0,755.0 C202.1,752.8 200.0,747.5 203.5,745.0Z" fill="#fde28f"/>
<path d="M269.0,745.0 C272.3,741.5 283.8,740.9 290.0,740.0 C296.2,739.1 304.3,737.7 306.0,739.7 C307.7,741.7 303.5,748.6 300.0,752.0 C296.5,755.4 290.0,758.5 285.0,760.0 C280.0,761.5 272.7,763.5 270.0,761.0 C267.3,758.5 265.7,748.5 269.0,745.0Z" fill="#fdb464"/>
<path d="M300.0,720.0 C303.3,717.8 322.0,717.5 325.0,720.0 C328.0,722.5 321.3,732.8 318.0,735.0 C314.7,737.2 308.0,735.5 305.0,733.0 C302.0,730.5 296.7,722.2 300.0,720.0Z" fill="#c3e3ef"/>
<path d="M150.0,756.0 C154.2,754.3 167.5,754.7 175.0,755.0 C182.5,755.3 188.3,757.2 195.0,758.0 C201.7,758.8 208.8,759.2 215.0,760.0 C221.2,760.8 229.2,761.3 232.0,763.0 C234.8,764.7 237.3,769.5 232.0,770.0 C226.7,770.5 209.5,766.8 200.0,766.0 C190.5,765.2 183.3,765.2 175.0,765.0 C166.7,764.8 154.2,766.5 150.0,765.0 C145.8,763.5 145.8,757.7 150.0,756.0Z" fill="#fde28f"/>
<path d="M100.0,784.0 C100.8,781.2 107.0,774.5 110.0,770.0 C113.0,765.5 114.7,760.7 118.0,757.0 C121.3,753.3 125.5,750.8 130.0,748.0 C134.5,745.2 139.2,742.3 145.0,740.0 C150.8,737.7 158.3,735.5 165.0,734.0 C171.7,732.5 179.8,731.2 185.0,731.0 C190.2,730.8 194.3,729.5 196.0,733.0 C197.7,736.5 196.8,748.2 195.0,752.0 C193.2,755.8 190.0,755.2 185.0,756.0 C180.0,756.8 170.8,756.7 165.0,757.0 C159.2,757.3 154.5,757.2 150.0,758.0 C145.5,758.8 140.8,760.0 138.0,762.0 C135.2,764.0 134.7,767.3 133.0,770.0 C131.3,772.7 130.5,775.7 128.0,778.0 C125.5,780.3 121.8,782.5 118.0,784.0 C114.2,785.5 108.0,787.0 105.0,787.0 C102.0,787.0 99.2,786.8 100.0,784.0Z" fill="#f7884d"/>
<path d="M161.0,723.0 C164.0,721.4 183.8,721.6 188.0,723.0 C192.2,724.4 189.0,729.9 186.0,731.5 C183.0,733.1 174.2,733.9 170.0,732.5 C165.8,731.1 158.0,724.6 161.0,723.0Z" fill="#fde28f"/>
<path d="M178.0,721.0 C180.0,719.8 195.0,720.0 198.0,721.0 C201.0,722.0 198.0,725.8 196.0,727.0 C194.0,728.2 189.0,729.5 186.0,728.5 C183.0,727.5 176.0,722.2 178.0,721.0Z" fill="#e9f5e8"/>
<path d="M134.0,763.0 C136.7,760.1 144.0,761.5 150.0,761.5 C156.0,761.5 164.0,762.1 170.0,763.0 C176.0,763.9 182.7,764.7 186.0,767.0 C189.3,769.3 190.3,773.7 190.0,777.0 C189.7,780.3 188.2,785.2 184.0,787.0 C179.8,788.8 171.5,787.7 165.0,787.5 C158.5,787.3 150.2,787.4 145.0,786.0 C139.8,784.6 135.8,782.8 134.0,779.0 C132.2,775.2 131.3,765.9 134.0,763.0Z" fill="#fde28f"/>
<path d="M134.0,787.0 C139.5,784.7 152.0,786.0 160.0,786.0 C168.0,786.0 177.0,784.7 182.0,787.0 C187.0,789.3 189.2,793.8 190.0,800.0 C190.8,806.2 197.3,820.0 187.0,824.0 C176.7,828.0 138.0,828.0 128.0,824.0 C118.0,820.0 126.0,806.2 127.0,800.0 C128.0,793.8 128.5,789.3 134.0,787.0Z" fill="#f7884d"/>
<path d="M142.0,788.0 C145.7,784.8 154.5,786.3 160.0,786.0 C165.5,785.7 171.3,783.7 175.0,786.0 C178.7,788.3 181.5,795.2 182.0,800.0 C182.5,804.8 180.8,811.3 178.0,815.0 C175.2,818.7 170.5,821.2 165.0,822.0 C159.5,822.8 149.5,822.8 145.0,820.0 C140.5,817.2 138.5,810.3 138.0,805.0 C137.5,799.7 138.3,791.2 142.0,788.0Z" fill="#e9593b"/>
<path d="M150.0,795.0 C152.5,792.5 161.7,791.3 165.0,793.0 C168.3,794.7 170.8,801.8 170.0,805.0 C169.2,808.2 163.3,811.5 160.0,812.0 C156.7,812.5 151.7,810.8 150.0,808.0 C148.3,805.2 147.5,797.5 150.0,795.0Z" fill="#d13027"/>
<path d="M98.4,780.0 C97.6,778.0 102.2,772.0 105.0,768.0 C107.8,764.0 111.7,759.2 115.0,756.0 C118.3,752.8 121.9,750.7 125.0,749.0 C128.1,747.3 130.7,746.6 133.4,746.0 C136.1,745.4 139.2,744.8 141.0,745.5 C142.8,746.2 145.0,747.9 144.0,750.0 C143.0,752.1 137.7,755.0 135.0,758.0 C132.3,761.0 130.2,765.0 128.0,768.0 C125.8,771.0 125.0,774.0 122.0,776.0 C119.0,778.0 113.9,779.3 110.0,780.0 C106.1,780.7 99.2,782.0 98.4,780.0Z" fill="#e9593b"/>
<path d="M114.6,763.0 C115.1,762.1 117.0,761.7 118.0,762.0 C119.0,762.3 120.2,764.0 120.4,765.0 C120.6,766.0 119.9,767.6 119.0,768.0 C118.1,768.4 115.7,768.3 115.0,767.5 C114.3,766.7 114.1,763.9 114.6,763.0Z" fill="#d13027"/>
<path d="M113.0,744.8 C113.0,744.1 116.6,742.7 120.0,742.0 C123.4,741.3 131.2,740.1 133.4,740.4 C135.6,740.7 135.2,743.1 133.0,744.0 C130.8,744.9 123.3,745.9 120.0,746.0 C116.7,746.1 113.0,745.5 113.0,744.8Z" fill="#c3e3ef"/>
<path d="M69.0,803.0 C68.2,800.3 72.3,793.8 75.0,790.0 C77.7,786.2 82.2,780.8 85.0,780.0 C87.8,779.2 91.2,781.7 92.0,785.0 C92.8,788.3 92.0,796.5 90.0,800.0 C88.0,803.5 83.5,805.5 80.0,806.0 C76.5,806.5 69.8,805.7 69.0,803.0Z" fill="#fde28f"/>
<path d="M45.0,824.0 C36.7,822.0 56.3,814.7 63.0,812.0 C69.7,809.3 78.8,808.7 85.0,808.0 C91.2,807.3 95.8,806.8 100.0,808.0 C104.2,809.2 107.8,812.3 110.0,815.0 C112.2,817.7 123.8,822.5 113.0,824.0 C102.2,825.5 53.3,826.0 45.0,824.0Z" fill="#e9f5e8"/>
<path d="M186.0,762.0 C189.3,760.7 192.3,761.8 200.0,762.0 C207.7,762.2 224.5,761.7 232.0,763.0 C239.5,764.3 239.5,767.2 245.0,770.0 C250.5,772.8 260.8,775.0 265.0,780.0 C269.2,785.0 272.5,794.2 270.0,800.0 C267.5,805.8 261.7,812.3 250.0,815.0 C238.3,817.7 210.7,816.5 200.0,816.0 C189.3,815.5 188.7,814.7 186.0,812.0 C183.3,809.3 186.0,803.7 184.0,800.0 C182.0,796.3 176.0,793.7 174.0,790.0 C172.0,786.3 171.0,781.3 172.0,778.0 C173.0,774.7 177.7,772.7 180.0,770.0 C182.3,767.3 182.7,763.3 186.0,762.0Z" fill="#c3e3ef"/>
<path d="M186.0,765.0 C189.3,763.7 192.0,764.0 200.0,764.0 C208.0,764.0 227.3,762.3 234.0,765.0 C240.7,767.7 237.3,775.8 240.0,780.0 C242.7,784.2 250.8,786.3 250.0,790.0 C249.2,793.7 243.3,799.3 235.0,802.0 C226.7,804.7 208.2,806.0 200.0,806.0 C191.8,806.0 189.8,805.0 186.0,802.0 C182.2,799.0 178.0,793.0 177.0,788.0 C176.0,783.0 178.5,775.8 180.0,772.0 C181.5,768.2 182.7,766.3 186.0,765.0Z" fill="#97c7e2"/>
<path d="M188.0,766.0 C190.8,764.8 192.2,765.0 200.0,765.0 C207.8,765.0 228.8,761.8 235.0,766.0 C241.2,770.2 238.7,784.7 237.0,790.0 C235.3,795.3 231.2,796.3 225.0,798.0 C218.8,799.7 206.2,800.5 200.0,800.0 C193.8,799.5 191.2,797.5 188.0,795.0 C184.8,792.5 181.8,788.8 181.0,785.0 C180.2,781.2 181.8,775.2 183.0,772.0 C184.2,768.8 185.2,767.2 188.0,766.0Z" fill="#6ea5d1"/>
<path d="M194.0,766.0 C197.5,764.2 203.0,765.3 210.0,765.5 C217.0,765.7 231.2,762.6 236.0,767.0 C240.8,771.4 241.2,787.2 238.5,792.0 C235.8,796.8 226.4,795.2 220.0,795.5 C213.6,795.8 205.0,795.6 200.0,794.0 C195.0,792.4 191.8,789.0 190.0,786.0 C188.2,783.0 188.3,779.3 189.0,776.0 C189.7,772.7 190.5,767.8 194.0,766.0Z" fill="#4b7dbc"/>
<path d="M204.0,770.0 C207.2,768.9 213.0,769.4 218.0,769.5 C223.0,769.6 231.1,767.1 234.1,770.5 C237.1,773.9 238.3,786.4 236.0,790.0 C233.7,793.6 225.2,792.3 220.0,792.3 C214.8,792.3 208.7,791.5 205.0,790.0 C201.3,788.5 199.0,785.3 198.0,783.0 C197.0,780.7 198.0,778.2 199.0,776.0 C200.0,773.8 200.8,771.1 204.0,770.0Z" fill="#3a4fa2"/>
<path d="M175.0,794.4 C178.0,790.4 186.2,797.1 188.0,800.0 C189.8,802.9 187.3,808.0 186.0,812.0 C184.7,816.0 182.7,822.0 180.0,824.0 C177.3,826.0 170.8,828.9 170.0,824.0 C169.2,819.1 172.0,798.4 175.0,794.4Z" fill="#f7884d"/>
<path d="M106.2,723.7 L112.7,723.7 L113.2,730.3 L113.2,737.4 L113.7,741.9 L112.9,744.4 L120.2,743.9 L127.2,742.9 L134.1,741.6 L131.2,746.4 L128.2,747.9 L123.2,753.2 L118.2,758.0 L114.4,762.8 L108.2,768.0 L100.2,771.7 L92.2,774.0 L83.4,777.3 L77.2,781.6 L74.6,784.6 L71.2,789.6 L70.2,793.4 L67.7,798.6 L66.6,803.0 L60.2,808.7 L54.2,814.0 L48.2,817.2 L44.0,819.1 L38.2,820.7Z" fill="#bebebe" stroke="#ffffff" stroke-width="0.9" stroke-linejoin="round"/>
<path d="M112.7,723.7 L162.0,723.7 L157.6,726.8 L150.2,730.3 L143.6,734.2 L135.2,737.4 L127.2,739.4 L118.8,740.8 L115.2,741.9 L113.7,741.9 L113.2,737.4 L113.2,730.3Z" fill="#bebebe" stroke="#ffffff" stroke-width="0.9" stroke-linejoin="round"/>
<path d="M61.5,820.7 L64.4,812.5 L70.2,809.7 L77.5,806.7 L82.2,803.7 L86.3,801.5 L88.5,803.0 L85.2,806.7 L81.9,811.0 L77.2,815.7 L74.6,820.7Z" fill="#bebebe" stroke="#ffffff" stroke-width="0.9" stroke-linejoin="round"/>
<path d="M197.9,723.7 L196.1,728.3 L194.7,733.4 L192.1,741.4 L190.3,748.1 L190.6,753.4 L191.6,752.6 L195.1,749.4 L199.1,745.4 L204.1,739.4 L209.3,735.0 L214.1,730.8 L218.1,728.3 L225.1,725.3 L231.1,723.7Z" fill="#bebebe" stroke="#ffffff" stroke-width="0.9" stroke-linejoin="round"/>
<path d="M196.6,749.4 L199.1,747.9 L201.6,750.4 L201.9,754.4 L199.6,757.3 L196.9,755.4Z" fill="#bebebe" stroke="#ffffff" stroke-width="0.9" stroke-linejoin="round"/>
<path d="M249.9,723.7 L248.5,732.0 L252.1,734.3 L254.3,736.4 L249.9,743.8 L247.1,747.4 L245.0,752.4 L244.3,758.5 L244.2,763.5 L245.2,767.9 L246.5,767.9 L248.5,764.5 L249.0,758.5 L250.0,751.4 L253.0,745.4 L257.0,742.4 L261.5,742.3 L263.5,747.4 L265.0,749.6 L270.0,748.4 L273.2,746.7 L277.0,743.4 L280.5,739.4 L282.0,732.3 L282.0,726.1 L284.0,723.7Z" fill="#bebebe" stroke="#ffffff" stroke-width="0.9" stroke-linejoin="round"/>
<path d="M231.5,758.6 L234.6,758.5 L237.3,759.2 L240.0,764.5 L242.4,769.7 L244.8,774.5 L244.8,778.0 L242.0,782.6 L239.0,786.6 L237.2,787.3 L235.0,783.6 L234.3,780.3 L233.0,774.5 L232.6,769.7 L231.6,763.5Z" fill="#bebebe" stroke="#ffffff" stroke-width="0.9" stroke-linejoin="round"/>
<path d="M237.2,786.7 L241.0,786.8 L245.0,787.1 L250.0,787.8 L253.5,788.6 L256.5,790.6 L254.0,792.4 L248.0,792.1 L243.0,792.1 L238.5,791.1Z" fill="#bebebe" stroke="#ffffff" stroke-width="0.9" stroke-linejoin="round"/>
<path d="M255.3,769.1 L257.5,767.5 L259.4,766.8 L264.0,765.5 L268.7,764.4 L274.0,762.0 L280.4,758.6 L284.0,757.0 L287.4,756.3 L289.7,758.0 L287.5,760.5 L285.0,762.7 L283.0,766.5 L280.4,770.9 L277.0,773.5 L273.4,775.5 L269.0,778.6 L265.2,781.5 L261.7,780.3 L258.0,779.6 L255.9,778.6 L255.0,773.5Z" fill="#bebebe" stroke="#ffffff" stroke-width="0.9" stroke-linejoin="round"/>
<path d="M300.0,723.7 L306.0,723.7 L303.0,727.3 L299.0,728.3Z" fill="#bebebe" stroke="#ffffff" stroke-width="0.9" stroke-linejoin="round"/>
<path d="M111.2,723.7 L118.7,723.7 L117.7,730.3 L116.7,736.4 L115.0,740.9 L113.7,741.2 L112.5,736.4 L111.7,730.3Z" fill="#ffffff" />
<path d="M46.3,818.4L46.2,819.1L46.0,819.8M55.7,818.5L55.8,819.7M76.0,818.2L75.9,819.1L75.7,820.0M85.7,817.9L85.7,818.0L85.7,819.0L85.7,820.0L85.7,820.2M94.7,817.7L94.9,818.2L95.3,819.1L95.6,820.0L95.8,820.6M104.7,817.6L104.9,818.1L105.3,819.1L105.5,820.0L105.7,820.6M115.6,817.2L115.6,818.0L115.5,819.0L115.5,820.0L115.4,820.9M125.3,816.3L125.3,817.0L125.4,818.0L125.4,819.0L125.4,820.0L125.4,821.0L125.4,821.8M134.2,815.4L134.4,816.2L134.7,817.1L135.0,818.1L135.2,819.1L135.4,820.0L135.5,821.0L135.6,822.0L135.7,822.9M145.4,816.1L145.4,817.0L145.4,818.0L145.3,819.0L145.3,820.0L145.3,821.0L145.2,822.1M155.5,816.1L155.4,817.1L155.4,818.1L155.3,819.1L155.2,820.0L155.2,821.0L155.0,822.0M164.6,815.5L164.7,816.1L164.9,817.1L165.0,818.1L165.1,819.0L165.2,820.0L165.2,821.0L165.3,822.0L165.2,822.7M175.5,816.6L175.5,817.1L175.4,818.1L175.3,819.1L175.1,820.0L175.0,821.0L174.9,821.5M185.4,817.2L185.4,818.1L185.2,819.1L185.1,820.0L184.9,820.9M195.4,817.7L195.4,818.1L195.2,819.1L195.0,820.0L194.9,820.5M205.6,818.5L205.3,819.1L205.0,819.8M215.4,818.7L215.0,819.6M85.7,810.1L85.7,810.2L85.7,811.2L85.7,812.2L85.7,812.3M94.6,809.8L94.8,810.4L95.2,811.3L95.6,812.2L95.9,812.8M104.6,809.7L104.8,810.3L105.2,811.3L105.5,812.2L105.8,812.9M115.5,809.4L115.5,810.2L115.5,811.2L115.5,812.2L115.5,813.0M125.4,808.3L125.4,809.2L125.4,810.2L125.4,811.2L125.4,812.2L125.5,813.2L125.5,814.1M134.6,806.7L134.6,807.3L134.7,808.3L134.8,809.3L134.9,810.3L135.1,811.2L135.4,812.2L135.6,813.2L135.9,814.1L136.2,815.1L136.4,815.6M145.3,807.8L145.3,808.2L145.3,809.2L145.3,810.2L145.3,811.2L145.3,812.2L145.3,813.2L145.3,814.2L145.3,814.7M155.6,807.9L155.6,808.2L155.5,809.2L155.4,810.2L155.3,811.2L155.2,812.2L155.2,813.2L155.1,814.2L155.1,814.6M164.9,806.9L164.9,807.2L164.9,808.2L164.9,809.2L165.0,810.2L165.1,811.2L165.2,812.2L165.3,813.2L165.5,814.2L165.7,815.2L165.8,815.6M175.6,808.5L175.5,809.2L175.4,810.2L175.2,811.2L175.1,812.2L175.0,813.2L175.0,814.0M184.8,808.5L184.8,809.2L184.9,810.2L185.0,811.2L185.1,812.2L185.2,813.2L185.2,813.9M194.7,808.9L194.7,809.2L194.8,810.2L194.9,811.2L195.0,812.2L195.1,813.2L195.1,813.6M205.4,810.6L205.0,811.9M213.9,809.6L214.2,810.3L214.5,811.3L214.9,812.2L215.2,813.0M244.4,810.9L244.6,811.6M65.5,802.6L65.6,803.4L65.8,804.2M75.7,802.6L75.7,803.4L75.7,804.2M95.5,802.1L95.5,802.4L95.5,803.4L95.6,804.4L95.6,804.7M104.2,801.8L104.6,802.6L105.0,803.5L105.5,804.4L106.0,805.2M115.7,801.8L115.6,802.4L115.5,803.4L115.5,804.4L115.5,805.0M126.1,801.0L126.0,801.4L125.8,802.4L125.6,803.4L125.4,804.4L125.3,805.4L125.2,805.8M135.3,799.0L135.2,799.4L135.2,800.4L135.2,801.4L135.2,802.4L135.3,803.4L135.4,804.4L135.5,805.4L135.6,806.4L135.6,807.4L135.7,807.8M145.4,799.2L145.4,799.4L145.3,800.4L145.2,801.4L145.2,802.4L145.3,803.4L145.3,804.4L145.3,805.4L145.4,806.4L145.4,807.4L145.4,807.6M156.2,800.1L156.1,800.5L155.8,801.4L155.6,802.4L155.4,803.4L155.3,804.4L155.1,805.4L154.9,806.3L154.9,806.8M165.5,797.3L165.5,797.4L165.2,798.4L165.0,799.4L165.0,800.4L165.0,801.4L165.0,802.4L165.1,803.4L165.2,804.4L165.3,805.4L165.4,806.4L165.4,807.4L165.4,808.4L165.4,809.4L165.4,809.6M176.1,800.8L175.9,801.5L175.6,802.4L175.4,803.4L175.1,804.4L174.9,805.3L174.8,806.0M185.2,801.0L185.2,801.4L185.2,802.4L185.2,803.4L185.1,804.4L185.0,805.4L184.9,805.8M195.8,802.6L195.4,803.5L195.1,804.3M205.3,803.0L205.1,803.8M76.4,794.7L76.1,795.6L75.8,796.5M86.4,794.6L86.4,794.7L86.0,795.6L85.7,796.5L85.6,796.6M96.3,794.5L96.3,794.7L95.9,795.6L95.6,796.5L95.6,796.7M106.0,794.3L106.0,794.6L105.7,795.6L105.6,796.5L105.5,796.8M115.1,794.1L115.3,794.6L115.4,795.5L115.5,796.5L115.5,797.0M126.7,793.9L126.3,794.7L125.8,795.6L125.4,796.5L125.1,797.5M136.7,792.8L136.4,793.7L136.0,794.6L135.7,795.6L135.4,796.5L135.1,797.5L134.9,798.5M145.9,792.0L145.9,792.6L145.8,793.6L145.7,794.6L145.5,795.6L145.3,796.5L145.1,797.5L144.9,798.5L144.8,799.1M157.3,793.1L157.3,793.1L156.7,793.9L156.2,794.8L155.7,795.6L155.3,796.5L154.8,797.4L154.4,798.3L154.4,798.4M167.2,792.9L167.1,793.0L166.6,793.9L166.1,794.8L165.6,795.6L165.2,796.5L164.8,797.4L164.4,798.4L164.4,798.5M177.2,793.9L176.9,794.1L176.3,794.9L175.7,795.7L175.1,796.5L174.6,797.4L174.4,797.7M186.8,794.7L186.1,794.9L185.4,795.6L185.1,796.5L185.0,797.2M196.8,796.8L196.0,796.7L195.2,796.6M216.4,798.4L216.2,798.1L215.5,797.3L214.9,796.5L214.6,796.2M225.8,797.8L225.1,796.8M77.0,787.0L76.9,787.1L76.3,787.9L75.7,788.7L75.6,788.9M86.9,786.9L86.8,787.0L86.2,787.9L85.7,788.7L85.6,788.9M97.1,787.0L96.9,787.2L96.3,787.9L95.6,788.7L95.4,789.0M107.1,786.8L106.8,787.1L106.2,787.9L105.6,788.7L105.3,789.1M116.6,786.7L116.4,786.9L115.8,787.8L115.5,788.7L115.4,789.0M128.3,786.8L127.9,787.0L127.1,787.5L126.2,788.1L125.4,788.7L124.6,789.3L124.3,789.6M138.1,786.0L137.5,786.6L136.8,787.3L136.1,788.0L135.4,788.7L134.7,789.4L134.2,790.1M148.0,785.1L147.5,785.4L146.8,786.1L146.1,786.9L145.6,787.8L145.3,788.7L145.0,789.7L144.9,790.6L144.8,791.3M159.3,786.5L158.8,786.8L157.9,787.2L157.0,787.7L156.1,788.2L155.3,788.7L154.4,789.3L153.6,789.9L153.2,790.3M168.3,785.2L167.8,785.7L167.1,786.4L166.4,787.1L165.8,787.9L165.2,788.7L164.6,789.5L164.0,790.3L163.5,790.8M178.6,786.9L177.6,787.1L176.7,787.5L175.9,788.0L175.1,788.7L174.4,789.4L173.9,790.2M188.0,791.8L187.8,791.6L187.2,790.8L186.6,790.0L185.9,789.3L185.1,788.7L184.3,788.1L183.4,787.6L183.1,787.5M198.3,792.0L197.8,791.6L197.1,790.9L196.4,790.2L195.7,789.4L195.0,788.7L194.3,788.0L193.7,787.2L193.2,786.8M207.2,793.6L207.0,793.3L206.6,792.3L206.2,791.4L205.8,790.5L205.4,789.6L205.0,788.7L204.5,787.8L204.0,787.0L203.5,786.1L203.3,785.8M217.1,793.7L216.9,793.3L216.5,792.4L216.1,791.5L215.7,790.5L215.3,789.6L214.9,788.7L214.5,787.8L214.1,786.9L213.7,786.0L213.4,785.5M225.9,794.0L225.8,793.6L225.6,792.6L225.4,791.6L225.2,790.7L225.1,789.7L224.8,788.7L224.6,787.7L224.4,786.8L224.1,785.8L224.0,785.3M236.2,792.2L235.9,791.5L235.5,790.6L235.1,789.6L234.8,788.7L234.4,787.8L234.1,787.0M265.9,788.6L265.3,788.6M87.7,779.3L87.2,779.6L86.5,780.2L85.7,780.9L85.2,781.2M97.7,779.4L97.3,779.7L96.4,780.3L95.6,780.9L95.1,781.2M108.5,779.5L108.3,779.6L107.4,780.0L106.5,780.4L105.6,780.9L104.7,781.3L104.4,781.4M118.8,779.4L118.2,779.6L117.3,780.0L116.4,780.4L115.5,780.9L114.6,781.3L114.0,781.6M130.3,779.3L130.2,779.3L129.3,779.6L128.3,780.0L127.4,780.3L126.4,780.6L125.4,780.9L124.5,781.2L123.5,781.5L122.6,781.7L122.4,781.8M140.1,779.5L139.2,779.7L138.2,780.0L137.3,780.3L136.3,780.5L135.4,780.9L134.4,781.2L133.5,781.5L132.6,781.9M150.6,779.4L150.1,779.5L149.2,779.8L148.2,780.0L147.2,780.3L146.3,780.6L145.3,780.9L144.4,781.2L143.4,781.5L142.5,781.8L142.1,782.0M162.8,779.4L162.1,779.5L161.2,779.7L160.2,779.9L159.2,780.1L158.2,780.3L157.2,780.5L156.3,780.7L155.3,780.9L154.3,781.0L153.3,781.2L152.3,781.4L151.3,781.6L150.4,781.8L149.7,782.0M170.7,780.0L170.1,780.0L169.1,780.2L168.2,780.3L167.2,780.5L166.2,780.7L165.2,780.9L164.2,781.1L163.3,781.3L162.3,781.5L161.7,781.7M180.3,781.7L180.1,781.6L179.1,781.3L178.1,781.1L177.1,781.0L176.1,780.9L175.1,780.9L174.1,780.8L173.1,780.9L172.1,780.9L171.9,780.9M191.6,784.7L191.2,784.4L190.3,783.8L189.4,783.3L188.6,782.9L187.7,782.4L186.8,781.9L185.9,781.4L185.1,780.9L184.2,780.4L183.4,779.8L182.5,779.4L181.6,778.9L180.7,778.6L180.1,778.4M199.3,784.1L199.0,783.8L198.3,783.2L197.5,782.5L196.7,781.9L195.9,781.4L195.0,780.9L194.2,780.4L193.3,779.9L192.4,779.5L192.0,779.3M208.3,787.5L208.1,787.1L207.7,786.2L207.2,785.3L206.7,784.5L206.3,783.6L205.8,782.7L205.4,781.8L205.0,780.9L204.5,780.0L204.0,779.1L203.4,778.3L202.8,777.6L202.0,776.9L201.5,776.7M217.7,785.0L217.2,784.1L216.7,783.3L216.1,782.5L215.5,781.6L214.9,780.9L214.3,780.1L213.6,779.3L212.9,778.6M226.4,788.2L226.3,787.7L226.1,786.7L225.8,785.8L225.6,784.8L225.4,783.8L225.2,782.8L225.0,781.8L224.9,780.9L224.7,779.9L224.4,778.9L224.1,778.0L223.6,777.1L223.1,776.2L222.7,775.8M246.8,782.3L246.4,782.0L245.5,781.4L244.7,780.9L244.3,780.6M256.5,781.4L255.6,781.1L254.7,780.9M276.2,780.1L275.5,780.4L274.7,780.8M109.4,771.9L109.4,771.9L108.4,772.2L107.5,772.5L106.5,772.8L105.6,773.0L104.6,773.3L103.6,773.6L103.6,773.6M119.4,771.8L119.3,771.8L118.4,772.1L117.4,772.4L116.5,772.7L115.5,773.0L114.6,773.3L113.6,773.7L113.5,773.7M130.0,771.9L129.3,772.1L128.4,772.3L127.4,772.5L126.4,772.8L125.4,773.0L124.5,773.3L123.5,773.6L122.8,773.8M143.0,772.9L142.4,772.9L141.4,772.9L140.4,772.9L139.4,772.9L138.4,772.9L137.4,772.9L136.4,773.0L135.4,773.0L134.4,773.1L133.4,773.2L132.4,773.3L131.4,773.5L130.4,773.6L129.8,773.8M152.7,772.3L152.3,772.3L151.3,772.4L150.3,772.5L149.3,772.7L148.3,772.8L147.3,772.9L146.3,773.0L145.3,773.0L144.3,773.1L143.3,773.2L142.3,773.2L141.3,773.2L140.3,773.2L139.9,773.2M161.3,772.4L161.2,772.4L160.2,772.5L159.2,772.6L158.2,772.7L157.3,772.8L156.3,772.9L155.3,773.0L154.3,773.2L153.3,773.3L152.3,773.4L151.3,773.6L151.2,773.6M173.6,773.2L173.2,773.2L172.2,773.2L171.2,773.1L170.2,773.1L169.2,773.1L168.2,773.0L167.2,773.0L166.2,773.0L165.2,773.0L164.2,773.0L163.2,773.1L162.2,773.1L161.2,773.2L160.2,773.2L159.2,773.3L158.8,773.4M183.2,773.8L183.1,773.8L182.1,773.6L181.1,773.5L180.1,773.3L179.1,773.2L178.1,773.2L177.2,773.1L176.2,773.1L175.2,773.0L174.2,773.0L173.2,773.0L172.2,772.9L171.2,772.9L170.2,772.9L169.2,772.8L169.0,772.8M191.2,774.4L190.9,774.4L190.0,774.1L189.0,773.9L188.0,773.7L187.1,773.4L186.1,773.2L185.1,773.0L184.1,772.8L183.1,772.7L182.1,772.5L181.1,772.4L180.8,772.3M203.8,775.9L203.6,775.8L202.7,775.3L201.8,774.9L200.8,774.5L199.9,774.2L198.9,773.9L198.0,773.7L197.0,773.5L196.0,773.2L195.0,773.0L194.1,772.8L193.1,772.6L192.1,772.4L191.1,772.2L190.2,771.9L189.2,771.7L188.2,771.5L187.9,771.5M209.9,775.7L209.4,775.4L208.5,774.8L207.7,774.3L206.8,773.9L205.9,773.4L205.0,773.0L204.1,772.6L203.1,772.3L202.2,771.9L201.6,771.7M220.0,776.5L219.9,776.4L219.1,775.7L218.3,775.2L217.5,774.6L216.6,774.1L215.8,773.6L214.9,773.0L214.1,772.5L213.2,772.0L212.4,771.5L211.5,771.0L211.3,770.9M228.2,775.9L227.9,775.6L227.2,774.9L226.5,774.2L225.7,773.6L224.9,773.0L224.0,772.5L223.2,771.9L222.8,771.7M247.7,774.0L247.6,773.9L246.6,773.6L245.7,773.3L244.7,773.0L243.8,772.7L243.6,772.7M257.3,773.4L256.7,773.3L255.7,773.2L254.7,773.0L254.0,772.9M119.9,764.5L119.5,764.6L118.5,764.7L117.5,764.8L116.5,765.0L115.5,765.2L114.5,765.4L113.6,765.6L113.1,765.8M130.1,764.3L129.4,764.5L128.4,764.6L127.4,764.8L126.4,765.0L125.5,765.2L124.5,765.4L123.5,765.5L122.7,765.6M140.9,764.5L140.4,764.5L139.4,764.7L138.4,764.8L137.4,764.9L136.4,765.0L135.4,765.2L134.4,765.3L133.4,765.5L132.4,765.7L131.8,765.8M151.8,765.1L151.3,765.1L150.3,765.1L149.3,765.1L148.3,765.1L147.3,765.1L146.3,765.1L145.3,765.2L144.3,765.2L143.3,765.3L142.3,765.4L141.3,765.5L140.9,765.5M161.6,764.8L161.3,764.8L160.3,764.9L159.3,765.0L158.3,765.0L157.3,765.1L156.3,765.1L155.3,765.2L154.3,765.2L153.3,765.3L152.3,765.3L151.3,765.3L150.9,765.3M171.5,765.1L171.2,765.1L170.2,765.1L169.2,765.1L168.2,765.1L167.2,765.1L166.2,765.2L165.2,765.2L164.2,765.2L163.2,765.3L162.2,765.3L161.2,765.4L160.9,765.4M182.5,765.2L182.2,765.2L181.2,765.2L180.2,765.2L179.2,765.2L178.2,765.2L177.2,765.2L176.2,765.2L175.2,765.2L174.2,765.2L173.2,765.2L172.2,765.2L171.2,765.2L170.2,765.2L169.8,765.2M192.1,765.9L192.1,765.9L191.1,765.7L190.1,765.6L189.1,765.5L188.1,765.4L187.1,765.3L186.1,765.2L185.1,765.2L184.1,765.1L183.1,765.1L182.1,765.1L181.1,765.1L180.1,765.1L180.0,765.1M200.8,766.3L200.0,766.1L199.0,765.9L198.0,765.7L197.0,765.5L196.0,765.4L195.0,765.2L194.1,765.0L193.1,764.9L192.1,764.7L191.2,764.6M211.3,765.5L211.0,765.5L210.0,765.5L209.0,765.5L208.0,765.4L207.0,765.4L206.0,765.3L205.0,765.2L204.0,765.1L203.0,765.0L202.0,764.8L201.0,764.7L200.7,764.6M220.7,766.4L219.8,766.2L218.9,765.9L217.9,765.7L216.9,765.5L215.9,765.3L214.9,765.2L213.9,765.1L212.9,765.0L211.9,764.9L211.0,764.9M229.0,766.1L228.8,766.1L227.8,765.9L226.8,765.7L225.8,765.4L224.9,765.2L223.9,765.0L222.9,764.7L222.7,764.7M257.9,765.2L257.7,765.2L256.7,765.2L255.7,765.2L254.7,765.2L253.7,765.2L253.5,765.2M267.9,764.7L267.6,764.7L266.6,764.9L265.6,765.1L264.6,765.2L263.6,765.3L263.3,765.4M287.9,764.5L287.4,764.6L286.5,764.8L285.5,765.0L284.5,765.2L283.5,765.4L283.0,765.5M129.6,756.2L129.3,756.3L128.4,756.6L127.4,756.8L126.4,757.1L125.5,757.4L124.5,757.6L123.5,757.9L123.2,758.0M139.9,756.4L139.3,756.5L138.3,756.7L137.4,756.9L136.4,757.1L135.4,757.4L134.4,757.6L133.4,757.8L132.8,758.0M150.5,756.7L150.3,756.7L149.3,756.9L148.3,757.0L147.3,757.1L146.3,757.2L145.3,757.4L144.3,757.5L143.4,757.6L142.4,757.8L142.1,757.8M160.4,756.8L160.3,756.8L159.3,756.9L158.3,757.0L157.3,757.2L156.3,757.3L155.3,757.4L154.3,757.5L153.3,757.6L152.3,757.7L152.1,757.7M170.3,757.0L170.2,757.0L169.2,757.1L168.2,757.2L167.2,757.2L166.2,757.3L165.2,757.4L164.2,757.4L163.2,757.5L162.2,757.6L162.1,757.6M180.7,757.3L180.2,757.3L179.2,757.3L178.2,757.3L177.2,757.3L176.2,757.3L175.2,757.4L174.2,757.4L173.2,757.4L172.2,757.4L171.6,757.4M190.4,757.6L190.1,757.6L189.1,757.5L188.1,757.5L187.1,757.4L186.1,757.4L185.1,757.4L184.1,757.3L183.1,757.3L182.1,757.3L181.7,757.3M199.9,757.8L199.0,757.7L198.0,757.6L197.0,757.5L196.0,757.4L195.0,757.4L194.0,757.3L193.1,757.2L192.2,757.1M209.5,757.8L209.0,757.7L208.0,757.7L207.0,757.6L206.0,757.5L205.0,757.4L204.0,757.3L203.0,757.2L202.4,757.1M217.9,757.4L217.9,757.4L216.9,757.4L215.9,757.4L214.9,757.4L213.9,757.4L213.9,757.4M228.3,757.8L227.8,757.7L226.9,757.6L225.9,757.5L224.9,757.4L223.9,757.2L223.3,757.2M238.1,757.6L237.8,757.6L236.8,757.5L235.8,757.4L234.8,757.4L233.8,757.3L233.5,757.2M258.1,756.9L257.7,757.0L256.7,757.1L255.7,757.3L254.7,757.4L253.7,757.5L253.2,757.5M268.6,756.1L268.5,756.2L267.5,756.5L266.5,756.8L265.6,757.1L264.6,757.4L263.7,757.7L262.7,757.9L262.5,758.0M278.3,756.4L277.5,756.7L276.5,756.9L275.5,757.1L274.6,757.4L273.6,757.6L272.7,757.8M139.2,748.2L139.2,748.2L138.2,748.5L137.3,748.8L136.3,749.2L135.4,749.5L134.5,749.9L133.5,750.2L133.4,750.3M149.7,748.6L149.3,748.7L148.3,748.9L147.3,749.1L146.3,749.3L145.3,749.5L144.4,749.7L143.4,749.9L143.0,750.0M159.5,748.8L159.2,748.8L158.2,749.0L157.3,749.2L156.3,749.3L155.3,749.5L154.3,749.7L153.3,749.9L153.0,749.9M169.5,749.0L169.2,749.0L168.2,749.1L167.2,749.2L166.2,749.4L165.2,749.5L164.2,749.7L163.3,749.8L162.9,749.9M179.6,749.3L179.2,749.3L178.2,749.4L177.2,749.4L176.2,749.5L175.2,749.5L174.2,749.6L173.2,749.6L172.7,749.7M189.2,749.5L189.1,749.5L188.1,749.5L187.1,749.5L186.1,749.5L185.1,749.5L184.1,749.5L183.1,749.5L183.0,749.5M199.2,749.7L199.0,749.7L198.0,749.6L197.0,749.6L196.0,749.5L195.0,749.5L194.0,749.5L193.0,749.5L192.8,749.5M208.8,749.8L208.0,749.7L207.0,749.6L206.0,749.6L205.0,749.5L204.0,749.5L203.1,749.4M218.2,749.7L217.9,749.7L216.9,749.6L215.9,749.6L214.9,749.5L213.9,749.5L213.7,749.4M227.0,749.5L226.9,749.5L225.9,749.5L224.9,749.5L224.7,749.5M237.4,749.6L236.8,749.6L235.8,749.6L234.8,749.5L234.2,749.5M247.3,749.5L246.8,749.5L245.8,749.5L244.8,749.5L244.2,749.5M258.0,749.1L257.7,749.2L256.7,749.3L255.7,749.4L254.7,749.5L253.7,749.6L253.3,749.7M268.4,748.7L267.6,748.9L266.6,749.1L265.6,749.3L264.6,749.5L263.7,749.7L262.8,749.9M278.6,748.4L278.4,748.5L277.5,748.7L276.5,749.0L275.5,749.3L274.6,749.5L273.6,749.8L272.6,750.0L272.5,750.1M289.0,748.0L288.3,748.3L287.4,748.6L286.4,748.9L285.5,749.2L284.5,749.5L283.6,749.8L282.6,750.1L281.9,750.4M299.3,747.9L299.2,747.9L298.2,748.2L297.3,748.6L296.3,748.9L295.4,749.2L294.5,749.5L293.5,749.8L292.6,750.2L291.6,750.5L291.5,750.5M129.2,740.3L128.3,740.7L127.3,741.0L126.4,741.3L125.5,741.7L124.5,742.0L123.6,742.4M139.3,740.5L139.2,740.5L138.3,740.8L137.3,741.1L136.4,741.4L135.4,741.7L134.5,742.0L133.5,742.3L133.4,742.4M149.4,740.6L149.2,740.6L148.2,740.9L147.3,741.2L146.3,741.4L145.4,741.7L144.4,741.9L143.4,742.2L143.2,742.3M159.4,740.8L159.2,740.8L158.2,741.0L157.2,741.3L156.3,741.5L155.3,741.7L154.3,741.9L153.3,742.1L153.1,742.2M169.3,741.0L169.2,741.0L168.2,741.2L167.2,741.3L166.2,741.5L165.2,741.7L164.2,741.9L163.3,742.0L163.1,742.1M179.1,741.1L178.1,741.2L177.1,741.4L176.2,741.5L175.2,741.7L174.2,741.8L173.2,742.0M189.1,741.5L188.1,741.5L187.1,741.6L186.1,741.6L185.1,741.7L184.1,741.7L183.1,741.8M208.3,741.7L208.0,741.7L207.0,741.7L206.0,741.7L205.0,741.7L204.0,741.7L203.7,741.7M217.6,741.7L216.9,741.7L215.9,741.7L214.9,741.7L214.2,741.7M227.5,741.7L226.9,741.7L225.9,741.7L224.9,741.7L224.2,741.7M237.7,741.7L236.8,741.7L235.8,741.7L234.8,741.7L233.9,741.7M247.8,741.5L247.8,741.5L246.8,741.6L245.8,741.6L244.8,741.7L243.8,741.7L243.7,741.7M288.9,740.4L288.4,740.5L287.4,740.8L286.4,741.1L285.5,741.4L284.5,741.7L283.6,742.0L282.6,742.3L282.0,742.4M299.1,740.3L298.3,740.5L297.3,740.8L296.4,741.1L295.4,741.4L294.5,741.7L293.5,742.0L292.5,742.3L291.7,742.5M149.3,732.5L149.1,732.5L148.2,732.9L147.2,733.2L146.3,733.5L145.4,733.8L144.4,734.2L143.5,734.5L143.2,734.6M159.3,732.7L159.1,732.7L158.2,733.0L157.2,733.3L156.3,733.5L155.3,733.8L154.3,734.1L153.4,734.5L153.2,734.5M169.1,732.9L168.2,733.1L167.2,733.4L166.2,733.6L165.2,733.8L164.3,734.1L163.3,734.3M178.7,732.7L178.0,732.9L177.1,733.2L176.1,733.5L175.2,733.8L174.2,734.2L173.5,734.4M188.9,733.3L188.1,733.4L187.1,733.5L186.1,733.7L185.1,733.8L184.1,734.0L183.3,734.2M216.5,733.6L215.3,733.8M227.4,733.8L226.9,733.8L225.9,733.8L224.9,733.8L224.3,733.9M237.8,733.7L237.8,733.7L236.8,733.8L235.8,733.8L234.8,733.8L233.8,733.9L233.8,733.9M248.0,733.6L247.8,733.6L246.8,733.7L245.8,733.8L244.8,733.8L243.8,733.9L243.5,733.9M289.0,732.6L288.4,732.7L287.4,733.0L286.4,733.3L285.5,733.6L284.5,733.8L283.6,734.1L282.6,734.4L282.0,734.6M299.9,732.1L299.2,732.3L298.3,732.6L297.3,732.9L296.4,733.2L295.4,733.5L294.5,733.8L293.5,734.1L292.6,734.4L291.6,734.7L290.9,735.0M310.1,732.1L309.2,732.3L308.2,732.6L307.3,732.9L306.3,733.2L305.4,733.5L304.4,733.8L303.5,734.2L302.5,734.5L301.6,734.8L300.6,735.1M169.0,725.2L168.2,725.4L167.2,725.6L166.2,725.8L165.2,726.0L164.3,726.2L163.4,726.4M178.9,725.3L178.1,725.4L177.1,725.6L176.2,725.8L175.2,726.0L174.2,726.2L173.4,726.4M188.8,725.5L188.1,725.6L187.1,725.7L186.1,725.9L185.1,726.0L184.1,726.2L183.4,726.3M198.5,725.7L198.1,725.8L197.1,725.8L196.1,725.9L195.1,726.0L194.1,726.1L193.5,726.2M227.8,725.9L226.9,725.9L225.9,726.0L224.9,726.0L224.0,726.1M238.0,725.8L237.8,725.8L236.8,725.9L235.8,725.9L234.8,726.0L233.8,726.1L233.6,726.1M248.1,725.6L247.8,725.7L246.8,725.8L245.8,725.9L244.8,726.0L243.8,726.1L243.4,726.1M288.9,724.8L288.4,724.9L287.4,725.2L286.5,725.5L285.5,725.7L284.5,726.0L283.6,726.3L282.6,726.5L282.0,726.7M299.6,724.5L299.3,724.6L298.3,724.9L297.3,725.1L296.4,725.4L295.4,725.7L294.5,726.0L293.5,726.3L292.6,726.6L291.6,726.9L291.2,727.0M309.7,724.4L309.2,724.6L308.2,724.9L307.3,725.1L306.3,725.4L305.4,725.7L304.4,726.0L303.5,726.3L302.5,726.6L301.5,726.9L301.0,727.1" fill="none" stroke="#000" stroke-width="0.65"/>
<path d="M45.4,821.7L45.0,818.7L47.3,819.3ZM55.9,821.6L54.6,818.9L57.0,818.8ZM75.4,821.9L74.7,819.0L77.0,819.3ZM85.6,822.2L84.5,819.3L86.9,819.4ZM96.3,822.4L94.4,820.1L96.7,819.4ZM106.1,822.5L104.3,820.1L106.7,819.5ZM115.3,822.9L114.3,820.0L116.7,820.1ZM125.4,823.8L124.2,821.0L126.6,821.0ZM135.8,824.8L134.5,822.1L136.8,822.0ZM145.1,824.0L144.1,821.2L146.4,821.3ZM154.8,824.0L153.9,821.1L156.3,821.3ZM165.1,824.6L164.1,821.8L166.5,821.9ZM174.6,823.5L173.9,820.5L176.2,820.9ZM184.5,822.8L183.9,819.9L186.2,820.3ZM194.4,822.4L193.9,819.4L196.3,820.0ZM204.2,821.6L204.3,818.6L206.5,819.6ZM214.4,821.4L214.2,818.4L216.5,819.2ZM224.1,821.0L224.9,818.0L226.8,819.6ZM233.9,820.7L235.5,818.1L236.9,820.1ZM243.9,820.7L245.4,818.0L246.9,819.8ZM85.6,814.3L84.5,811.5L86.9,811.5ZM96.9,814.5L94.5,812.6L96.6,811.5ZM106.5,814.7L104.4,812.5L106.6,811.6ZM115.5,815.0L114.3,812.2L116.7,812.2ZM125.6,816.1L124.3,813.4L126.7,813.2ZM136.9,817.5L135.0,815.2L137.3,814.5ZM145.3,816.6L144.1,813.8L146.5,813.8ZM155.0,816.5L153.9,813.7L156.3,813.8ZM166.2,817.5L164.4,815.0L166.8,814.5ZM174.8,815.9L173.8,813.0L176.2,813.2ZM185.4,815.9L184.0,813.2L186.4,813.0ZM195.3,815.6L193.9,812.9L196.3,812.7ZM204.5,813.8L204.1,810.8L206.4,811.4ZM215.8,814.8L213.8,812.6L216.0,811.8ZM224.3,813.2L224.5,810.1L226.7,811.2ZM234.2,812.8L235.3,810.0L237.0,811.7ZM245.0,813.5L243.2,811.1L245.6,810.5ZM66.1,806.1L64.4,803.6L66.8,803.2ZM75.8,806.2L74.5,803.4L76.9,803.3ZM95.8,806.6L94.4,803.9L96.8,803.7ZM107.0,806.9L104.5,805.0L106.6,803.9ZM115.4,807.0L114.3,804.1L116.7,804.2ZM125.0,807.7L124.1,804.8L126.5,805.1ZM135.9,809.7L134.4,807.1L136.8,806.8ZM145.4,809.6L144.2,806.8L146.6,806.7ZM154.6,808.7L153.8,805.8L156.2,806.1ZM165.5,811.5L164.2,808.7L166.6,808.7ZM174.4,808.0L173.7,805.0L176.1,805.5ZM184.7,807.7L183.8,804.8L186.2,805.1ZM194.3,806.2L194.2,803.1L196.5,804.0ZM204.6,805.7L204.1,802.7L206.5,803.3ZM214.2,804.9L215.8,802.2L217.2,804.2ZM224.1,804.8L225.9,802.3L227.2,804.4ZM234.2,804.9L235.5,802.1L237.1,804.0ZM244.4,804.9L245.0,801.9L247.0,803.3ZM254.0,804.6L256.2,802.5L257.1,804.8ZM75.1,798.4L74.9,795.3L77.2,796.1ZM85.0,798.5L84.8,795.4L87.0,796.3ZM95.0,798.6L94.7,795.5L97.0,796.3ZM105.2,798.8L104.4,795.8L106.8,796.2ZM115.5,799.0L114.3,796.2L116.7,796.2ZM124.4,799.3L124.2,796.3L126.5,797.1ZM134.5,800.4L133.9,797.4L136.2,797.9ZM144.6,801.1L143.8,798.2L146.1,798.5ZM153.7,800.2L153.6,797.2L155.8,798.0ZM163.9,800.5L163.4,797.5L165.7,798.0ZM173.5,799.4L173.8,796.4L175.9,797.5ZM184.7,799.2L183.9,796.2L186.3,796.6ZM193.3,796.2L196.2,795.5L195.8,797.9ZM204.3,796.8L206.4,794.6L207.4,796.8ZM213.5,794.5L216.1,796.2L214.1,797.5ZM223.9,795.3L226.5,796.8L224.6,798.2ZM234.0,796.0L237.0,796.7L235.5,798.6ZM244.1,795.8L246.8,797.2L244.9,798.7ZM254.2,796.0L257.0,797.3L255.2,798.9ZM264.2,797.0L265.1,794.1L267.0,795.6ZM74.5,790.5L75.1,787.5L77.1,788.9ZM84.6,790.6L85.0,787.5L87.0,788.8ZM94.3,790.6L94.9,787.6L96.9,789.0ZM104.2,790.7L104.8,787.7L106.8,789.1ZM115.1,791.0L114.4,788.0L116.8,788.4ZM122.9,791.0L124.0,788.2L125.8,789.9ZM132.9,791.6L133.8,788.7L135.6,790.2ZM144.8,793.3L143.7,790.5L146.1,790.5ZM152.0,791.8L152.9,788.9L154.7,790.5ZM162.3,792.4L163.1,789.4L165.0,790.9ZM172.8,791.9L173.3,788.9L175.4,790.2ZM181.3,786.8L184.3,786.6L183.5,788.9ZM191.7,785.4L194.6,786.5L192.9,788.2ZM202.2,784.2L204.7,785.8L202.7,787.2ZM212.5,783.8L214.9,785.7L212.8,786.9ZM223.5,783.4L225.4,785.8L223.1,786.5ZM233.4,785.2L235.6,787.4L233.3,788.2ZM254.1,788.0L256.7,789.5L254.8,790.9ZM263.3,788.8L266.0,787.3L266.2,789.7ZM83.7,782.5L85.1,779.8L86.6,781.6ZM93.6,782.4L95.1,779.8L96.5,781.7ZM102.7,782.4L104.6,780.0L105.7,782.1ZM112.3,782.6L114.1,780.2L115.3,782.3ZM120.6,782.4L122.8,780.4L123.6,782.7ZM130.8,782.6L132.9,780.4L133.8,782.7ZM140.2,782.7L142.4,780.6L143.3,782.8ZM147.8,782.5L150.2,780.6L150.8,782.9ZM159.8,782.1L162.2,780.3L162.8,782.6ZM169.9,781.2L172.6,779.7L172.9,782.0ZM178.2,777.9L181.2,777.5L180.6,779.8ZM190.2,778.5L193.2,778.5L192.3,780.7ZM199.8,775.7L202.9,776.0L201.7,778.1ZM211.4,777.3L214.3,778.3L212.7,780.1ZM221.3,774.4L224.1,775.6L222.4,777.3ZM242.7,779.4L245.7,780.1L244.3,782.0ZM252.8,780.3L255.9,780.0L255.2,782.3ZM272.9,781.7L274.9,779.4L276.0,781.5ZM101.7,774.1L104.1,772.2L104.7,774.5ZM111.7,774.3L113.9,772.3L114.7,774.5ZM120.9,774.3L123.3,772.4L124.0,774.7ZM127.9,774.2L130.4,772.4L130.9,774.8ZM137.9,773.2L140.7,772.0L140.7,774.4ZM149.3,773.8L151.9,772.3L152.2,774.6ZM156.8,773.6L159.5,772.1L159.7,774.5ZM167.0,772.8L169.9,771.7L169.8,774.1ZM178.9,772.1L181.8,771.2L181.6,773.6ZM185.9,771.1L188.9,770.4L188.5,772.8ZM199.7,771.2L202.8,770.8L202.1,773.1ZM209.5,770.2L212.5,770.2L211.6,772.4ZM221.1,770.7L224.1,771.1L223.0,773.2ZM241.8,772.1L244.8,771.8L244.1,774.1ZM252.1,772.6L255.0,771.9L254.6,774.2ZM111.2,766.4L113.5,764.4L114.2,766.7ZM120.7,765.9L123.4,764.3L123.7,766.7ZM129.9,766.1L132.4,764.4L132.8,766.8ZM138.9,765.7L141.6,764.2L141.8,766.6ZM149.0,765.3L151.8,764.1L151.8,766.5ZM158.9,765.5L161.6,764.1L161.8,766.5ZM167.8,765.2L170.6,764.0L170.6,766.4ZM178.1,765.1L180.9,763.9L180.9,766.3ZM189.2,764.3L192.2,763.5L191.8,765.9ZM198.7,764.3L201.7,763.6L201.3,765.9ZM209.0,764.9L211.8,763.7L211.8,766.1ZM220.8,764.2L223.8,763.7L223.2,766.0ZM251.5,765.1L254.3,764.0L254.3,766.4ZM261.3,765.6L264.0,764.1L264.3,766.5ZM281.1,765.9L283.6,764.2L284.1,766.5ZM121.3,758.5L123.7,756.6L124.3,758.9ZM130.9,758.4L133.3,756.6L133.9,758.9ZM140.2,758.1L142.8,756.5L143.2,758.9ZM150.1,757.9L152.8,756.4L153.0,758.8ZM160.1,757.8L162.8,756.3L163.0,758.7ZM169.6,757.5L172.4,756.2L172.5,758.6ZM179.8,757.2L182.6,756.1L182.6,758.5ZM190.2,757.0L193.1,756.0L192.9,758.4ZM200.4,756.9L203.3,756.0L203.1,758.4ZM211.9,757.3L214.7,756.2L214.7,758.6ZM221.4,757.0L224.3,756.1L224.0,758.5ZM231.5,757.1L234.4,756.1L234.2,758.5ZM251.3,757.6L254.0,756.2L254.2,758.6ZM260.6,758.5L263.0,756.6L263.6,758.9ZM270.8,758.3L273.2,756.4L273.8,758.8ZM131.6,751.0L133.8,748.8L134.7,751.1ZM141.0,750.5L143.5,748.7L144.0,751.0ZM151.1,750.2L153.6,748.6L154.0,751.0ZM161.0,750.2L163.6,748.6L164.0,750.9ZM170.8,749.8L173.5,748.4L173.6,750.8ZM181.1,749.5L183.9,748.3L183.9,750.7ZM190.9,749.4L193.7,748.3L193.6,750.7ZM201.2,749.3L204.0,748.3L203.9,750.7ZM211.7,749.3L214.6,748.3L214.4,750.7ZM222.7,749.5L225.6,748.3L225.5,750.7ZM232.3,749.4L235.1,748.3L235.0,750.7ZM242.2,749.5L245.0,748.3L245.0,750.7ZM251.4,749.8L254.1,748.4L254.3,750.8ZM260.9,750.3L263.4,748.6L263.9,750.9ZM270.6,750.5L273.0,748.7L273.6,751.0ZM280.0,751.0L282.3,749.0L283.1,751.3ZM289.6,751.2L291.9,749.1L292.6,751.4ZM121.8,743.0L124.0,741.0L124.8,743.2ZM131.6,743.0L133.8,740.9L134.6,743.2ZM141.3,742.8L143.7,740.9L144.3,743.2ZM151.2,742.6L153.7,740.8L154.2,743.2ZM161.2,742.4L163.7,740.7L164.1,743.1ZM171.2,742.3L173.8,740.7L174.2,743.1ZM181.1,742.0L183.8,740.6L184.0,743.0ZM201.7,741.7L204.5,740.5L204.5,742.9ZM212.3,741.7L215.1,740.5L215.1,742.9ZM222.3,741.7L225.1,740.5L225.0,742.9ZM232.0,741.7L234.8,740.5L234.8,742.9ZM241.7,741.8L244.5,740.5L244.5,742.9ZM280.2,743.0L282.5,741.0L283.2,743.3ZM289.9,743.1L292.2,741.1L292.9,743.4ZM141.4,735.1L143.7,733.2L144.4,735.4ZM151.3,735.2L153.6,733.1L154.4,735.4ZM161.4,734.7L163.8,732.9L164.4,735.3ZM171.7,735.1L173.9,733.0L174.7,735.3ZM181.4,734.5L183.9,732.8L184.4,735.2ZM213.4,734.1L216.0,732.5L216.3,734.8ZM222.3,734.0L225.1,732.6L225.2,735.0ZM231.8,733.9L234.6,732.7L234.6,735.1ZM241.5,734.1L244.2,732.7L244.4,735.1ZM280.1,735.2L282.4,733.2L283.1,735.5ZM289.0,735.5L291.3,733.6L292.0,735.9ZM298.8,735.7L301.0,733.7L301.8,736.0ZM161.4,726.8L163.9,725.1L164.4,727.4ZM171.5,726.8L174.0,725.0L174.5,727.4ZM181.5,726.6L184.0,725.0L184.4,727.3ZM191.6,726.3L194.3,724.9L194.5,727.3ZM222.0,726.2L224.7,724.8L224.9,727.2ZM231.7,726.2L234.4,724.8L234.6,727.2ZM241.4,726.3L244.1,724.9L244.3,727.3ZM280.2,727.2L282.5,725.3L283.2,727.6ZM289.4,727.5L291.7,725.6L292.4,727.9ZM299.2,727.7L301.5,725.7L302.2,728.0Z" fill="#000"/>
</g>
<path d="M126.6,748.0 L176.4,748.0 L142.4,796.5 L92.6,796.5Z" fill="none" stroke="#88e01c" stroke-width="1.3"/>
<path d="M209.2,772.2 L259.0,772.2 L242.0,796.5 L192.2,796.5Z" fill="none" stroke="#88e01c" stroke-width="1.3"/>
<line x1="102.20" y1="723.70" x2="317.90" y2="723.70" stroke="#8a8a8a" stroke-width="1" />
<line x1="33.20" y1="820.70" x2="250.90" y2="820.70" stroke="#a8a8a8" stroke-width="1.2" />
<line x1="106.20" y1="723.70" x2="38.20" y2="820.70" stroke="#222" stroke-width="1.1" />
<line x1="317.90" y1="723.70" x2="249.90" y2="820.70" stroke="#999" stroke-width="0.8" />
<line x1="317.90" y1="723.70" x2="319.80" y2="720.60" stroke="#777" stroke-width="0.8" />
<path d="M74.3,821.2 L74.3,957.5 L282.6,957.5 L282.6,775.6" fill="none" stroke="#888" stroke-width="1" />
<line x1="102.70" y1="723.70" x2="106.20" y2="723.70" stroke="#999" stroke-width="0.9" />
<text x="96.9" y="727.6" font-size="11" text-anchor="end" fill="#000" font-weight="normal" >20° N</text>
<line x1="85.70" y1="747.95" x2="89.20" y2="747.95" stroke="#999" stroke-width="0.9" />
<text x="79.9" y="751.9" font-size="11" text-anchor="end" fill="#000" font-weight="normal" >10° N</text>
<line x1="68.70" y1="772.20" x2="72.20" y2="772.20" stroke="#999" stroke-width="0.9" />
<text x="62.9" y="776.1" font-size="11" text-anchor="end" fill="#000" font-weight="normal" >0°</text>
<line x1="51.70" y1="796.45" x2="55.20" y2="796.45" stroke="#999" stroke-width="0.9" />
<text x="45.9" y="800.4" font-size="11" text-anchor="end" fill="#000" font-weight="normal" >10° S</text>
<line x1="34.70" y1="820.70" x2="38.20" y2="820.70" stroke="#999" stroke-width="0.9" />
<text x="28.9" y="824.6" font-size="11" text-anchor="end" fill="#000" font-weight="normal" >20° S</text>
<line x1="168.46" y1="723.70" x2="171.06" y2="720.90" stroke="#777" stroke-width="0.8" />
<text x="171.1" y="714.7" font-size="11" text-anchor="middle" fill="#000" font-weight="normal" >60° E</text>
<line x1="243.18" y1="723.70" x2="245.78" y2="720.90" stroke="#777" stroke-width="0.8" />
<text x="245.8" y="714.7" font-size="11" text-anchor="middle" fill="#000" font-weight="normal" >90° E</text>
<line x1="135.50" y1="957.50" x2="135.50" y2="963.00" stroke="#666" stroke-width="0.9" />
<text x="135.5" y="977.6" font-size="11" text-anchor="middle" fill="#000" font-weight="normal" >60° E</text>
<line x1="209.00" y1="957.50" x2="209.00" y2="963.00" stroke="#666" stroke-width="0.9" />
<text x="209.0" y="977.6" font-size="11" text-anchor="middle" fill="#000" font-weight="normal" >90° E</text>
<line x1="282.60" y1="957.50" x2="282.60" y2="963.00" stroke="#666" stroke-width="0.9" />
<text x="282.6" y="977.6" font-size="11" text-anchor="middle" fill="#000" font-weight="normal" >120° E</text>
<line x1="68.30" y1="861.99" x2="74.30" y2="861.99" stroke="#888" stroke-width="0.9" />
<text x="63.8" y="865.9" font-size="11" text-anchor="end" fill="#000" font-weight="normal" >40 m</text>
<line x1="68.30" y1="892.33" x2="74.30" y2="892.33" stroke="#888" stroke-width="0.9" />
<text x="63.8" y="896.2" font-size="11" text-anchor="end" fill="#000" font-weight="normal" >80 m</text>
<line x1="68.30" y1="912.93" x2="74.30" y2="912.93" stroke="#888" stroke-width="0.9" />
<text x="63.8" y="916.8" font-size="11" text-anchor="end" fill="#000" font-weight="normal" >120 m</text>
<line x1="68.30" y1="928.65" x2="74.30" y2="928.65" stroke="#888" stroke-width="0.9" />
<text x="63.8" y="932.5" font-size="11" text-anchor="end" fill="#000" font-weight="normal" >160 m</text>
<line x1="68.30" y1="941.08" x2="74.30" y2="941.08" stroke="#888" stroke-width="0.9" />
<text x="63.8" y="945.0" font-size="11" text-anchor="end" fill="#000" font-weight="normal" >200 m</text>
<line x1="68.30" y1="951.03" x2="74.30" y2="951.03" stroke="#888" stroke-width="0.9" />
<text x="63.8" y="954.9" font-size="11" text-anchor="end" fill="#000" font-weight="normal" >240 m</text>
<text x="275.8" y="712.6" font-size="11" text-anchor="start" fill="#000" font-weight="normal" >0.02 N m<tspan dy="-5" font-size="8.5">−2</tspan></text>
<line x1="295.90" y1="719.00" x2="307.10" y2="719.00" stroke="#000" stroke-width="0.9" />
<path d="M310.1,719 l-4.8,-1.9 l0.9,1.9 l-0.9,1.9z" fill="#000"/>
<clipPath id="pgf"><path d="M455.8,723.4 L666.7,724 L598.4000000000001,821.0000000000001 L387.5,820.4Z"/></clipPath>
<clipPath id="scf"><rect x="424.3" y="777" width="208.9" height="180.5"/></clipPath>
<g clip-path="url(#scf)">
<rect x="424.3" y="761" width="208.3" height="196.5" fill="#bebebe"/>
<rect x="438" y="761" width="147" height="196.5" fill="#fdb464"/>
<path d="M438.0,810.0 C455.9,792.6 527.7,800.6 545.3,810.0 C562.9,819.4 545.2,855.2 543.6,866.2 C542.0,877.2 538.3,872.0 535.6,875.8 C532.9,879.5 529.2,883.4 527.6,888.7 C526.0,894.1 526.8,902.0 526.0,907.9 C525.2,913.8 527.1,920.2 522.8,924.0 C518.5,927.8 507.8,929.9 500.3,930.4 C492.8,930.9 484.2,928.8 477.8,927.2 C471.4,925.6 466.1,922.9 461.8,920.8 C457.5,918.7 456.1,915.5 452.1,914.4 C448.1,913.3 440.4,931.8 438.0,914.4 C435.6,897.0 420.1,827.4 438.0,810.0Z" fill="#f7884d" stroke="#3a3a3a" stroke-width="0.4"/>
<path d="M561.3,810.0 C564.0,802.5 574.7,801.7 577.4,810.0 C580.1,818.3 578.6,849.7 577.4,860.0 C576.2,870.3 573.7,869.0 570.0,872.0 C566.3,875.0 559.2,875.8 555.0,878.0 C550.8,880.2 547.8,881.3 545.0,885.0 C542.2,888.7 538.8,895.5 538.0,900.0 C537.2,904.5 538.3,908.7 540.0,912.0 C541.7,915.3 544.7,918.3 548.0,920.0 C551.3,921.7 553.7,921.8 560.0,922.0 C566.3,922.2 581.7,914.7 586.0,921.0 C590.3,927.3 610.7,953.5 586.0,960.0 C561.3,966.5 462.7,963.7 438.0,960.0 C413.3,956.3 435.7,942.0 438.0,938.0 C440.3,934.0 446.7,935.0 452.0,936.0 C457.3,937.0 463.7,942.7 470.0,944.0 C476.3,945.3 483.0,945.3 490.0,944.0 C497.0,942.7 505.7,938.7 512.0,936.0 C518.3,933.3 523.3,931.0 528.0,928.0 C532.7,925.0 538.7,921.8 540.0,918.0 C541.3,914.2 537.3,909.7 536.0,905.0 C534.7,900.3 530.5,894.7 532.0,890.0 C533.5,885.3 541.0,880.5 545.0,877.0 C549.0,873.5 553.3,872.7 556.0,869.0 C558.7,865.3 560.1,864.8 561.0,855.0 C561.9,845.2 558.6,817.5 561.3,810.0Z" fill="#fde28f" stroke="#3a3a3a" stroke-width="0.4"/>
<path d="M577.4,810.0 C579.2,802.0 584.6,790.7 586.0,810.0 C587.4,829.3 590.3,907.0 586.0,926.0 C581.7,945.0 568.8,925.7 560.0,924.0 C551.2,922.3 538.8,920.3 533.0,916.0 C527.2,911.7 525.7,902.7 525.0,898.0 C524.3,893.3 526.5,891.8 529.0,888.0 C531.5,884.2 535.5,879.0 540.0,875.0 C544.5,871.0 550.2,866.8 556.0,864.0 C561.8,861.2 571.4,867.0 575.0,858.0 C578.6,849.0 575.6,818.0 577.4,810.0Z" fill="#e9f5e8" stroke="#3a3a3a" stroke-width="0.4"/>
<path d="M586.0,862.0 C581.7,852.7 567.2,865.3 560.0,868.0 C552.8,870.7 547.7,874.5 543.0,878.0 C538.3,881.5 534.5,885.7 532.0,889.0 C529.5,892.3 527.3,893.8 528.0,898.0 C528.7,902.2 530.7,910.1 536.0,914.0 C541.3,917.9 551.7,919.8 560.0,921.5 C568.3,923.2 581.7,933.9 586.0,924.0 C590.3,914.1 590.3,871.3 586.0,862.0Z" fill="#c3e3ef" stroke="#3a3a3a" stroke-width="0.4"/>
<path d="M586.0,867.0 C582.2,858.6 569.7,869.7 563.0,872.0 C556.3,874.3 550.7,878.0 546.0,881.0 C541.3,884.0 537.5,887.2 535.0,890.0 C532.5,892.8 530.5,894.3 531.0,898.0 C531.5,901.7 533.2,908.4 538.0,912.0 C542.8,915.6 552.0,917.8 560.0,919.5 C568.0,921.2 581.7,931.2 586.0,922.5 C590.3,913.8 589.8,875.4 586.0,867.0Z" fill="#97c7e2" stroke="#3a3a3a" stroke-width="0.4"/>
<path d="M586.0,872.0 C582.7,864.5 572.2,874.2 566.0,876.0 C559.8,877.8 553.7,880.5 549.0,883.0 C544.3,885.5 540.5,888.5 538.0,891.0 C535.5,893.5 533.7,894.8 534.0,898.0 C534.3,901.2 535.7,906.8 540.0,910.0 C544.3,913.2 552.3,915.7 560.0,917.5 C567.7,919.3 581.7,928.6 586.0,921.0 C590.3,913.4 589.3,879.5 586.0,872.0Z" fill="#6ea5d1" stroke="#3a3a3a" stroke-width="0.4"/>
<path d="M586.0,876.0 C583.0,869.3 573.7,878.0 568.0,879.5 C562.3,881.0 556.5,882.9 552.0,885.0 C547.5,887.1 543.5,889.8 541.0,892.0 C538.5,894.2 536.8,895.3 537.0,898.0 C537.2,900.7 538.2,905.1 542.0,908.0 C545.8,910.9 552.7,913.6 560.0,915.5 C567.3,917.4 581.7,926.1 586.0,919.5 C590.3,912.9 589.0,882.7 586.0,876.0Z" fill="#4b7dbc" stroke="#3a3a3a" stroke-width="0.4"/>
<path d="M586.0,879.0 C583.3,873.1 575.2,880.7 570.0,882.0 C564.8,883.3 559.2,885.3 555.0,887.0 C550.8,888.7 547.3,890.2 545.0,892.0 C542.7,893.8 541.0,895.7 541.0,898.0 C541.0,900.3 541.8,903.5 545.0,906.0 C548.2,908.5 553.2,911.1 560.0,913.0 C566.8,914.9 581.7,923.2 586.0,917.5 C590.3,911.8 588.7,884.9 586.0,879.0Z" fill="#3a4fa2" stroke="#3a3a3a" stroke-width="0.4"/>
<path d="M478.0,840.0 C480.7,838.8 484.3,837.2 488.0,838.0 C491.7,838.8 495.5,843.0 500.0,845.0 C504.5,847.0 510.8,847.2 515.0,850.0 C519.2,852.8 522.8,857.0 525.0,862.0 C527.2,867.0 527.7,873.7 528.0,880.0 C528.3,886.3 528.3,894.7 527.0,900.0 C525.7,905.3 524.5,909.3 520.0,912.0 C515.5,914.7 507.0,915.7 500.0,916.0 C493.0,916.3 483.8,915.8 478.0,914.0 C472.2,912.2 467.7,909.8 465.0,905.0 C462.3,900.2 462.0,892.5 462.0,885.0 C462.0,877.5 463.3,866.7 465.0,860.0 C466.7,853.3 469.8,848.3 472.0,845.0 C474.2,841.7 475.3,841.2 478.0,840.0Z" fill="#e9593b" stroke="#3a3a3a" stroke-width="0.4"/>
<path d="M444.0,858.0 C445.2,854.3 447.7,851.8 449.0,853.0 C450.3,854.2 451.8,860.5 452.0,865.0 C452.2,869.5 449.5,875.0 450.0,880.0 C450.5,885.0 454.7,889.7 455.0,895.0 C455.3,900.3 454.0,908.8 452.0,912.0 C450.0,915.2 444.8,916.8 443.0,914.0 C441.2,911.2 441.2,901.5 441.0,895.0 C440.8,888.5 441.5,881.2 442.0,875.0 C442.5,868.8 442.8,861.7 444.0,858.0Z" fill="#e9593b" stroke="#3a3a3a" stroke-width="0.4"/>
<path d="M480.0,858.0 C484.0,855.7 494.2,855.0 500.0,856.0 C505.8,857.0 511.2,860.0 515.0,864.0 C518.8,868.0 521.7,874.5 523.0,880.0 C524.3,885.5 524.3,892.5 523.0,897.0 C521.7,901.5 519.7,905.0 515.0,907.0 C510.3,909.0 500.8,909.8 495.0,909.0 C489.2,908.2 483.3,905.5 480.0,902.0 C476.7,898.5 475.7,893.3 475.0,888.0 C474.3,882.7 475.2,875.0 476.0,870.0 C476.8,865.0 476.0,860.3 480.0,858.0Z" fill="#d13027" stroke="#3a3a3a" stroke-width="0.4"/>
<path d="M487.0,868.0 C489.8,866.3 495.8,865.0 500.0,866.0 C504.2,867.0 508.8,870.3 512.0,874.0 C515.2,877.7 518.0,884.0 519.0,888.0 C520.0,892.0 519.8,895.5 518.0,898.0 C516.2,900.5 512.3,902.7 508.0,903.0 C503.7,903.3 496.0,902.2 492.0,900.0 C488.0,897.8 485.5,894.0 484.0,890.0 C482.5,886.0 482.5,879.7 483.0,876.0 C483.5,872.3 484.2,869.7 487.0,868.0Z" fill="#a60226" stroke="#3a3a3a" stroke-width="0.4"/>
<path d="M442.0,920.0 C442.8,915.7 445.2,916.3 446.0,918.0 C446.8,919.7 447.3,925.5 447.0,930.0 C446.7,934.5 445.0,942.7 444.0,945.0 C443.0,947.3 441.3,948.2 441.0,944.0 C440.7,939.8 441.2,924.3 442.0,920.0Z" fill="#e9f5e8" stroke="#3a3a3a" stroke-width="0.4"/>
<rect x="424.3" y="761" width="14.300000000000011" height="106.79999999999995" fill="#bebebe"/>
<rect x="424.3" y="867.8" width="16.599999999999966" height="90.70000000000005" fill="#bebebe"/>
<rect x="585.8" y="761" width="46.80000000000007" height="197.5" fill="#bebebe"/>
<rect x="583.8" y="874" width="48.80000000000007" height="84.5" fill="#bebebe"/>
<rect x="595.3" y="761" width="7.7" height="101" fill="#fde28f"/>
<rect x="603" y="805" width="4" height="52" fill="#e9f5e8"/>
<rect x="607" y="805" width="3.8" height="17" fill="#fde28f"/>
<path d="M595.0,860.0 C595.7,856.7 597.7,857.0 599.0,858.0 C600.3,859.0 602.3,862.7 603.0,866.0 C603.7,869.3 604.3,876.0 603.0,878.0 C601.7,880.0 596.3,881.0 595.0,878.0 C593.7,875.0 594.3,863.3 595.0,860.0Z" fill="#fde28f" stroke="#3a3a3a" stroke-width="0.4"/>
<path d="M595.0,864.0 C595.5,861.5 597.0,861.0 598.0,862.0 C599.0,863.0 600.7,867.5 601.0,870.0 C601.3,872.5 601.0,875.8 600.0,877.0 C599.0,878.2 595.8,879.2 595.0,877.0 C594.2,874.8 594.5,866.5 595.0,864.0Z" fill="#e9593b" stroke="#3a3a3a" stroke-width="0.4"/>
<rect x="626.3" y="775" width="6.300000000000068" height="190" fill="#e9f5e8"/>
<rect x="628" y="800" width="4.600000000000023" height="160" fill="#c3e3ef"/>
<rect x="629" y="857" width="3.1000000000000227" height="58" fill="#6ea5d1"/>
</g>
<g clip-path="url(#pgf)">
<path d="M455.8,723.4 L666.7,724.0 L598.4,821.0 L387.5,820.4Z" fill="#f7884d" />
<path d="M547.0,748.0 C551.7,745.2 566.3,748.3 575.0,748.0 C583.7,747.7 595.2,743.5 599.4,746.3 C603.6,749.1 603.2,761.0 600.0,765.0 C596.8,769.0 586.7,769.6 580.0,770.4 C573.3,771.2 565.5,770.9 560.0,770.0 C554.5,769.1 549.2,768.7 547.0,765.0 C544.8,761.3 542.3,750.8 547.0,748.0Z" fill="#fdb464"/>
<path d="M599.4,737.5 C606.1,733.2 629.1,736.6 640.0,737.0 C650.9,737.4 662.5,735.5 665.0,740.0 C667.5,744.5 662.5,759.6 655.0,763.8 C647.5,768.0 629.2,765.1 620.0,765.0 C610.8,764.9 603.4,767.6 600.0,763.0 C596.6,758.4 592.7,741.8 599.4,737.5Z" fill="#fdb464"/>
<path d="M525.0,760.0 C530.8,757.2 549.0,759.4 560.0,759.4 C571.0,759.4 584.9,757.1 590.7,760.0 C596.5,762.9 600.1,774.2 595.0,777.0 C589.9,779.8 571.7,777.2 560.0,777.0 C548.3,776.8 530.8,778.8 525.0,776.0 C519.2,773.2 519.2,762.8 525.0,760.0Z" fill="#fdb464"/>
<path d="M435.8,768.0 C437.5,765.2 445.1,765.8 450.0,765.5 C454.9,765.2 461.0,765.2 465.0,766.0 C469.0,766.8 473.1,767.7 473.9,770.0 C474.7,772.3 473.1,777.8 470.0,780.0 C466.9,782.2 460.0,783.2 455.0,783.5 C450.0,783.8 443.2,784.6 440.0,782.0 C436.8,779.4 434.1,770.8 435.8,768.0Z" fill="#e9593b"/>
<path d="M490.8,734.0 C491.6,732.8 494.9,731.8 497.0,731.6 C499.1,731.4 503.0,731.8 503.5,733.0 C504.0,734.2 501.9,738.0 500.0,739.0 C498.1,740.0 493.5,739.8 492.0,739.0 C490.5,738.2 490.0,735.2 490.8,734.0Z" fill="#e9593b"/>
<path d="M467.6,784.0 C469.6,781.9 474.6,780.0 480.0,779.3 C485.4,778.6 496.1,778.2 500.0,780.0 C503.9,781.8 504.3,787.1 503.5,790.0 C502.7,792.9 499.8,796.1 495.0,797.3 C490.2,798.5 479.5,797.9 475.0,797.0 C470.5,796.1 469.2,794.2 468.0,792.0 C466.8,789.8 465.6,786.1 467.6,784.0Z" fill="#fdb464"/>
<path d="M385.0,824.0 C379.1,822.0 388.1,815.7 391.4,812.0 C394.7,808.3 400.2,803.9 405.0,802.0 C409.8,800.1 416.3,799.1 420.0,800.4 C423.7,801.7 426.1,806.1 427.3,810.0 C428.5,813.9 434.1,821.7 427.0,824.0 C419.9,826.3 390.9,826.0 385.0,824.0Z" fill="#fdb464"/>
<path d="M390.0,824.0 C387.5,822.5 396.7,816.8 400.0,815.0 C403.3,813.2 407.5,811.5 410.0,813.0 C412.5,814.5 418.3,822.2 415.0,824.0 C411.7,825.8 392.5,825.5 390.0,824.0Z" fill="#fde28f"/>
<path d="M503.5,810.0 C505.5,806.4 510.6,803.4 515.0,802.6 C519.4,801.8 527.5,801.4 530.0,805.0 C532.5,808.6 534.5,820.8 530.0,824.0 C525.5,827.2 507.4,826.3 503.0,824.0 C498.6,821.7 501.5,813.6 503.5,810.0Z" fill="#fdb464"/>
<path d="M530.0,798.8 C545.0,795.9 604.2,795.9 620.0,798.8 C635.8,801.7 640.0,813.4 625.0,816.3 C610.0,819.2 545.8,819.2 530.0,816.3 C514.2,813.4 515.0,801.7 530.0,798.8Z" fill="#fdb464"/>
<path d="M550.0,805.0 C556.7,803.2 590.0,801.8 600.0,803.0 C610.0,804.2 616.7,810.2 610.0,812.0 C603.3,813.8 570.0,815.2 560.0,814.0 C550.0,812.8 543.3,806.8 550.0,805.0Z" fill="#fde28f"/>
<path d="M542.0,780.0 C547.8,776.7 563.7,775.8 575.0,775.0 C586.3,774.2 599.2,774.8 610.0,775.0 C620.8,775.2 633.3,775.2 640.0,776.0 C646.7,776.8 650.0,775.8 650.0,780.0 C650.0,784.2 648.3,797.2 640.0,801.0 C631.7,804.8 613.3,802.5 600.0,802.5 C586.7,802.5 570.0,802.2 560.0,801.0 C550.0,799.8 543.0,798.5 540.0,795.0 C537.0,791.5 536.2,783.3 542.0,780.0Z" fill="#e9f5e8"/>
<path d="M555.0,782.0 C560.7,779.3 578.3,779.3 590.0,779.0 C601.7,778.7 615.8,779.3 625.0,780.0 C634.2,780.7 644.2,780.1 645.0,783.0 C645.8,785.9 639.2,794.9 630.0,797.5 C620.8,800.1 602.3,798.9 590.0,798.5 C577.7,798.1 561.8,797.8 556.0,795.0 C550.2,792.2 549.3,784.7 555.0,782.0Z" fill="#c3e3ef"/>
<path d="M565.0,784.0 C568.2,782.3 579.2,781.8 585.0,782.0 C590.8,782.2 597.8,783.2 600.0,785.0 C602.2,786.8 601.3,791.5 598.0,793.0 C594.7,794.5 585.3,794.2 580.0,794.0 C574.7,793.8 568.5,793.7 566.0,792.0 C563.5,790.3 561.8,785.7 565.0,784.0Z" fill="#97c7e2"/>
<path d="M574.0,786.0 C574.8,784.8 580.3,784.7 583.0,785.0 C585.7,785.3 589.2,786.8 590.0,788.0 C590.8,789.2 590.0,791.3 588.0,792.0 C586.0,792.7 580.3,793.0 578.0,792.0 C575.7,791.0 573.2,787.2 574.0,786.0Z" fill="#6ea5d1"/>
<path d="M455.8,723.4 L462.3,723.4 L462.7,730.1 L462.7,737.1 L463.1,741.6 L462.3,744.2 L469.6,743.7 L476.6,742.7 L483.5,741.4 L480.5,746.2 L477.5,747.7 L472.5,753.0 L467.5,757.8 L463.7,762.6 L457.5,767.8 L449.5,771.5 L441.5,773.8 L432.8,777.1 L426.6,781.3 L424.0,784.3 L420.5,789.3 L419.5,793.2 L417.0,798.4 L415.9,802.7 L409.5,808.4 L403.5,813.8 L397.5,817.0 L393.3,818.9 L387.5,820.4Z" fill="#bebebe" stroke="#ffffff" stroke-width="0.9" stroke-linejoin="round"/>
<path d="M462.3,723.4 L511.4,723.6 L507.0,726.7 L499.5,730.2 L493.0,734.1 L484.6,737.2 L476.6,739.2 L468.2,740.5 L464.6,741.6 L463.1,741.6 L462.7,737.1 L462.7,730.1Z" fill="#bebebe" stroke="#ffffff" stroke-width="0.9" stroke-linejoin="round"/>
<path d="M410.7,820.5 L413.6,812.3 L419.4,809.5 L426.7,806.5 L431.4,803.5 L435.5,801.3 L437.7,802.8 L434.4,806.5 L431.1,810.8 L426.3,815.5 L423.7,820.5Z" fill="#bebebe" stroke="#ffffff" stroke-width="0.9" stroke-linejoin="round"/>
<path d="M547.2,723.7 L545.3,728.3 L543.9,733.4 L541.3,741.4 L539.4,748.1 L539.7,753.4 L540.7,752.6 L544.2,749.4 L548.2,745.4 L553.2,739.4 L558.4,735.0 L563.2,730.9 L567.2,728.3 L574.2,725.3 L580.2,723.8Z" fill="#bebebe" stroke="#ffffff" stroke-width="0.9" stroke-linejoin="round"/>
<path d="M545.7,749.4 L548.2,747.9 L550.7,750.4 L551.0,754.5 L548.6,757.3 L546.0,755.5Z" fill="#bebebe" stroke="#ffffff" stroke-width="0.9" stroke-linejoin="round"/>
<path d="M598.9,723.8 L597.5,732.2 L601.0,734.5 L603.2,736.5 L598.8,743.9 L596.0,747.6 L594.0,752.6 L593.2,758.6 L593.1,763.7 L594.1,768.1 L595.4,768.1 L597.4,764.7 L597.9,758.6 L598.9,751.6 L602.0,745.6 L606.0,742.6 L610.4,742.5 L612.4,747.6 L613.9,749.8 L618.9,748.6 L622.1,746.9 L625.9,743.6 L629.4,739.6 L630.9,732.6 L631.0,726.3 L633.0,723.9Z" fill="#bebebe" stroke="#ffffff" stroke-width="0.9" stroke-linejoin="round"/>
<path d="M580.4,758.7 L583.5,758.6 L586.2,759.3 L588.9,764.6 L591.3,769.9 L593.6,774.7 L593.6,778.2 L590.8,782.8 L587.8,786.8 L586.0,787.5 L583.8,783.8 L583.1,780.4 L581.9,774.7 L581.4,769.9 L580.5,763.6Z" fill="#bebebe" stroke="#ffffff" stroke-width="0.9" stroke-linejoin="round"/>
<path d="M586.0,786.9 L589.8,787.0 L593.7,787.3 L598.7,788.0 L602.2,788.8 L605.2,790.9 L602.7,792.7 L596.7,792.4 L591.7,792.3 L587.2,791.3Z" fill="#bebebe" stroke="#ffffff" stroke-width="0.9" stroke-linejoin="round"/>
<path d="M604.1,769.3 L606.3,767.7 L608.2,767.0 L612.8,765.7 L617.5,764.6 L622.8,762.2 L629.2,758.8 L632.7,757.2 L636.1,756.5 L638.4,758.2 L636.2,760.8 L633.7,763.0 L631.7,766.8 L629.1,771.2 L625.7,773.8 L622.1,775.8 L617.7,778.8 L613.9,781.7 L610.4,780.5 L606.7,779.8 L604.6,778.8 L603.8,773.8Z" fill="#bebebe" stroke="#ffffff" stroke-width="0.9" stroke-linejoin="round"/>
<path d="M648.9,723.9 L654.9,724.0 L651.8,727.6 L647.9,728.6Z" fill="#bebebe" stroke="#ffffff" stroke-width="0.9" stroke-linejoin="round"/>
<path d="M460.8,723.4 L468.2,723.4 L467.2,730.1 L466.2,736.1 L464.4,740.6 L463.2,740.9 L462.0,736.1 L461.2,730.1Z" fill="#ffffff" />
<path d="M395.9,818.3L395.3,819.5M405.8,818.3L405.2,819.5M425.5,818.3L425.3,818.9L425.0,819.6M435.5,818.3L435.2,819.0L434.9,819.6M445.5,818.5L445.2,819.0L444.8,819.7M455.2,818.5L454.7,819.6M465.2,818.5L464.7,819.6M475.4,818.7L474.6,819.7M485.1,818.8L484.6,819.6M495.1,818.9L494.5,819.7M505.5,819.1L504.9,819.5L504.3,819.9M515.2,819.3L514.4,819.8M435.1,810.3L435.0,811.0L434.9,811.8M445.5,810.5L445.2,811.2L444.8,811.8M454.7,810.4L454.6,811.8M464.5,810.5L464.5,811.8M475.4,810.8L474.6,811.9M484.4,810.8L484.3,811.6M494.1,810.8L494.2,811.7M505.8,811.1L505.8,811.1L505.0,811.7L504.2,812.2L504.1,812.2M416.1,802.5L415.6,803.3L415.1,804.1M425.8,802.5L425.4,803.3L425.0,804.0M445.8,802.6L445.3,803.4L444.8,804.2M455.6,802.7L455.2,803.4L454.8,804.1M465.7,802.8L465.2,803.4L464.7,804.1M476.0,802.9L476.0,802.9L475.2,803.6L474.5,804.3L474.5,804.3M486.0,803.0L485.9,803.1L485.2,803.7L484.4,804.3L484.3,804.4M497.0,803.0L497.0,803.0L496.1,803.4L495.2,803.9L494.3,804.3L493.4,804.8L493.3,804.9M507.6,803.0L507.0,803.2L506.0,803.6L505.1,804.0L504.2,804.4L503.3,804.8L502.6,805.1M516.4,803.3L515.9,803.6L515.0,804.0L514.1,804.4L513.6,804.7M526.1,803.5L525.8,803.6L524.9,804.0L524.0,804.4L523.7,804.6M535.5,804.2L534.3,804.4M564.6,805.6L564.0,804.9M426.2,794.7L425.6,795.5L425.0,796.3M436.0,794.5L435.9,794.6L435.4,795.5L434.9,796.3L434.8,796.5M446.0,794.5L445.9,794.7L445.4,795.5L444.8,796.4L444.7,796.5M456.2,794.9L456.1,794.9L455.4,795.7L454.7,796.4L454.7,796.5M466.2,794.9L466.1,795.0L465.4,795.7L464.6,796.4L464.5,796.5M476.2,795.0L476.1,795.1L475.3,795.8L474.5,796.4L474.4,796.6M486.9,795.2L486.2,795.5L485.3,796.0L484.4,796.5L483.8,796.8M498.0,795.0L497.1,795.4L496.2,795.7L495.3,796.1L494.3,796.5L493.4,796.9L492.5,797.3M508.3,795.1L508.0,795.2L507.1,795.5L506.1,795.8L505.2,796.2L504.3,796.5L503.3,796.9L502.4,797.2L502.0,797.4M518.1,795.3L518.0,795.3L517.0,795.6L516.1,795.9L515.1,796.2L514.2,796.5L513.2,796.9L512.3,797.2L512.1,797.2M527.6,795.7L527.0,795.9L526.0,796.1L525.0,796.3L524.1,796.6L523.1,796.8L522.4,797.1M536.7,797.2L535.9,797.0L535.0,796.8L534.0,796.6L533.1,796.5M546.4,798.7L546.2,798.5L545.4,797.9L544.6,797.3L543.9,796.6L543.1,796.0L542.9,795.8M555.8,798.9L555.8,798.9L555.1,798.1L554.4,797.4L553.8,796.7L553.1,795.9L553.0,795.8M565.4,799.4L565.3,799.2L564.7,798.4L564.2,797.5L563.7,796.7L563.2,795.8L563.1,795.6M574.8,799.5L574.3,798.6L573.9,797.6L573.6,796.7L573.2,795.7M584.4,799.2L584.2,798.6L583.8,797.7L583.5,796.7L583.2,796.1M594.2,798.9L594.1,798.6L593.7,797.7L593.4,796.8L593.3,796.5M426.2,786.8L426.2,786.8L425.7,787.6L425.1,788.4L425.0,788.5M436.3,786.8L436.2,786.9L435.6,787.7L435.0,788.5L434.9,788.6M446.3,786.9L446.2,787.0L445.5,787.7L444.9,788.5L444.7,788.7M456.4,787.0L456.2,787.2L455.5,787.8L454.8,788.5L454.6,788.7M466.4,787.1L466.2,787.3L465.4,787.9L464.7,788.6L464.5,788.8M476.5,787.2L476.2,787.4L475.4,788.0L474.6,788.6L474.2,788.9M487.2,787.4L486.3,787.8L485.4,788.2L484.5,788.6L483.6,789.1M497.9,787.4L497.2,787.7L496.3,788.0L495.3,788.3L494.4,788.6L493.5,789.0L492.7,789.2M508.3,787.5L508.1,787.5L507.2,787.8L506.2,788.1L505.3,788.4L504.3,788.7L503.3,789.0L502.4,789.3L502.2,789.3M520.0,786.9L519.9,786.9L519.0,787.2L518.0,787.5L517.1,787.8L516.1,788.1L515.2,788.4L514.2,788.7L513.3,789.0L512.3,789.3L511.4,789.6L510.4,789.9L510.3,790.0M528.4,788.2L528.1,788.2L527.1,788.3L526.1,788.4L525.1,788.6L524.1,788.7L523.1,788.9L522.1,789.1L521.8,789.2M537.5,789.6L536.9,789.4L536.0,789.1L535.0,788.9L534.0,788.8L533.0,788.6L532.4,788.6M546.7,791.6L546.7,791.6L546.1,790.9L545.4,790.1L544.7,789.4L543.9,788.8L543.2,788.1L542.4,787.5L542.3,787.5M555.9,792.2L555.5,791.3L555.0,790.4L554.4,789.6L553.8,788.8L553.2,788.0L552.5,787.3M565.5,792.9L565.3,792.5L564.9,791.6L564.5,790.7L564.1,789.8L563.7,788.8L563.3,787.9L562.9,787.0L562.6,786.6M574.3,793.6L574.2,792.8L574.0,791.8L573.9,790.8L573.8,789.9L573.6,788.9L573.5,787.9L573.3,786.9L573.0,786.2M584.4,792.3L584.3,791.8L584.0,790.8L583.8,789.9L583.5,788.9L583.3,787.9L583.1,787.4M604.6,790.7L604.5,790.6L603.9,789.8L603.3,789.0L603.2,788.8M614.8,789.9L614.1,789.5L613.4,789.1M436.5,779.0L436.4,779.2L435.7,779.9L435.0,780.6L434.9,780.8M446.4,778.9L446.2,779.1L445.6,779.9L444.9,780.6L444.7,780.9M456.5,779.1L456.3,779.3L455.6,780.0L454.8,780.7L454.6,780.9M466.4,779.1L466.2,779.3L465.5,780.0L464.7,780.7L464.5,781.0M476.5,779.2L476.2,779.5L475.4,780.1L474.6,780.7L474.3,781.0M487.6,779.5L487.3,779.6L486.4,780.0L485.5,780.4L484.5,780.8L483.6,781.2L483.3,781.3M499.4,779.3L499.2,779.3L498.3,779.6L497.3,779.9L496.4,780.2L495.4,780.5L494.4,780.8L493.5,781.1L492.5,781.4L491.6,781.7L491.4,781.7M508.3,779.8L508.2,779.8L507.2,780.0L506.3,780.3L505.3,780.6L504.4,780.8L503.4,781.1L502.4,781.4L502.3,781.4M518.4,780.1L518.2,780.1L517.2,780.3L516.2,780.5L515.2,780.6L514.3,780.8L513.3,781.0L512.3,781.3L512.0,781.3M529.1,780.2L528.1,780.3L527.1,780.5L526.1,780.6L525.1,780.7L524.2,780.9L523.2,781.0L522.2,781.1L521.2,781.3M539.3,780.9L539.1,780.9L538.1,780.8L537.1,780.8L536.1,780.8L535.1,780.8L534.1,780.9L533.1,781.0L532.1,781.1L531.1,781.2L530.8,781.3M547.9,782.5L547.7,782.4L546.8,782.0L545.8,781.6L544.9,781.3L544.0,780.9L543.0,780.6L542.1,780.3L541.8,780.2M557.5,783.5L557.2,783.2L556.4,782.6L555.6,782.0L554.7,781.4L553.9,781.0L553.0,780.5L552.1,780.0L551.6,779.8M567.1,784.9L567.0,784.8L566.4,784.0L565.8,783.2L565.1,782.5L564.4,781.7L563.8,781.0L563.1,780.2L562.4,779.5L561.8,778.8L561.6,778.6M575.6,784.6L575.5,784.5L575.1,783.6L574.7,782.7L574.2,781.9L573.7,781.0L573.1,780.2L572.6,779.3L572.5,779.3M595.0,783.5L594.6,782.7L594.1,781.9L593.5,781.1L592.9,780.4M605.2,782.6L604.9,782.3L604.2,781.7L603.4,781.1L603.1,780.9M625.3,781.4L625.2,781.4L624.2,781.3L623.2,781.2L623.1,781.1M456.6,771.3L456.4,771.5L455.6,772.2L454.9,772.8L454.6,773.1M466.7,771.4L466.4,771.6L465.6,772.2L464.8,772.9L464.4,773.1M476.9,771.5L476.4,771.8L475.5,772.3L474.7,772.9L474.2,773.2M487.4,771.6L487.3,771.6L486.4,772.1L485.5,772.5L484.6,772.9L483.7,773.3L483.6,773.4M497.8,771.7L497.3,771.9L496.4,772.3L495.4,772.6L494.5,772.9L493.6,773.3L493.0,773.5M508.1,772.1L507.3,772.3L506.3,772.5L505.4,772.7L504.4,773.0L503.4,773.2L502.7,773.4M518.2,772.5L517.3,772.6L516.3,772.7L515.3,772.9L514.3,773.0L513.3,773.1L512.3,773.3M528.6,772.7L528.2,772.8L527.2,772.8L526.2,772.9L525.2,772.9L524.2,773.0L523.2,773.1L522.2,773.2L521.8,773.2M538.6,773.3L538.1,773.2L537.1,773.2L536.1,773.1L535.1,773.1L534.1,773.1L533.1,773.0L532.1,773.0L531.6,773.1M548.2,774.3L547.9,774.2L546.9,773.9L545.9,773.6L545.0,773.3L544.0,773.1L543.0,772.8L542.1,772.6L541.7,772.6M557.9,774.9L557.6,774.7L556.7,774.3L555.8,773.9L554.8,773.5L553.9,773.1L553.0,772.7L552.0,772.4L551.6,772.3M567.1,775.5L567.1,775.5L566.3,774.8L565.5,774.2L564.7,773.7L563.8,773.1L563.0,772.6L562.1,772.1L562.0,772.1M576.6,775.4L576.1,775.0L575.3,774.3L574.5,773.7L573.7,773.2L572.9,772.6L572.3,772.2M596.0,774.7L595.3,774.2L594.4,773.7L593.5,773.2L592.7,772.8M605.8,774.1L605.3,773.9L604.4,773.6L603.4,773.2L602.9,773.1M466.6,763.4L466.3,763.6L465.6,764.3L464.8,765.0L464.5,765.3M476.6,763.5L476.3,763.8L475.5,764.4L474.7,765.0L474.4,765.3M487.3,763.8L486.4,764.2L485.5,764.6L484.6,765.1L483.8,765.5M497.5,764.1L497.4,764.1L496.4,764.4L495.5,764.7L494.5,765.1L493.6,765.5L493.5,765.5M508.2,764.6L507.4,764.7L506.4,764.8L505.4,765.0L504.5,765.1L503.5,765.3L502.6,765.4M518.4,764.8L518.3,764.8L517.3,764.9L516.3,764.9L515.4,765.0L514.4,765.1L513.4,765.2L512.4,765.4L512.3,765.4M529.1,765.1L528.3,765.1L527.3,765.1L526.3,765.1L525.3,765.1L524.3,765.2L523.3,765.2L522.3,765.2L521.3,765.3M539.3,765.3L539.2,765.3L538.2,765.3L537.2,765.3L536.2,765.2L535.2,765.2L534.2,765.2L533.2,765.2L532.2,765.2L531.2,765.2L531.0,765.2M548.6,765.7L548.0,765.6L547.1,765.5L546.1,765.4L545.1,765.3L544.1,765.2L543.1,765.1L542.1,765.1L541.4,765.0M559.3,765.8L558.9,765.8L557.9,765.7L557.0,765.5L556.0,765.4L555.0,765.3L554.0,765.3L553.0,765.2L552.0,765.1L551.0,765.0L550.6,765.0M568.1,766.2L567.8,766.1L566.8,765.9L565.8,765.7L564.9,765.5L563.9,765.3L562.9,765.1L561.9,764.9L561.6,764.9M578.0,766.0L577.7,766.0L576.7,765.8L575.7,765.7L574.8,765.5L573.8,765.3L572.8,765.1L571.8,764.9L571.5,764.9M606.1,765.7L605.5,765.6L604.5,765.5L603.5,765.4L602.8,765.3M615.8,765.1L615.4,765.2L614.4,765.3L613.4,765.4L612.9,765.5M635.5,764.8L635.1,764.9L634.1,765.2L633.2,765.5L632.8,765.6M477.0,755.9L476.5,756.2L475.7,756.7L474.8,757.2L474.3,757.5M487.3,756.1L486.5,756.4L485.6,756.8L484.7,757.2L483.9,757.6M498.0,756.6L497.5,756.6L496.6,756.8L495.6,757.0L494.6,757.2L493.6,757.5L493.2,757.6M509.4,757.2L508.5,757.2L507.5,757.2L506.5,757.3L505.5,757.3L504.5,757.3L503.5,757.3L502.5,757.3L501.5,757.3M518.4,756.9L517.4,757.0L516.4,757.1L515.4,757.2L514.4,757.3L513.4,757.4L512.4,757.5M529.6,757.2L529.3,757.2L528.3,757.2L527.3,757.2L526.3,757.3L525.3,757.3L524.3,757.3L523.3,757.3L522.3,757.4L521.3,757.4L521.0,757.5M540.0,757.4L539.2,757.4L538.2,757.3L537.2,757.3L536.2,757.3L535.2,757.3L534.2,757.3L533.2,757.3L532.2,757.4L531.2,757.4L530.4,757.4M548.9,757.5L548.1,757.5L547.1,757.5L546.1,757.4L545.1,757.4L544.1,757.4L543.1,757.3L542.1,757.3L541.3,757.3M560.6,757.5L560.0,757.5L559.0,757.4L558.0,757.4L557.0,757.4L556.0,757.4L555.0,757.4L554.0,757.4L553.0,757.4L552.0,757.4L551.0,757.4L550.0,757.4L549.4,757.3M568.0,757.6L567.9,757.6L566.9,757.5L565.9,757.5L564.9,757.5L563.9,757.4L562.9,757.4L561.9,757.4L561.8,757.4M577.7,757.8L576.8,757.7L575.8,757.6L574.8,757.5L573.8,757.5L572.8,757.4L571.9,757.3M586.4,757.5L585.7,757.5L584.7,757.5L583.7,757.5L583.0,757.5M606.2,757.3L605.5,757.4L604.5,757.5L603.5,757.5L602.8,757.6M616.0,756.9L615.4,757.1L614.4,757.3L613.4,757.6L612.8,757.7M625.8,756.8L625.2,757.0L624.3,757.3L623.3,757.6L622.8,757.8M487.0,748.1L486.5,748.4L485.6,748.9L484.7,749.4L484.2,749.7M497.7,748.6L497.6,748.6L496.6,748.9L495.6,749.1L494.6,749.4L493.7,749.6L493.5,749.7M507.8,748.6L507.5,748.7L506.5,748.9L505.5,749.2L504.6,749.4L503.6,749.6L503.2,749.7M517.7,748.7L517.4,748.8L516.4,749.0L515.4,749.2L514.5,749.4L513.5,749.7L513.1,749.8M528.2,749.1L527.3,749.2L526.4,749.3L525.4,749.4L524.4,749.5L523.4,749.6L522.5,749.7M538.3,749.3L538.3,749.3L537.3,749.4L536.3,749.4L535.3,749.5L534.3,749.5L533.3,749.5L532.3,749.6L532.2,749.6M548.0,749.5L547.2,749.5L546.2,749.5L545.2,749.5L544.2,749.5L543.2,749.5L542.3,749.6M557.6,749.4L557.1,749.4L556.1,749.5L555.1,749.5L554.1,749.6L553.1,749.6L552.5,749.6M566.0,748.9L565.9,748.9L564.9,749.2L564.0,749.6L563.8,749.6M576.8,749.5L575.9,749.5L574.9,749.6L573.9,749.6L573.0,749.7M586.5,749.4L585.8,749.5L584.8,749.6L583.8,749.6L583.0,749.7M596.2,749.3L595.7,749.4L594.7,749.5L593.7,749.7L593.1,749.7M606.2,749.1L605.5,749.3L604.6,749.5L603.6,749.7L602.9,749.8M616.0,748.5L615.3,748.8L614.4,749.3L613.5,749.7L612.7,750.1M626.0,748.8L625.3,749.1L624.3,749.4L623.4,749.7L622.6,750.0M636.4,748.6L636.1,748.7L635.2,749.1L634.2,749.4L633.3,749.8L632.4,750.1L632.0,750.3M646.6,748.4L646.0,748.7L645.0,749.0L644.1,749.4L643.2,749.8L642.3,750.2L641.6,750.5M477.4,740.5L476.8,740.7L475.8,741.1L474.9,741.5L474.3,741.7M487.4,740.6L486.7,740.8L485.7,741.2L484.8,741.5L484.0,741.8M497.7,740.8L497.6,740.8L496.6,741.0L495.7,741.3L494.7,741.5L493.7,741.8L493.6,741.8M507.7,740.9L507.5,740.9L506.6,741.1L505.6,741.3L504.6,741.6L503.6,741.8L503.5,741.8M517.6,741.0L517.5,741.0L516.5,741.2L515.5,741.4L514.5,741.6L513.5,741.8L513.3,741.8M527.4,741.2L527.4,741.2L526.4,741.3L525.4,741.5L524.4,741.6L523.4,741.8L523.3,741.8M537.5,741.3L537.3,741.4L536.3,741.4L535.3,741.5L534.3,741.6L533.3,741.7L533.1,741.8M556.6,741.4L556.1,741.5L555.1,741.6L554.1,741.7L553.5,741.8M566.6,741.4L566.0,741.5L565.0,741.6L564.0,741.7L563.4,741.8M576.6,741.5L575.9,741.6L574.9,741.7L573.9,741.8L573.2,741.8M586.3,741.3L585.8,741.4L584.8,741.6L583.8,741.8L583.3,741.9M596.0,741.3L595.7,741.3L594.7,741.6L593.7,741.8L593.4,741.9M636.4,740.8L636.2,740.9L635.2,741.2L634.3,741.6L633.3,741.9L632.4,742.3L632.1,742.4M646.5,740.7L646.1,740.9L645.1,741.2L644.2,741.6L643.2,742.0L642.3,742.3L641.9,742.5M497.7,732.9L497.7,732.9L496.7,733.2L495.7,733.4L494.8,733.7L493.8,733.9L493.7,733.9M507.6,733.0L507.6,733.0L506.6,733.3L505.6,733.5L504.7,733.7L503.7,733.9L503.6,734.0M517.4,733.2L516.5,733.4L515.5,733.5L514.6,733.7L513.6,733.9M527.0,733.3L526.4,733.4L525.4,733.6L524.5,733.8L523.9,733.9M537.2,733.4L536.3,733.5L535.4,733.7L534.4,733.8L533.5,733.9M566.4,733.6L566.1,733.6L565.1,733.7L564.1,733.9L563.7,733.9M576.6,733.7L576.0,733.7L575.0,733.8L574.0,733.9L573.3,734.0M586.5,733.6L585.9,733.7L584.9,733.8L583.9,733.9L583.2,734.0M596.4,733.6L595.8,733.7L594.8,733.8L593.8,734.0L593.1,734.1M636.6,732.8L636.2,733.0L635.3,733.3L634.3,733.7L633.4,734.1L632.5,734.4L632.0,734.6M646.7,732.7L646.1,733.0L645.1,733.3L644.2,733.7L643.3,734.1L642.4,734.5L641.7,734.8M656.3,733.1L656.0,733.2L655.1,733.5L654.1,733.8L653.2,734.1L652.3,734.4L651.9,734.6M517.5,725.4L516.6,725.5L515.6,725.7L514.6,725.9L513.7,726.1M527.3,725.5L526.5,725.6L525.5,725.8L524.5,725.9L523.7,726.1M537.2,725.6L536.4,725.7L535.4,725.8L534.4,725.9L533.6,726.1M546.9,725.6L546.3,725.7L545.3,725.8L544.3,726.0L543.6,726.1M576.7,725.8L576.0,725.9L575.0,726.0L574.0,726.1L573.3,726.1M586.6,725.8L585.9,725.9L584.9,726.0L583.9,726.1L583.2,726.2M596.5,725.7L595.8,725.8L594.8,726.0L593.8,726.1L593.1,726.2M636.4,725.2L636.3,725.3L635.3,725.6L634.4,725.9L633.4,726.2L632.5,726.5L632.3,726.6M646.5,725.2L646.2,725.3L645.2,725.6L644.3,725.9L643.3,726.2L642.4,726.6L642.1,726.7M656.3,725.4L656.1,725.4L655.2,725.7L654.2,726.0L653.2,726.3L652.3,726.6L652.1,726.6" fill="none" stroke="#000" stroke-width="0.65"/>
<path d="M394.5,821.2L394.6,818.2L396.8,819.2ZM404.3,821.3L404.5,818.2L406.7,819.3ZM424.2,821.4L424.2,818.3L426.4,819.3ZM434.1,821.4L434.1,818.4L436.3,819.4ZM443.8,821.4L444.2,818.3L446.3,819.6ZM453.9,821.4L454.0,818.4L456.2,819.3ZM463.8,821.4L463.9,818.3L466.1,819.4ZM473.4,821.3L474.2,818.3L476.1,819.8ZM483.5,821.3L484.0,818.3L486.0,819.6ZM493.3,821.2L494.1,818.3L496.0,819.7ZM502.7,821.0L504.3,818.5L505.7,820.5ZM512.8,820.9L514.5,818.4L515.8,820.4ZM522.8,820.7L524.7,818.3L525.9,820.4ZM532.6,820.5L535.0,818.6L535.6,820.9ZM542.7,820.3L545.3,818.8L545.6,821.2ZM552.5,820.1L555.5,819.3L555.1,821.7ZM562.5,819.9L565.5,819.7L564.7,821.9ZM572.6,819.9L575.6,820.0L574.7,822.1ZM582.5,819.9L585.5,820.1L584.4,822.2ZM592.3,819.9L595.4,820.1L594.3,822.2ZM434.6,813.7L433.8,810.8L436.2,811.1ZM444.0,813.6L444.2,810.5L446.3,811.6ZM454.6,813.7L453.5,810.9L455.9,810.9ZM464.6,813.8L463.3,811.0L465.7,810.9ZM473.5,813.5L474.1,810.5L476.1,811.9ZM484.3,813.6L483.2,810.8L485.6,810.8ZM494.4,813.6L492.9,811.0L495.3,810.7ZM502.5,813.3L504.1,810.8L505.5,812.8ZM513.7,813.2L513.6,810.1L515.8,811.0ZM524.2,813.1L522.2,810.9L524.5,810.1ZM532.9,812.7L535.0,810.5L536.0,812.7ZM544.1,812.9L541.6,811.1L543.7,809.9ZM553.1,812.3L556.1,811.6L555.7,813.9ZM562.9,812.0L565.9,812.4L564.6,814.5ZM573.9,812.6L570.8,812.7L571.7,810.4ZM583.1,812.1L585.8,813.7L583.8,815.1ZM592.8,812.0L595.7,812.9L594.1,814.8ZM414.1,805.8L414.5,802.8L416.6,804.0ZM424.1,805.8L424.4,802.7L426.5,803.8ZM443.7,805.8L444.3,802.8L446.3,804.1ZM453.8,805.8L454.2,802.7L456.3,804.0ZM463.6,805.8L464.2,802.8L466.2,804.1ZM473.0,805.7L474.2,802.9L475.9,804.6ZM482.9,805.7L484.2,802.9L485.7,804.7ZM491.7,806.0L493.3,803.4L494.7,805.4ZM500.8,805.9L502.9,803.6L503.9,805.8ZM511.8,805.5L513.8,803.2L514.8,805.4ZM522.0,805.5L523.9,803.1L525.0,805.3ZM532.3,804.7L534.9,803.1L535.3,805.5ZM544.1,804.9L541.5,803.3L543.5,801.9ZM552.8,803.9L555.8,804.5L554.4,806.5ZM562.7,803.5L565.4,804.7L563.7,806.4ZM574.0,804.6L571.2,805.8L571.1,803.4ZM583.1,803.8L585.3,805.9L583.1,806.8ZM592.9,803.9L595.3,805.6L593.3,806.9ZM604.1,805.3L601.1,804.6L602.5,802.7ZM423.9,797.9L424.5,794.9L426.5,796.3ZM433.8,798.2L434.2,795.1L436.3,796.4ZM443.7,798.2L444.2,795.2L446.2,796.4ZM453.3,797.9L454.3,795.0L456.1,796.7ZM463.1,797.9L464.3,795.1L465.9,796.8ZM472.9,797.9L474.2,795.1L475.8,796.9ZM482.1,797.8L483.9,795.4L485.1,797.5ZM490.7,798.0L492.8,795.8L493.8,798.0ZM500.2,798.1L502.4,795.9L503.2,798.2ZM510.2,797.9L512.5,795.8L513.3,798.1ZM520.5,797.7L522.8,795.7L523.6,798.0ZM531.2,796.3L534.1,795.4L533.9,797.8ZM541.4,794.5L544.3,795.4L542.7,797.3ZM551.7,794.4L554.5,795.7L552.7,797.3ZM562.1,793.9L564.5,795.8L562.4,797.0ZM572.5,793.9L574.6,796.1L572.4,797.0ZM582.6,794.3L584.7,796.5L582.4,797.3ZM592.7,794.6L594.7,797.0L592.4,797.7ZM602.6,795.8L605.2,797.5L603.2,798.8ZM612.3,796.2L615.3,796.8L613.9,798.8ZM423.9,790.1L424.5,787.1L426.5,788.5ZM433.7,790.2L434.4,787.2L436.3,788.7ZM443.5,790.2L444.3,787.3L446.2,788.8ZM453.2,790.1L454.4,787.3L456.0,789.0ZM463.0,790.0L464.3,787.3L465.9,789.1ZM472.7,790.0L474.2,787.4L475.6,789.3ZM481.8,790.0L483.8,787.6L484.9,789.8ZM490.9,789.9L493.1,787.8L494.0,790.1ZM500.3,789.9L502.6,787.9L503.4,790.2ZM508.4,790.6L510.7,788.6L511.4,790.9ZM519.9,789.6L522.4,787.8L522.9,790.1ZM530.4,788.4L533.3,787.4L533.1,789.8ZM540.6,786.5L543.6,786.9L542.4,789.0ZM551.2,785.9L554.0,787.1L552.2,788.7ZM561.6,784.9L564.1,786.7L562.0,787.9ZM572.3,784.3L574.4,786.5L572.2,787.4ZM582.5,785.6L584.5,787.8L582.2,788.6ZM602.1,787.2L604.7,788.8L602.7,790.2ZM611.7,788.0L614.7,788.5L613.4,790.5ZM433.5,782.2L434.5,779.4L436.3,781.0ZM443.4,782.4L444.4,779.5L446.2,781.1ZM453.2,782.2L454.4,779.5L456.0,781.2ZM463.0,782.3L464.3,779.5L465.9,781.3ZM472.9,782.4L474.1,779.6L475.7,781.4ZM481.5,782.1L483.6,779.9L484.6,782.0ZM489.5,782.3L491.8,780.3L492.6,782.6ZM500.4,782.0L502.8,780.0L503.4,782.3ZM510.1,781.8L512.6,780.0L513.1,782.3ZM519.3,781.6L521.8,780.0L522.2,782.3ZM528.9,781.6L531.5,780.0L531.8,782.3ZM539.9,779.7L542.9,779.3L542.3,781.6ZM549.8,779.1L552.9,779.1L551.9,781.3ZM560.2,777.3L563.1,778.4L561.4,780.1ZM571.3,777.8L574.0,779.2L572.1,780.7ZM591.8,778.8L594.4,780.3L592.5,781.7ZM601.6,779.6L604.5,780.4L603.0,782.3ZM621.1,780.8L624.1,780.1L623.7,782.4ZM453.1,774.4L454.5,771.6L456.0,773.4ZM462.9,774.3L464.4,771.7L465.8,773.6ZM472.5,774.3L474.2,771.8L475.5,773.8ZM481.8,774.2L483.8,771.9L484.9,774.1ZM491.2,774.2L493.4,772.1L494.2,774.3ZM500.8,773.9L503.2,772.0L503.8,774.3ZM510.4,773.6L513.0,772.0L513.4,774.3ZM519.8,773.4L522.5,771.9L522.7,774.3ZM529.6,773.1L532.4,771.8L532.5,774.2ZM539.7,772.2L542.7,771.5L542.3,773.9ZM549.8,771.6L552.8,771.4L552.1,773.7ZM560.3,771.2L563.3,771.4L562.3,773.5ZM570.7,771.2L573.7,771.6L572.4,773.7ZM591.0,771.9L594.1,772.1L592.9,774.2ZM601.1,772.4L604.1,772.2L603.3,774.5ZM463.1,766.6L464.4,763.8L466.0,765.6ZM472.9,766.6L474.2,763.9L475.8,765.7ZM482.1,766.4L484.0,764.0L485.1,766.2ZM491.7,766.4L493.7,764.1L494.7,766.3ZM500.7,765.8L503.2,764.1L503.7,766.5ZM510.4,765.6L513.0,764.1L513.3,766.5ZM519.4,765.4L522.1,764.0L522.2,766.4ZM529.0,765.2L531.8,764.0L531.8,766.4ZM539.5,764.9L542.4,763.9L542.2,766.3ZM548.7,764.8L551.6,763.8L551.3,766.2ZM559.6,764.6L562.6,763.8L562.3,766.2ZM569.6,764.5L572.6,763.9L572.1,766.2ZM600.8,765.1L603.8,764.2L603.5,766.6ZM611.0,765.6L613.7,764.2L613.9,766.6ZM630.9,766.2L633.2,764.2L634.0,766.5ZM472.6,758.5L474.4,756.0L475.6,758.1ZM482.1,758.4L484.2,756.1L485.2,758.3ZM491.3,758.1L493.7,756.2L494.3,758.5ZM499.6,757.4L502.3,756.1L502.4,758.5ZM510.4,757.7L513.1,756.2L513.4,758.6ZM519.1,757.6L521.8,756.2L521.9,758.6ZM528.5,757.4L531.3,756.2L531.3,758.6ZM539.4,757.3L542.2,756.1L542.1,758.5ZM547.5,757.3L550.3,756.2L550.2,758.6ZM559.8,757.3L562.7,756.2L562.6,758.6ZM570.0,757.2L572.9,756.2L572.7,758.6ZM581.1,757.4L583.9,756.3L583.9,758.7ZM600.8,757.7L603.6,756.3L603.7,758.7ZM610.9,758.1L613.4,756.4L613.9,758.7ZM620.9,758.4L623.2,756.4L623.9,758.7ZM482.5,750.7L484.3,748.2L485.5,750.3ZM491.6,750.2L494.0,748.3L494.6,750.6ZM501.3,750.1L503.8,748.4L504.3,750.7ZM511.3,750.3L513.6,748.4L514.3,750.7ZM520.6,749.9L523.2,748.4L523.5,750.8ZM530.3,749.7L533.0,748.3L533.1,750.7ZM540.3,749.6L543.1,748.3L543.1,750.7ZM550.5,749.6L553.3,748.4L553.4,750.8ZM561.9,750.3L564.2,748.2L564.9,750.5ZM571.0,749.8L573.7,748.4L573.9,750.8ZM581.0,749.8L583.8,748.4L583.9,750.8ZM591.2,750.0L593.8,748.4L594.1,750.8ZM601.0,750.2L603.5,748.5L603.9,750.8ZM611.0,750.9L613.0,748.6L614.0,750.8ZM620.8,750.7L623.0,748.6L623.8,750.9ZM630.1,750.9L632.4,748.9L633.2,751.1ZM639.8,751.2L641.9,749.0L642.8,751.3ZM472.4,742.5L474.6,740.3L475.5,742.5ZM482.2,742.5L484.4,740.4L485.2,742.6ZM491.8,742.3L494.1,740.4L494.8,742.7ZM501.6,742.3L504.0,740.5L504.6,742.8ZM511.4,742.2L513.9,740.5L514.4,742.8ZM521.4,742.1L524.0,740.5L524.3,742.8ZM531.1,742.0L533.8,740.5L534.1,742.9ZM551.6,742.0L554.2,740.5L554.5,742.9ZM561.4,742.0L564.1,740.5L564.3,742.9ZM571.2,742.0L573.9,740.6L574.1,742.9ZM581.4,742.2L584.0,740.5L584.3,742.9ZM591.5,742.4L593.9,740.5L594.5,742.9ZM630.3,743.0L632.5,741.0L633.3,743.2ZM640.0,743.2L642.2,741.1L643.1,743.3ZM491.8,734.4L494.2,732.6L494.8,734.9ZM501.7,734.4L504.1,732.6L504.7,734.9ZM511.7,734.3L514.2,732.6L514.6,734.9ZM521.9,734.3L524.5,732.5L524.9,734.9ZM531.6,734.2L534.2,732.6L534.5,735.0ZM561.8,734.2L564.4,732.6L564.7,735.0ZM571.3,734.1L574.0,732.7L574.2,735.1ZM581.2,734.2L583.9,732.7L584.2,735.1ZM591.2,734.4L593.8,732.7L594.1,735.1ZM630.2,735.3L632.4,733.2L633.2,735.4ZM639.9,735.5L642.0,733.3L642.9,735.6ZM650.1,735.2L652.3,733.1L653.1,735.4ZM511.7,726.4L514.3,724.7L514.7,727.1ZM521.7,726.4L524.3,724.7L524.7,727.1ZM531.6,726.3L534.2,724.8L534.6,727.1ZM541.7,726.3L544.3,724.8L544.6,727.1ZM571.4,726.3L574.0,724.8L574.3,727.2ZM581.2,726.4L583.9,724.9L584.2,727.3ZM591.2,726.5L593.8,724.9L594.1,727.3ZM630.5,727.2L632.7,725.2L633.5,727.5ZM640.2,727.3L642.5,725.3L643.3,727.5ZM650.2,727.2L652.6,725.2L653.3,727.5Z" fill="#000"/>
</g>
<path d="M475.9,747.8 L525.6,747.9 L491.4,796.4 L441.8,796.3Z" fill="none" stroke="#88e01c" stroke-width="1.3"/>
<path d="M558.1,772.3 L607.7,772.4 L590.7,796.7 L541.0,796.5Z" fill="none" stroke="#88e01c" stroke-width="1.3"/>
<line x1="451.80" y1="723.40" x2="666.70" y2="724.00" stroke="#8a8a8a" stroke-width="1" />
<line x1="382.50" y1="820.40" x2="599.40" y2="821.00" stroke="#a8a8a8" stroke-width="1.2" />
<line x1="455.80" y1="723.40" x2="387.50" y2="820.40" stroke="#222" stroke-width="1.1" />
<line x1="666.70" y1="724.00" x2="598.40" y2="821.00" stroke="#999" stroke-width="0.8" />
<line x1="666.70" y1="724.00" x2="668.60" y2="720.90" stroke="#777" stroke-width="0.8" />
<path d="M424.3,820.9 L424.3,957.5 L632.6,957.5 L632.6,773.9" fill="none" stroke="#888" stroke-width="1" />
<line x1="452.30" y1="723.40" x2="455.80" y2="723.40" stroke="#999" stroke-width="0.9" />
<text x="446.5" y="727.3" font-size="11" text-anchor="end" fill="#000" font-weight="normal" >20° N</text>
<line x1="435.23" y1="747.65" x2="438.73" y2="747.65" stroke="#999" stroke-width="0.9" />
<text x="429.4" y="751.5" font-size="11" text-anchor="end" fill="#000" font-weight="normal" >10° N</text>
<line x1="418.15" y1="771.90" x2="421.65" y2="771.90" stroke="#999" stroke-width="0.9" />
<text x="412.3" y="775.8" font-size="11" text-anchor="end" fill="#000" font-weight="normal" >0°</text>
<line x1="401.07" y1="796.15" x2="404.57" y2="796.15" stroke="#999" stroke-width="0.9" />
<text x="395.3" y="800.0" font-size="11" text-anchor="end" fill="#000" font-weight="normal" >10° S</text>
<line x1="384.00" y1="820.40" x2="387.50" y2="820.40" stroke="#999" stroke-width="0.9" />
<text x="378.2" y="824.3" font-size="11" text-anchor="end" fill="#000" font-weight="normal" >20° S</text>
<line x1="517.83" y1="723.58" x2="520.43" y2="720.78" stroke="#777" stroke-width="0.8" />
<text x="520.4" y="714.6" font-size="11" text-anchor="middle" fill="#000" font-weight="normal" >60° E</text>
<line x1="592.26" y1="723.79" x2="594.86" y2="720.99" stroke="#777" stroke-width="0.8" />
<text x="594.9" y="714.8" font-size="11" text-anchor="middle" fill="#000" font-weight="normal" >90° E</text>
<line x1="485.50" y1="957.50" x2="485.50" y2="963.00" stroke="#666" stroke-width="0.9" />
<text x="485.5" y="977.6" font-size="11" text-anchor="middle" fill="#000" font-weight="normal" >60° E</text>
<line x1="559.00" y1="957.50" x2="559.00" y2="963.00" stroke="#666" stroke-width="0.9" />
<text x="559.0" y="977.6" font-size="11" text-anchor="middle" fill="#000" font-weight="normal" >90° E</text>
<line x1="632.60" y1="957.50" x2="632.60" y2="963.00" stroke="#666" stroke-width="0.9" />
<text x="632.6" y="977.6" font-size="11" text-anchor="middle" fill="#000" font-weight="normal" >120° E</text>
<line x1="418.30" y1="861.85" x2="424.30" y2="861.85" stroke="#888" stroke-width="0.9" />
<text x="413.8" y="865.8" font-size="11" text-anchor="end" fill="#000" font-weight="normal" >40 m</text>
<line x1="418.30" y1="892.24" x2="424.30" y2="892.24" stroke="#888" stroke-width="0.9" />
<text x="413.8" y="896.1" font-size="11" text-anchor="end" fill="#000" font-weight="normal" >80 m</text>
<line x1="418.30" y1="912.86" x2="424.30" y2="912.86" stroke="#888" stroke-width="0.9" />
<text x="413.8" y="916.8" font-size="11" text-anchor="end" fill="#000" font-weight="normal" >120 m</text>
<line x1="418.30" y1="928.61" x2="424.30" y2="928.61" stroke="#888" stroke-width="0.9" />
<text x="413.8" y="932.5" font-size="11" text-anchor="end" fill="#000" font-weight="normal" >160 m</text>
<line x1="418.30" y1="941.06" x2="424.30" y2="941.06" stroke="#888" stroke-width="0.9" />
<text x="413.8" y="945.0" font-size="11" text-anchor="end" fill="#000" font-weight="normal" >200 m</text>
<line x1="418.30" y1="951.02" x2="424.30" y2="951.02" stroke="#888" stroke-width="0.9" />
<text x="413.8" y="954.9" font-size="11" text-anchor="end" fill="#000" font-weight="normal" >240 m</text>
<text x="624.6" y="715.0" font-size="11" text-anchor="start" fill="#000" font-weight="normal" >0.02 N m<tspan dy="-5" font-size="8.5">−2</tspan></text>
<line x1="645.00" y1="718.70" x2="656.50" y2="718.70" stroke="#000" stroke-width="0.9" />
<path d="M659.5,718.7 l-4.8,-1.9 l0.9,1.9 l-0.9,1.9z" fill="#000"/>
</svg></body></html>
